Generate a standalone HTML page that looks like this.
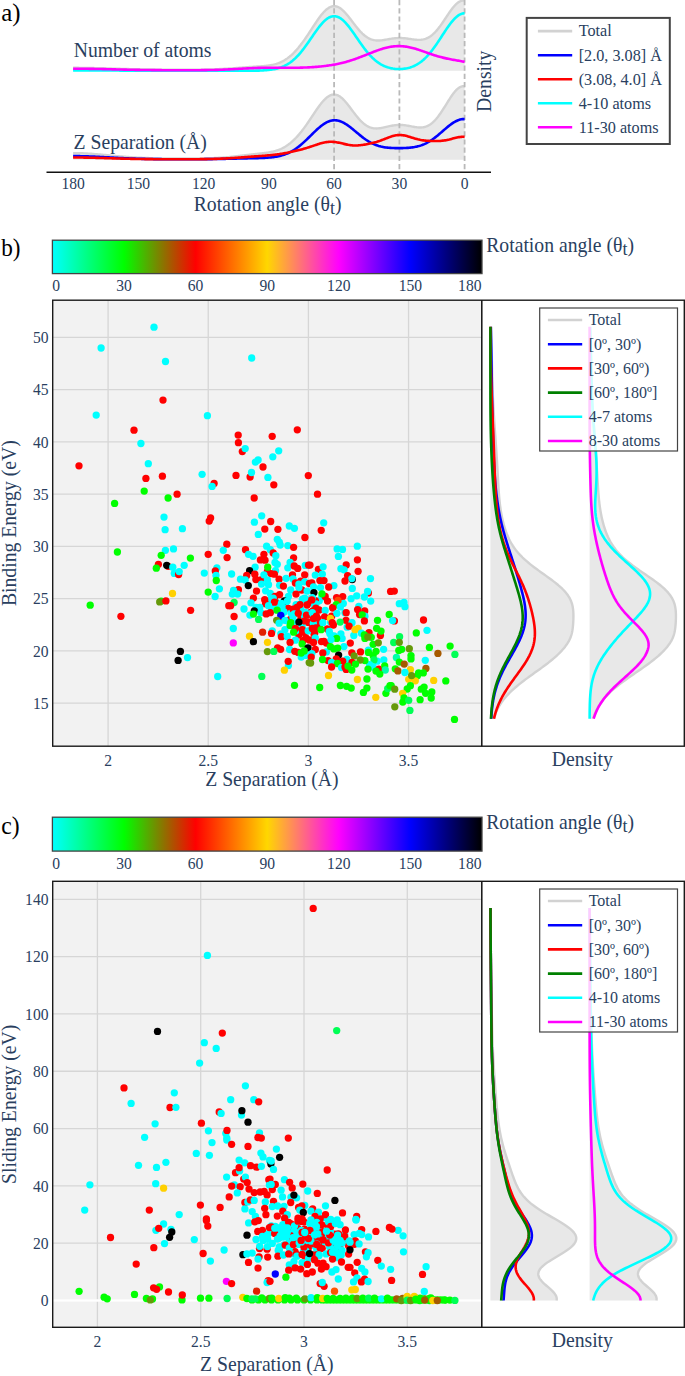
<!DOCTYPE html><html><head><meta charset="utf-8"><title>Figure</title><style>html,body{margin:0;padding:0;background:#fff}body{width:685px;height:1376px;overflow:hidden;font-family:"Liberation Serif",serif}</style></head><body><svg width="685" height="1376" viewBox="0 0 685 1376" style="display:block;font-family:'Liberation Serif',serif">
<rect width="685" height="1376" fill="#fff"/>
<path d="M464.60,0.64 L463.51,0.53 L462.43,0.60 L461.34,0.84 L460.25,1.25 L459.16,1.82 L458.08,2.54 L456.99,3.41 L455.90,4.40 L454.81,5.53 L453.73,6.76 L452.64,8.09 L451.55,9.51 L450.46,11.00 L449.38,12.54 L448.29,14.13 L447.20,15.75 L446.11,17.39 L445.03,19.03 L443.94,20.65 L442.85,22.26 L441.76,23.83 L440.68,25.36 L439.59,26.84 L438.50,28.25 L437.41,29.60 L436.33,30.87 L435.24,32.06 L434.15,33.16 L433.06,34.18 L431.98,35.11 L430.89,35.95 L429.80,36.70 L428.71,37.36 L427.62,37.94 L426.54,38.43 L425.45,38.84 L424.36,39.17 L423.28,39.44 L422.19,39.63 L421.10,39.77 L420.01,39.84 L418.93,39.87 L417.84,39.85 L416.75,39.80 L415.66,39.71 L414.58,39.60 L413.49,39.47 L412.40,39.32 L411.31,39.16 L410.23,39.00 L409.14,38.84 L408.05,38.69 L406.96,38.54 L405.88,38.41 L404.79,38.29 L403.70,38.19 L402.61,38.11 L401.53,38.06 L400.44,38.03 L399.35,38.02 L398.26,38.04 L397.18,38.09 L396.09,38.16 L395.00,38.25 L393.91,38.37 L392.83,38.50 L391.74,38.66 L390.65,38.83 L389.56,39.01 L388.48,39.20 L387.39,39.39 L386.30,39.58 L385.21,39.77 L384.12,39.95 L383.04,40.11 L381.95,40.25 L380.86,40.36 L379.78,40.45 L378.69,40.49 L377.60,40.49 L376.51,40.44 L375.43,40.34 L374.34,40.18 L373.25,39.96 L372.16,39.66 L371.08,39.30 L369.99,38.86 L368.90,38.34 L367.81,37.74 L366.73,37.07 L365.64,36.30 L364.55,35.46 L363.46,34.54 L362.38,33.54 L361.29,32.47 L360.20,31.33 L359.11,30.12 L358.03,28.86 L356.94,27.54 L355.85,26.18 L354.76,24.79 L353.68,23.37 L352.59,21.94 L351.50,20.50 L350.41,19.08 L349.33,17.67 L348.24,16.30 L347.15,14.97 L346.06,13.69 L344.98,12.49 L343.89,11.36 L342.80,10.31 L341.71,9.37 L340.62,8.53 L339.54,7.81 L338.45,7.22 L337.36,6.75 L336.28,6.41 L335.19,6.21 L334.10,6.15 L333.01,6.22 L331.93,6.44 L330.84,6.79 L329.75,7.28 L328.66,7.90 L327.58,8.64 L326.49,9.50 L325.40,10.48 L324.31,11.56 L323.23,12.74 L322.14,14.01 L321.05,15.35 L319.96,16.77 L318.88,18.25 L317.79,19.78 L316.70,21.35 L315.61,22.96 L314.53,24.60 L313.44,26.25 L312.35,27.92 L311.26,29.59 L310.18,31.25 L309.09,32.91 L308.00,34.55 L306.91,36.17 L305.83,37.77 L304.74,39.34 L303.65,40.87 L302.56,42.37 L301.48,43.82 L300.39,45.24 L299.30,46.61 L298.21,47.94 L297.12,49.21 L296.04,50.44 L294.95,51.61 L293.86,52.74 L292.78,53.81 L291.69,54.83 L290.60,55.79 L289.51,56.70 L288.43,57.56 L287.34,58.37 L286.25,59.12 L285.16,59.82 L284.08,60.48 L282.99,61.08 L281.90,61.64 L280.81,62.15 L279.73,62.62 L278.64,63.05 L277.55,63.44 L276.46,63.79 L275.38,64.11 L274.29,64.40 L273.20,64.66 L272.11,64.89 L271.03,65.10 L269.94,65.29 L268.85,65.45 L267.76,65.60 L266.68,65.74 L265.59,65.86 L264.50,65.97 L263.41,66.07 L262.33,66.16 L261.24,66.25 L260.15,66.33 L259.06,66.41 L257.98,66.48 L256.89,66.55 L255.80,66.63 L254.71,66.70 L253.63,66.77 L252.54,66.84 L251.45,66.91 L250.36,66.98 L249.28,67.06 L248.19,67.13 L247.10,67.21 L246.01,67.29 L244.93,67.37 L243.84,67.45 L242.75,67.53 L241.66,67.61 L240.58,67.69 L239.49,67.77 L238.40,67.86 L237.31,67.94 L236.23,68.02 L235.14,68.10 L234.05,68.18 L232.96,68.26 L231.88,68.33 L230.79,68.41 L229.70,68.48 L228.61,68.56 L227.53,68.63 L226.44,68.69 L225.35,68.76 L224.26,68.82 L223.18,68.89 L222.09,68.94 L221.00,69.00 L219.91,69.05 L218.83,69.11 L217.74,69.15 L216.65,69.20 L215.56,69.25 L214.48,69.29 L213.39,69.33 L212.30,69.36 L211.21,69.40 L210.13,69.43 L209.04,69.46 L207.95,69.49 L206.86,69.51 L205.78,69.54 L204.69,69.56 L203.60,69.58 L202.51,69.60 L201.43,69.62 L200.34,69.63 L199.25,69.65 L198.16,69.66 L197.08,69.67 L195.99,69.68 L194.90,69.69 L193.81,69.70 L192.73,69.71 L191.64,69.71 L190.55,69.72 L189.46,69.72 L188.38,69.73 L187.29,69.73 L186.20,69.73 L185.11,69.74 L184.03,69.74 L182.94,69.74 L181.85,69.74 L180.76,69.74 L179.68,69.73 L178.59,69.73 L177.50,69.73 L176.41,69.73 L175.33,69.72 L174.24,69.72 L173.15,69.72 L172.06,69.71 L170.98,69.71 L169.89,69.70 L168.80,69.70 L167.71,69.69 L166.63,69.68 L165.54,69.67 L164.45,69.67 L163.36,69.66 L162.28,69.65 L161.19,69.64 L160.10,69.63 L159.01,69.62 L157.93,69.61 L156.84,69.60 L155.75,69.58 L154.66,69.57 L153.58,69.56 L152.49,69.54 L151.40,69.53 L150.31,69.51 L149.23,69.50 L148.14,69.48 L147.05,69.46 L145.96,69.45 L144.88,69.43 L143.79,69.41 L142.70,69.39 L141.61,69.37 L140.53,69.35 L139.44,69.32 L138.35,69.30 L137.26,69.28 L136.18,69.25 L135.09,69.23 L134.00,69.20 L132.91,69.18 L131.83,69.15 L130.74,69.12 L129.65,69.10 L128.56,69.07 L127.48,69.04 L126.39,69.01 L125.30,68.98 L124.21,68.95 L123.13,68.92 L122.04,68.88 L120.95,68.85 L119.86,68.82 L118.78,68.79 L117.69,68.75 L116.60,68.72 L115.51,68.69 L114.43,68.65 L113.34,68.62 L112.25,68.59 L111.16,68.55 L110.08,68.52 L108.99,68.49 L107.90,68.45 L106.81,68.42 L105.73,68.39 L104.64,68.35 L103.55,68.32 L102.46,68.29 L101.38,68.26 L100.29,68.23 L99.20,68.20 L98.11,68.17 L97.03,68.14 L95.94,68.11 L94.85,68.09 L93.76,68.06 L92.68,68.04 L91.59,68.01 L90.50,67.99 L89.41,67.97 L88.33,67.95 L87.24,67.93 L86.15,67.91 L85.06,67.89 L83.98,67.88 L82.89,67.86 L81.80,67.85 L80.71,67.84 L79.63,67.83 L78.54,67.82 L77.45,67.81 L76.36,67.81 L75.28,67.80 L74.19,67.80 L73.10,67.80 L73.10,70.80 L464.60,70.80 Z" fill="#e8e8e8" stroke="none"/>
<path d="M464.60,0.64 L463.51,0.53 L462.43,0.60 L461.34,0.84 L460.25,1.25 L459.16,1.82 L458.08,2.54 L456.99,3.41 L455.90,4.40 L454.81,5.53 L453.73,6.76 L452.64,8.09 L451.55,9.51 L450.46,11.00 L449.38,12.54 L448.29,14.13 L447.20,15.75 L446.11,17.39 L445.03,19.03 L443.94,20.65 L442.85,22.26 L441.76,23.83 L440.68,25.36 L439.59,26.84 L438.50,28.25 L437.41,29.60 L436.33,30.87 L435.24,32.06 L434.15,33.16 L433.06,34.18 L431.98,35.11 L430.89,35.95 L429.80,36.70 L428.71,37.36 L427.62,37.94 L426.54,38.43 L425.45,38.84 L424.36,39.17 L423.28,39.44 L422.19,39.63 L421.10,39.77 L420.01,39.84 L418.93,39.87 L417.84,39.85 L416.75,39.80 L415.66,39.71 L414.58,39.60 L413.49,39.47 L412.40,39.32 L411.31,39.16 L410.23,39.00 L409.14,38.84 L408.05,38.69 L406.96,38.54 L405.88,38.41 L404.79,38.29 L403.70,38.19 L402.61,38.11 L401.53,38.06 L400.44,38.03 L399.35,38.02 L398.26,38.04 L397.18,38.09 L396.09,38.16 L395.00,38.25 L393.91,38.37 L392.83,38.50 L391.74,38.66 L390.65,38.83 L389.56,39.01 L388.48,39.20 L387.39,39.39 L386.30,39.58 L385.21,39.77 L384.12,39.95 L383.04,40.11 L381.95,40.25 L380.86,40.36 L379.78,40.45 L378.69,40.49 L377.60,40.49 L376.51,40.44 L375.43,40.34 L374.34,40.18 L373.25,39.96 L372.16,39.66 L371.08,39.30 L369.99,38.86 L368.90,38.34 L367.81,37.74 L366.73,37.07 L365.64,36.30 L364.55,35.46 L363.46,34.54 L362.38,33.54 L361.29,32.47 L360.20,31.33 L359.11,30.12 L358.03,28.86 L356.94,27.54 L355.85,26.18 L354.76,24.79 L353.68,23.37 L352.59,21.94 L351.50,20.50 L350.41,19.08 L349.33,17.67 L348.24,16.30 L347.15,14.97 L346.06,13.69 L344.98,12.49 L343.89,11.36 L342.80,10.31 L341.71,9.37 L340.62,8.53 L339.54,7.81 L338.45,7.22 L337.36,6.75 L336.28,6.41 L335.19,6.21 L334.10,6.15 L333.01,6.22 L331.93,6.44 L330.84,6.79 L329.75,7.28 L328.66,7.90 L327.58,8.64 L326.49,9.50 L325.40,10.48 L324.31,11.56 L323.23,12.74 L322.14,14.01 L321.05,15.35 L319.96,16.77 L318.88,18.25 L317.79,19.78 L316.70,21.35 L315.61,22.96 L314.53,24.60 L313.44,26.25 L312.35,27.92 L311.26,29.59 L310.18,31.25 L309.09,32.91 L308.00,34.55 L306.91,36.17 L305.83,37.77 L304.74,39.34 L303.65,40.87 L302.56,42.37 L301.48,43.82 L300.39,45.24 L299.30,46.61 L298.21,47.94 L297.12,49.21 L296.04,50.44 L294.95,51.61 L293.86,52.74 L292.78,53.81 L291.69,54.83 L290.60,55.79 L289.51,56.70 L288.43,57.56 L287.34,58.37 L286.25,59.12 L285.16,59.82 L284.08,60.48 L282.99,61.08 L281.90,61.64 L280.81,62.15 L279.73,62.62 L278.64,63.05 L277.55,63.44 L276.46,63.79 L275.38,64.11 L274.29,64.40 L273.20,64.66 L272.11,64.89 L271.03,65.10 L269.94,65.29 L268.85,65.45 L267.76,65.60 L266.68,65.74 L265.59,65.86 L264.50,65.97 L263.41,66.07 L262.33,66.16 L261.24,66.25 L260.15,66.33 L259.06,66.41 L257.98,66.48 L256.89,66.55 L255.80,66.63 L254.71,66.70 L253.63,66.77 L252.54,66.84 L251.45,66.91 L250.36,66.98 L249.28,67.06 L248.19,67.13 L247.10,67.21 L246.01,67.29 L244.93,67.37 L243.84,67.45 L242.75,67.53 L241.66,67.61 L240.58,67.69 L239.49,67.77 L238.40,67.86 L237.31,67.94 L236.23,68.02 L235.14,68.10 L234.05,68.18 L232.96,68.26 L231.88,68.33 L230.79,68.41 L229.70,68.48 L228.61,68.56 L227.53,68.63 L226.44,68.69 L225.35,68.76 L224.26,68.82 L223.18,68.89 L222.09,68.94 L221.00,69.00 L219.91,69.05 L218.83,69.11 L217.74,69.15 L216.65,69.20 L215.56,69.25 L214.48,69.29 L213.39,69.33 L212.30,69.36 L211.21,69.40 L210.13,69.43 L209.04,69.46 L207.95,69.49 L206.86,69.51 L205.78,69.54 L204.69,69.56 L203.60,69.58 L202.51,69.60 L201.43,69.62 L200.34,69.63 L199.25,69.65 L198.16,69.66 L197.08,69.67 L195.99,69.68 L194.90,69.69 L193.81,69.70 L192.73,69.71 L191.64,69.71 L190.55,69.72 L189.46,69.72 L188.38,69.73 L187.29,69.73 L186.20,69.73 L185.11,69.74 L184.03,69.74 L182.94,69.74 L181.85,69.74 L180.76,69.74 L179.68,69.73 L178.59,69.73 L177.50,69.73 L176.41,69.73 L175.33,69.72 L174.24,69.72 L173.15,69.72 L172.06,69.71 L170.98,69.71 L169.89,69.70 L168.80,69.70 L167.71,69.69 L166.63,69.68 L165.54,69.67 L164.45,69.67 L163.36,69.66 L162.28,69.65 L161.19,69.64 L160.10,69.63 L159.01,69.62 L157.93,69.61 L156.84,69.60 L155.75,69.58 L154.66,69.57 L153.58,69.56 L152.49,69.54 L151.40,69.53 L150.31,69.51 L149.23,69.50 L148.14,69.48 L147.05,69.46 L145.96,69.45 L144.88,69.43 L143.79,69.41 L142.70,69.39 L141.61,69.37 L140.53,69.35 L139.44,69.32 L138.35,69.30 L137.26,69.28 L136.18,69.25 L135.09,69.23 L134.00,69.20 L132.91,69.18 L131.83,69.15 L130.74,69.12 L129.65,69.10 L128.56,69.07 L127.48,69.04 L126.39,69.01 L125.30,68.98 L124.21,68.95 L123.13,68.92 L122.04,68.88 L120.95,68.85 L119.86,68.82 L118.78,68.79 L117.69,68.75 L116.60,68.72 L115.51,68.69 L114.43,68.65 L113.34,68.62 L112.25,68.59 L111.16,68.55 L110.08,68.52 L108.99,68.49 L107.90,68.45 L106.81,68.42 L105.73,68.39 L104.64,68.35 L103.55,68.32 L102.46,68.29 L101.38,68.26 L100.29,68.23 L99.20,68.20 L98.11,68.17 L97.03,68.14 L95.94,68.11 L94.85,68.09 L93.76,68.06 L92.68,68.04 L91.59,68.01 L90.50,67.99 L89.41,67.97 L88.33,67.95 L87.24,67.93 L86.15,67.91 L85.06,67.89 L83.98,67.88 L82.89,67.86 L81.80,67.85 L80.71,67.84 L79.63,67.83 L78.54,67.82 L77.45,67.81 L76.36,67.81 L75.28,67.80 L74.19,67.80 L73.10,67.80" fill="none" stroke="#d2d2d2" stroke-width="2.4" stroke-linejoin="round"/>
<path d="M464.60,86.30 L463.51,86.19 L462.43,86.27 L461.34,86.54 L460.25,86.99 L459.16,87.62 L458.08,88.41 L456.99,89.35 L455.90,90.45 L454.81,91.67 L453.73,93.02 L452.64,94.47 L451.55,96.01 L450.46,97.62 L449.38,99.29 L448.29,101.01 L447.20,102.76 L446.11,104.51 L445.03,106.27 L443.94,108.01 L442.85,109.72 L441.76,111.39 L440.68,113.01 L439.59,114.56 L438.50,116.05 L437.41,117.45 L436.33,118.77 L435.24,120.00 L434.15,121.14 L433.06,122.17 L431.98,123.11 L430.89,123.95 L429.80,124.69 L428.71,125.34 L427.62,125.89 L426.54,126.35 L425.45,126.72 L424.36,127.01 L423.28,127.23 L422.19,127.38 L421.10,127.46 L420.01,127.48 L418.93,127.45 L417.84,127.38 L416.75,127.27 L415.66,127.13 L414.58,126.96 L413.49,126.77 L412.40,126.58 L411.31,126.37 L410.23,126.17 L409.14,125.96 L408.05,125.77 L406.96,125.59 L405.88,125.43 L404.79,125.28 L403.70,125.16 L402.61,125.07 L401.53,125.01 L400.44,124.97 L399.35,124.96 L398.26,124.99 L397.18,125.04 L396.09,125.12 L395.00,125.24 L393.91,125.38 L392.83,125.55 L391.74,125.73 L390.65,125.94 L389.56,126.17 L388.48,126.41 L387.39,126.65 L386.30,126.90 L385.21,127.15 L384.12,127.40 L383.04,127.63 L381.95,127.84 L380.86,128.03 L379.78,128.19 L378.69,128.31 L377.60,128.40 L376.51,128.43 L375.43,128.41 L374.34,128.34 L373.25,128.19 L372.16,127.98 L371.08,127.70 L369.99,127.33 L368.90,126.89 L367.81,126.36 L366.73,125.75 L365.64,125.05 L364.55,124.26 L363.46,123.39 L362.38,122.43 L361.29,121.40 L360.20,120.29 L359.11,119.10 L358.03,117.85 L356.94,116.54 L355.85,115.19 L354.76,113.79 L353.68,112.36 L352.59,110.91 L351.50,109.45 L350.41,108.00 L349.33,106.56 L348.24,105.15 L347.15,103.78 L346.06,102.46 L344.98,101.21 L343.89,100.04 L342.80,98.95 L341.71,97.96 L340.62,97.09 L339.54,96.32 L338.45,95.69 L337.36,95.18 L336.28,94.82 L335.19,94.59 L334.10,94.50 L333.01,94.56 L331.93,94.76 L330.84,95.10 L329.75,95.58 L328.66,96.19 L327.58,96.92 L326.49,97.78 L325.40,98.75 L324.31,99.83 L323.23,101.01 L322.14,102.27 L321.05,103.61 L319.96,105.02 L318.88,106.49 L317.79,108.00 L316.70,109.56 L315.61,111.15 L314.53,112.76 L313.44,114.39 L312.35,116.02 L311.26,117.65 L310.18,119.28 L309.09,120.89 L308.00,122.48 L306.91,124.06 L305.83,125.60 L304.74,127.11 L303.65,128.59 L302.56,130.03 L301.48,131.43 L300.39,132.78 L299.30,134.10 L298.21,135.36 L297.12,136.58 L296.04,137.75 L294.95,138.87 L293.86,139.95 L292.78,140.97 L291.69,141.94 L290.60,142.86 L289.51,143.73 L288.43,144.56 L287.34,145.33 L286.25,146.05 L285.16,146.73 L284.08,147.36 L282.99,147.94 L281.90,148.48 L280.81,148.99 L279.73,149.45 L278.64,149.87 L277.55,150.26 L276.46,150.61 L275.38,150.94 L274.29,151.24 L273.20,151.51 L272.11,151.75 L271.03,151.98 L269.94,152.19 L268.85,152.38 L267.76,152.56 L266.68,152.72 L265.59,152.88 L264.50,153.02 L263.41,153.16 L262.33,153.29 L261.24,153.42 L260.15,153.55 L259.06,153.67 L257.98,153.79 L256.89,153.92 L255.80,154.04 L254.71,154.16 L253.63,154.28 L252.54,154.41 L251.45,154.53 L250.36,154.66 L249.28,154.78 L248.19,154.91 L247.10,155.04 L246.01,155.17 L244.93,155.30 L243.84,155.43 L242.75,155.56 L241.66,155.69 L240.58,155.81 L239.49,155.94 L238.40,156.06 L237.31,156.19 L236.23,156.31 L235.14,156.43 L234.05,156.54 L232.96,156.66 L231.88,156.77 L230.79,156.87 L229.70,156.98 L228.61,157.08 L227.53,157.17 L226.44,157.26 L225.35,157.35 L224.26,157.44 L223.18,157.52 L222.09,157.59 L221.00,157.67 L219.91,157.74 L218.83,157.80 L217.74,157.86 L216.65,157.92 L215.56,157.98 L214.48,158.03 L213.39,158.08 L212.30,158.12 L211.21,158.16 L210.13,158.20 L209.04,158.24 L207.95,158.27 L206.86,158.30 L205.78,158.33 L204.69,158.35 L203.60,158.38 L202.51,158.40 L201.43,158.42 L200.34,158.43 L199.25,158.45 L198.16,158.46 L197.08,158.48 L195.99,158.49 L194.90,158.50 L193.81,158.51 L192.73,158.51 L191.64,158.52 L190.55,158.53 L189.46,158.53 L188.38,158.53 L187.29,158.54 L186.20,158.54 L185.11,158.54 L184.03,158.54 L182.94,158.54 L181.85,158.54 L180.76,158.54 L179.68,158.53 L178.59,158.53 L177.50,158.53 L176.41,158.52 L175.33,158.52 L174.24,158.51 L173.15,158.51 L172.06,158.50 L170.98,158.49 L169.89,158.48 L168.80,158.47 L167.71,158.46 L166.63,158.45 L165.54,158.44 L164.45,158.42 L163.36,158.41 L162.28,158.39 L161.19,158.38 L160.10,158.36 L159.01,158.34 L157.93,158.32 L156.84,158.30 L155.75,158.27 L154.66,158.25 L153.58,158.22 L152.49,158.19 L151.40,158.16 L150.31,158.13 L149.23,158.10 L148.14,158.06 L147.05,158.02 L145.96,157.99 L144.88,157.94 L143.79,157.90 L142.70,157.86 L141.61,157.81 L140.53,157.76 L139.44,157.71 L138.35,157.65 L137.26,157.59 L136.18,157.54 L135.09,157.47 L134.00,157.41 L132.91,157.34 L131.83,157.28 L130.74,157.20 L129.65,157.13 L128.56,157.06 L127.48,156.98 L126.39,156.90 L125.30,156.81 L124.21,156.73 L123.13,156.64 L122.04,156.55 L120.95,156.46 L119.86,156.37 L118.78,156.28 L117.69,156.18 L116.60,156.08 L115.51,155.98 L114.43,155.88 L113.34,155.78 L112.25,155.68 L111.16,155.58 L110.08,155.47 L108.99,155.37 L107.90,155.26 L106.81,155.16 L105.73,155.06 L104.64,154.95 L103.55,154.85 L102.46,154.75 L101.38,154.65 L100.29,154.55 L99.20,154.45 L98.11,154.35 L97.03,154.26 L95.94,154.17 L94.85,154.08 L93.76,153.99 L92.68,153.90 L91.59,153.82 L90.50,153.75 L89.41,153.67 L88.33,153.60 L87.24,153.54 L86.15,153.47 L85.06,153.42 L83.98,153.36 L82.89,153.31 L81.80,153.27 L80.71,153.23 L79.63,153.20 L78.54,153.17 L77.45,153.14 L76.36,153.12 L75.28,153.11 L74.19,153.10 L73.10,153.10 L73.10,159.80 L464.60,159.80 Z" fill="#e8e8e8" stroke="none"/>
<path d="M464.60,86.30 L463.51,86.19 L462.43,86.27 L461.34,86.54 L460.25,86.99 L459.16,87.62 L458.08,88.41 L456.99,89.35 L455.90,90.45 L454.81,91.67 L453.73,93.02 L452.64,94.47 L451.55,96.01 L450.46,97.62 L449.38,99.29 L448.29,101.01 L447.20,102.76 L446.11,104.51 L445.03,106.27 L443.94,108.01 L442.85,109.72 L441.76,111.39 L440.68,113.01 L439.59,114.56 L438.50,116.05 L437.41,117.45 L436.33,118.77 L435.24,120.00 L434.15,121.14 L433.06,122.17 L431.98,123.11 L430.89,123.95 L429.80,124.69 L428.71,125.34 L427.62,125.89 L426.54,126.35 L425.45,126.72 L424.36,127.01 L423.28,127.23 L422.19,127.38 L421.10,127.46 L420.01,127.48 L418.93,127.45 L417.84,127.38 L416.75,127.27 L415.66,127.13 L414.58,126.96 L413.49,126.77 L412.40,126.58 L411.31,126.37 L410.23,126.17 L409.14,125.96 L408.05,125.77 L406.96,125.59 L405.88,125.43 L404.79,125.28 L403.70,125.16 L402.61,125.07 L401.53,125.01 L400.44,124.97 L399.35,124.96 L398.26,124.99 L397.18,125.04 L396.09,125.12 L395.00,125.24 L393.91,125.38 L392.83,125.55 L391.74,125.73 L390.65,125.94 L389.56,126.17 L388.48,126.41 L387.39,126.65 L386.30,126.90 L385.21,127.15 L384.12,127.40 L383.04,127.63 L381.95,127.84 L380.86,128.03 L379.78,128.19 L378.69,128.31 L377.60,128.40 L376.51,128.43 L375.43,128.41 L374.34,128.34 L373.25,128.19 L372.16,127.98 L371.08,127.70 L369.99,127.33 L368.90,126.89 L367.81,126.36 L366.73,125.75 L365.64,125.05 L364.55,124.26 L363.46,123.39 L362.38,122.43 L361.29,121.40 L360.20,120.29 L359.11,119.10 L358.03,117.85 L356.94,116.54 L355.85,115.19 L354.76,113.79 L353.68,112.36 L352.59,110.91 L351.50,109.45 L350.41,108.00 L349.33,106.56 L348.24,105.15 L347.15,103.78 L346.06,102.46 L344.98,101.21 L343.89,100.04 L342.80,98.95 L341.71,97.96 L340.62,97.09 L339.54,96.32 L338.45,95.69 L337.36,95.18 L336.28,94.82 L335.19,94.59 L334.10,94.50 L333.01,94.56 L331.93,94.76 L330.84,95.10 L329.75,95.58 L328.66,96.19 L327.58,96.92 L326.49,97.78 L325.40,98.75 L324.31,99.83 L323.23,101.01 L322.14,102.27 L321.05,103.61 L319.96,105.02 L318.88,106.49 L317.79,108.00 L316.70,109.56 L315.61,111.15 L314.53,112.76 L313.44,114.39 L312.35,116.02 L311.26,117.65 L310.18,119.28 L309.09,120.89 L308.00,122.48 L306.91,124.06 L305.83,125.60 L304.74,127.11 L303.65,128.59 L302.56,130.03 L301.48,131.43 L300.39,132.78 L299.30,134.10 L298.21,135.36 L297.12,136.58 L296.04,137.75 L294.95,138.87 L293.86,139.95 L292.78,140.97 L291.69,141.94 L290.60,142.86 L289.51,143.73 L288.43,144.56 L287.34,145.33 L286.25,146.05 L285.16,146.73 L284.08,147.36 L282.99,147.94 L281.90,148.48 L280.81,148.99 L279.73,149.45 L278.64,149.87 L277.55,150.26 L276.46,150.61 L275.38,150.94 L274.29,151.24 L273.20,151.51 L272.11,151.75 L271.03,151.98 L269.94,152.19 L268.85,152.38 L267.76,152.56 L266.68,152.72 L265.59,152.88 L264.50,153.02 L263.41,153.16 L262.33,153.29 L261.24,153.42 L260.15,153.55 L259.06,153.67 L257.98,153.79 L256.89,153.92 L255.80,154.04 L254.71,154.16 L253.63,154.28 L252.54,154.41 L251.45,154.53 L250.36,154.66 L249.28,154.78 L248.19,154.91 L247.10,155.04 L246.01,155.17 L244.93,155.30 L243.84,155.43 L242.75,155.56 L241.66,155.69 L240.58,155.81 L239.49,155.94 L238.40,156.06 L237.31,156.19 L236.23,156.31 L235.14,156.43 L234.05,156.54 L232.96,156.66 L231.88,156.77 L230.79,156.87 L229.70,156.98 L228.61,157.08 L227.53,157.17 L226.44,157.26 L225.35,157.35 L224.26,157.44 L223.18,157.52 L222.09,157.59 L221.00,157.67 L219.91,157.74 L218.83,157.80 L217.74,157.86 L216.65,157.92 L215.56,157.98 L214.48,158.03 L213.39,158.08 L212.30,158.12 L211.21,158.16 L210.13,158.20 L209.04,158.24 L207.95,158.27 L206.86,158.30 L205.78,158.33 L204.69,158.35 L203.60,158.38 L202.51,158.40 L201.43,158.42 L200.34,158.43 L199.25,158.45 L198.16,158.46 L197.08,158.48 L195.99,158.49 L194.90,158.50 L193.81,158.51 L192.73,158.51 L191.64,158.52 L190.55,158.53 L189.46,158.53 L188.38,158.53 L187.29,158.54 L186.20,158.54 L185.11,158.54 L184.03,158.54 L182.94,158.54 L181.85,158.54 L180.76,158.54 L179.68,158.53 L178.59,158.53 L177.50,158.53 L176.41,158.52 L175.33,158.52 L174.24,158.51 L173.15,158.51 L172.06,158.50 L170.98,158.49 L169.89,158.48 L168.80,158.47 L167.71,158.46 L166.63,158.45 L165.54,158.44 L164.45,158.42 L163.36,158.41 L162.28,158.39 L161.19,158.38 L160.10,158.36 L159.01,158.34 L157.93,158.32 L156.84,158.30 L155.75,158.27 L154.66,158.25 L153.58,158.22 L152.49,158.19 L151.40,158.16 L150.31,158.13 L149.23,158.10 L148.14,158.06 L147.05,158.02 L145.96,157.99 L144.88,157.94 L143.79,157.90 L142.70,157.86 L141.61,157.81 L140.53,157.76 L139.44,157.71 L138.35,157.65 L137.26,157.59 L136.18,157.54 L135.09,157.47 L134.00,157.41 L132.91,157.34 L131.83,157.28 L130.74,157.20 L129.65,157.13 L128.56,157.06 L127.48,156.98 L126.39,156.90 L125.30,156.81 L124.21,156.73 L123.13,156.64 L122.04,156.55 L120.95,156.46 L119.86,156.37 L118.78,156.28 L117.69,156.18 L116.60,156.08 L115.51,155.98 L114.43,155.88 L113.34,155.78 L112.25,155.68 L111.16,155.58 L110.08,155.47 L108.99,155.37 L107.90,155.26 L106.81,155.16 L105.73,155.06 L104.64,154.95 L103.55,154.85 L102.46,154.75 L101.38,154.65 L100.29,154.55 L99.20,154.45 L98.11,154.35 L97.03,154.26 L95.94,154.17 L94.85,154.08 L93.76,153.99 L92.68,153.90 L91.59,153.82 L90.50,153.75 L89.41,153.67 L88.33,153.60 L87.24,153.54 L86.15,153.47 L85.06,153.42 L83.98,153.36 L82.89,153.31 L81.80,153.27 L80.71,153.23 L79.63,153.20 L78.54,153.17 L77.45,153.14 L76.36,153.12 L75.28,153.11 L74.19,153.10 L73.10,153.10" fill="none" stroke="#d2d2d2" stroke-width="2.4" stroke-linejoin="round"/>
<line x1="334.1" y1="0" x2="334.1" y2="172" stroke="#b9b9b9" stroke-width="1.8" stroke-dasharray="5.2,3"/>
<line x1="399.4" y1="0" x2="399.4" y2="172" stroke="#b9b9b9" stroke-width="1.8" stroke-dasharray="5.2,3"/>
<line x1="464.6" y1="0" x2="464.6" y2="172" stroke="#b9b9b9" stroke-width="1.8" stroke-dasharray="5.2,3"/>
<path d="M464.60,13.30 L463.51,13.37 L462.43,13.57 L461.34,13.89 L460.25,14.35 L459.16,14.94 L458.08,15.64 L456.99,16.47 L455.90,17.40 L454.81,18.44 L453.73,19.58 L452.64,20.80 L451.55,22.12 L450.46,23.50 L449.38,24.95 L448.29,26.47 L447.20,28.03 L446.11,29.63 L445.03,31.26 L443.94,32.91 L442.85,34.58 L441.76,36.26 L440.68,37.93 L439.59,39.60 L438.50,41.25 L437.41,42.87 L436.33,44.47 L435.24,46.04 L434.15,47.56 L433.06,49.04 L431.98,50.47 L430.89,51.86 L429.80,53.18 L428.71,54.46 L427.62,55.67 L426.54,56.83 L425.45,57.93 L424.36,58.96 L423.28,59.94 L422.19,60.86 L421.10,61.72 L420.01,62.52 L418.93,63.26 L417.84,63.96 L416.75,64.59 L415.66,65.18 L414.58,65.72 L413.49,66.21 L412.40,66.65 L411.31,67.05 L410.23,67.41 L409.14,67.73 L408.05,68.01 L406.96,68.26 L405.88,68.47 L404.79,68.64 L403.70,68.79 L402.61,68.90 L401.53,68.98 L400.44,69.03 L399.35,69.05 L398.26,69.04 L397.18,69.00 L396.09,68.94 L395.00,68.84 L393.91,68.71 L392.83,68.55 L391.74,68.35 L390.65,68.13 L389.56,67.86 L388.48,67.56 L387.39,67.23 L386.30,66.85 L385.21,66.43 L384.12,65.96 L383.04,65.46 L381.95,64.90 L380.86,64.30 L379.78,63.64 L378.69,62.93 L377.60,62.17 L376.51,61.36 L375.43,60.49 L374.34,59.56 L373.25,58.57 L372.16,57.53 L371.08,56.43 L369.99,55.28 L368.90,54.07 L367.81,52.81 L366.73,51.50 L365.64,50.14 L364.55,48.73 L363.46,47.28 L362.38,45.80 L361.29,44.28 L360.20,42.74 L359.11,41.17 L358.03,39.59 L356.94,38.00 L355.85,36.41 L354.76,34.82 L353.68,33.25 L352.59,31.70 L351.50,30.18 L350.41,28.70 L349.33,27.27 L348.24,25.89 L347.15,24.57 L346.06,23.33 L344.98,22.16 L343.89,21.08 L342.80,20.09 L341.71,19.21 L340.62,18.43 L339.54,17.75 L338.45,17.20 L337.36,16.76 L336.28,16.45 L335.19,16.26 L334.10,16.20 L333.01,16.26 L331.93,16.45 L330.84,16.76 L329.75,17.20 L328.66,17.75 L327.58,18.43 L326.49,19.21 L325.40,20.09 L324.31,21.08 L323.23,22.16 L322.14,23.33 L321.05,24.57 L319.96,25.89 L318.88,27.27 L317.79,28.70 L316.70,30.18 L315.61,31.70 L314.53,33.25 L313.44,34.82 L312.35,36.41 L311.26,38.00 L310.18,39.59 L309.09,41.17 L308.00,42.74 L306.91,44.28 L305.83,45.80 L304.74,47.29 L303.65,48.74 L302.56,50.14 L301.48,51.50 L300.39,52.82 L299.30,54.08 L298.21,55.29 L297.12,56.45 L296.04,57.55 L294.95,58.59 L293.86,59.58 L292.78,60.51 L291.69,61.39 L290.60,62.21 L289.51,62.98 L288.43,63.69 L287.34,64.36 L286.25,64.97 L285.16,65.54 L284.08,66.07 L282.99,66.55 L281.90,66.99 L280.81,67.40 L279.73,67.76 L278.64,68.10 L277.55,68.40 L276.46,68.68 L275.38,68.92 L274.29,69.14 L273.20,69.34 L272.11,69.52 L271.03,69.68 L269.94,69.82 L268.85,69.95 L267.76,70.06 L266.68,70.16 L265.59,70.24 L264.50,70.32 L263.41,70.39 L262.33,70.44 L261.24,70.50 L260.15,70.54 L259.06,70.58 L257.98,70.61 L256.89,70.64 L255.80,70.66 L254.71,70.68 L253.63,70.70 L252.54,70.72 L251.45,70.73 L250.36,70.74 L249.28,70.75 L248.19,70.76 L247.10,70.77 L246.01,70.77 L244.93,70.78 L243.84,70.78 L242.75,70.78 L241.66,70.79 L240.58,70.79 L239.49,70.79 L238.40,70.79 L237.31,70.79 L236.23,70.79 L235.14,70.80 L234.05,70.80 L232.96,70.80 L231.88,70.80 L230.79,70.80 L229.70,70.80 L228.61,70.80 L227.53,70.80 L226.44,70.80 L225.35,70.80 L224.26,70.80 L223.18,70.80 L222.09,70.80 L221.00,70.80 L219.91,70.80 L218.83,70.80 L217.74,70.80 L216.65,70.80 L215.56,70.80 L214.48,70.80 L213.39,70.80 L212.30,70.80 L211.21,70.80 L210.13,70.80 L209.04,70.80 L207.95,70.80 L206.86,70.80 L205.78,70.80 L204.69,70.80 L203.60,70.80 L202.51,70.80 L201.43,70.79 L200.34,70.79 L199.25,70.79 L198.16,70.79 L197.08,70.79 L195.99,70.79 L194.90,70.79 L193.81,70.79 L192.73,70.79 L191.64,70.79 L190.55,70.79 L189.46,70.79 L188.38,70.79 L187.29,70.79 L186.20,70.79 L185.11,70.79 L184.03,70.78 L182.94,70.78 L181.85,70.78 L180.76,70.78 L179.68,70.78 L178.59,70.78 L177.50,70.78 L176.41,70.78 L175.33,70.77 L174.24,70.77 L173.15,70.77 L172.06,70.77 L170.98,70.77 L169.89,70.77 L168.80,70.76 L167.71,70.76 L166.63,70.76 L165.54,70.76 L164.45,70.76 L163.36,70.75 L162.28,70.75 L161.19,70.75 L160.10,70.75 L159.01,70.74 L157.93,70.74 L156.84,70.74 L155.75,70.73 L154.66,70.73 L153.58,70.73 L152.49,70.72 L151.40,70.72 L150.31,70.72 L149.23,70.71 L148.14,70.71 L147.05,70.71 L145.96,70.70 L144.88,70.70 L143.79,70.69 L142.70,70.69 L141.61,70.68 L140.53,70.68 L139.44,70.67 L138.35,70.67 L137.26,70.67 L136.18,70.66 L135.09,70.66 L134.00,70.65 L132.91,70.64 L131.83,70.64 L130.74,70.63 L129.65,70.63 L128.56,70.62 L127.48,70.62 L126.39,70.61 L125.30,70.61 L124.21,70.60 L123.13,70.59 L122.04,70.59 L120.95,70.58 L119.86,70.58 L118.78,70.57 L117.69,70.56 L116.60,70.56 L115.51,70.55 L114.43,70.55 L113.34,70.54 L112.25,70.53 L111.16,70.53 L110.08,70.52 L108.99,70.52 L107.90,70.51 L106.81,70.50 L105.73,70.50 L104.64,70.49 L103.55,70.49 L102.46,70.48 L101.38,70.48 L100.29,70.47 L99.20,70.47 L98.11,70.46 L97.03,70.46 L95.94,70.45 L94.85,70.45 L93.76,70.44 L92.68,70.44 L91.59,70.43 L90.50,70.43 L89.41,70.43 L88.33,70.42 L87.24,70.42 L86.15,70.42 L85.06,70.41 L83.98,70.41 L82.89,70.41 L81.80,70.41 L80.71,70.41 L79.63,70.40 L78.54,70.40 L77.45,70.40 L76.36,70.40 L75.28,70.40 L74.19,70.40 L73.10,70.40" fill="none" stroke="#00ffff" stroke-width="2.6" stroke-linejoin="round" stroke-linecap="butt"/>
<path d="M464.60,61.85 L463.51,61.64 L462.43,61.43 L461.34,61.22 L460.25,61.02 L459.16,60.83 L458.08,60.63 L456.99,60.44 L455.90,60.25 L454.81,60.05 L453.73,59.86 L452.64,59.66 L451.55,59.46 L450.46,59.26 L449.38,59.05 L448.29,58.83 L447.20,58.61 L446.11,58.38 L445.03,58.14 L443.94,57.89 L442.85,57.63 L441.76,57.35 L440.68,57.07 L439.59,56.78 L438.50,56.48 L437.41,56.16 L436.33,55.84 L435.24,55.50 L434.15,55.15 L433.06,54.80 L431.98,54.44 L430.89,54.07 L429.80,53.69 L428.71,53.31 L427.62,52.93 L426.54,52.54 L425.45,52.15 L424.36,51.76 L423.28,51.38 L422.19,50.99 L421.10,50.62 L420.01,50.24 L418.93,49.88 L417.84,49.52 L416.75,49.18 L415.66,48.85 L414.58,48.53 L413.49,48.22 L412.40,47.94 L411.31,47.67 L410.23,47.41 L409.14,47.18 L408.05,46.97 L406.96,46.78 L405.88,46.61 L404.79,46.47 L403.70,46.35 L402.61,46.25 L401.53,46.18 L400.44,46.13 L399.35,46.10 L398.26,46.11 L397.18,46.13 L396.09,46.18 L395.00,46.26 L393.91,46.36 L392.83,46.49 L391.74,46.64 L390.65,46.81 L389.56,47.00 L388.48,47.22 L387.39,47.46 L386.30,47.72 L385.21,47.99 L384.12,48.29 L383.04,48.60 L381.95,48.93 L380.86,49.27 L379.78,49.63 L378.69,50.00 L377.60,50.38 L376.51,50.78 L375.43,51.18 L374.34,51.59 L373.25,52.01 L372.16,52.43 L371.08,52.86 L369.99,53.29 L368.90,53.72 L367.81,54.16 L366.73,54.59 L365.64,55.03 L364.55,55.46 L363.46,55.89 L362.38,56.32 L361.29,56.74 L360.20,57.16 L359.11,57.57 L358.03,57.98 L356.94,58.38 L355.85,58.77 L354.76,59.15 L353.68,59.52 L352.59,59.89 L351.50,60.24 L350.41,60.59 L349.33,60.93 L348.24,61.26 L347.15,61.57 L346.06,61.88 L344.98,62.18 L343.89,62.46 L342.80,62.74 L341.71,63.01 L340.62,63.27 L339.54,63.51 L338.45,63.75 L337.36,63.98 L336.28,64.20 L335.19,64.41 L334.10,64.61 L333.01,64.80 L331.93,64.99 L330.84,65.16 L329.75,65.33 L328.66,65.49 L327.58,65.65 L326.49,65.79 L325.40,65.93 L324.31,66.07 L323.23,66.19 L322.14,66.31 L321.05,66.43 L319.96,66.54 L318.88,66.64 L317.79,66.74 L316.70,66.83 L315.61,66.92 L314.53,67.00 L313.44,67.08 L312.35,67.15 L311.26,67.22 L310.18,67.28 L309.09,67.34 L308.00,67.39 L306.91,67.44 L305.83,67.49 L304.74,67.53 L303.65,67.57 L302.56,67.60 L301.48,67.63 L300.39,67.66 L299.30,67.68 L298.21,67.70 L297.12,67.72 L296.04,67.73 L294.95,67.74 L293.86,67.75 L292.78,67.76 L291.69,67.76 L290.60,67.76 L289.51,67.76 L288.43,67.76 L287.34,67.76 L286.25,67.75 L285.16,67.74 L284.08,67.74 L282.99,67.73 L281.90,67.72 L280.81,67.72 L279.73,67.71 L278.64,67.70 L277.55,67.70 L276.46,67.69 L275.38,67.69 L274.29,67.68 L273.20,67.68 L272.11,67.68 L271.03,67.69 L269.94,67.69 L268.85,67.70 L267.76,67.71 L266.68,67.72 L265.59,67.74 L264.50,67.75 L263.41,67.77 L262.33,67.80 L261.24,67.82 L260.15,67.85 L259.06,67.88 L257.98,67.92 L256.89,67.96 L255.80,68.00 L254.71,68.04 L253.63,68.08 L252.54,68.13 L251.45,68.18 L250.36,68.23 L249.28,68.29 L248.19,68.34 L247.10,68.40 L246.01,68.46 L244.93,68.51 L243.84,68.57 L242.75,68.63 L241.66,68.69 L240.58,68.76 L239.49,68.82 L238.40,68.88 L237.31,68.94 L236.23,69.00 L235.14,69.06 L234.05,69.12 L232.96,69.18 L231.88,69.23 L230.79,69.29 L229.70,69.34 L228.61,69.40 L227.53,69.45 L226.44,69.50 L225.35,69.55 L224.26,69.59 L223.18,69.64 L222.09,69.68 L221.00,69.72 L219.91,69.76 L218.83,69.80 L217.74,69.83 L216.65,69.87 L215.56,69.90 L214.48,69.93 L213.39,69.96 L212.30,69.98 L211.21,70.01 L210.13,70.03 L209.04,70.05 L207.95,70.07 L206.86,70.09 L205.78,70.11 L204.69,70.13 L203.60,70.14 L202.51,70.16 L201.43,70.17 L200.34,70.18 L199.25,70.19 L198.16,70.20 L197.08,70.21 L195.99,70.21 L194.90,70.22 L193.81,70.23 L192.73,70.23 L191.64,70.24 L190.55,70.24 L189.46,70.24 L188.38,70.25 L187.29,70.25 L186.20,70.25 L185.11,70.25 L184.03,70.25 L182.94,70.25 L181.85,70.25 L180.76,70.25 L179.68,70.25 L178.59,70.25 L177.50,70.25 L176.41,70.24 L175.33,70.24 L174.24,70.24 L173.15,70.23 L172.06,70.23 L170.98,70.23 L169.89,70.22 L168.80,70.22 L167.71,70.21 L166.63,70.21 L165.54,70.20 L164.45,70.19 L163.36,70.19 L162.28,70.18 L161.19,70.17 L160.10,70.16 L159.01,70.16 L157.93,70.15 L156.84,70.14 L155.75,70.13 L154.66,70.12 L153.58,70.11 L152.49,70.10 L151.40,70.08 L150.31,70.07 L149.23,70.06 L148.14,70.04 L147.05,70.03 L145.96,70.02 L144.88,70.00 L143.79,69.99 L142.70,69.97 L141.61,69.95 L140.53,69.94 L139.44,69.92 L138.35,69.90 L137.26,69.88 L136.18,69.86 L135.09,69.84 L134.00,69.82 L132.91,69.80 L131.83,69.78 L130.74,69.76 L129.65,69.74 L128.56,69.71 L127.48,69.69 L126.39,69.67 L125.30,69.64 L124.21,69.62 L123.13,69.59 L122.04,69.57 L120.95,69.54 L119.86,69.52 L118.78,69.49 L117.69,69.46 L116.60,69.44 L115.51,69.41 L114.43,69.38 L113.34,69.36 L112.25,69.33 L111.16,69.30 L110.08,69.28 L108.99,69.25 L107.90,69.22 L106.81,69.20 L105.73,69.17 L104.64,69.14 L103.55,69.12 L102.46,69.09 L101.38,69.07 L100.29,69.04 L99.20,69.02 L98.11,69.00 L97.03,68.97 L95.94,68.95 L94.85,68.93 L93.76,68.91 L92.68,68.89 L91.59,68.87 L90.50,68.85 L89.41,68.83 L88.33,68.82 L87.24,68.80 L86.15,68.79 L85.06,68.77 L83.98,68.76 L82.89,68.75 L81.80,68.74 L80.71,68.73 L79.63,68.72 L78.54,68.72 L77.45,68.71 L76.36,68.71 L75.28,68.70 L74.19,68.70 L73.10,68.70" fill="none" stroke="#ff00ff" stroke-width="2.6" stroke-linejoin="round" stroke-linecap="butt"/>
<path d="M464.60,119.08 L463.51,119.08 L462.43,119.16 L461.34,119.32 L460.25,119.55 L459.16,119.86 L458.08,120.25 L456.99,120.71 L455.90,121.23 L454.81,121.82 L453.73,122.46 L452.64,123.16 L451.55,123.91 L450.46,124.70 L449.38,125.53 L448.29,126.39 L447.20,127.28 L446.11,128.19 L445.03,129.12 L443.94,130.06 L442.85,131.01 L441.76,131.95 L440.68,132.89 L439.59,133.83 L438.50,134.75 L437.41,135.65 L436.33,136.53 L435.24,137.38 L434.15,138.21 L433.06,139.01 L431.98,139.77 L430.89,140.50 L429.80,141.20 L428.71,141.85 L427.62,142.47 L426.54,143.05 L425.45,143.59 L424.36,144.10 L423.28,144.56 L422.19,144.99 L421.10,145.38 L420.01,145.74 L418.93,146.06 L417.84,146.35 L416.75,146.62 L415.66,146.85 L414.58,147.06 L413.49,147.24 L412.40,147.40 L411.31,147.54 L410.23,147.66 L409.14,147.76 L408.05,147.85 L406.96,147.92 L405.88,147.98 L404.79,148.03 L403.70,148.07 L402.61,148.10 L401.53,148.12 L400.44,148.14 L399.35,148.15 L398.26,148.14 L397.18,148.14 L396.09,148.12 L395.00,148.10 L393.91,148.06 L392.83,148.02 L391.74,147.97 L390.65,147.90 L389.56,147.83 L388.48,147.73 L387.39,147.62 L386.30,147.49 L385.21,147.35 L384.12,147.18 L383.04,146.98 L381.95,146.76 L380.86,146.52 L379.78,146.24 L378.69,145.94 L377.60,145.60 L376.51,145.22 L375.43,144.82 L374.34,144.37 L373.25,143.89 L372.16,143.37 L371.08,142.82 L369.99,142.23 L368.90,141.60 L367.81,140.93 L366.73,140.23 L365.64,139.50 L364.55,138.73 L363.46,137.93 L362.38,137.11 L361.29,136.26 L360.20,135.39 L359.11,134.51 L358.03,133.61 L356.94,132.70 L355.85,131.79 L354.76,130.87 L353.68,129.97 L352.59,129.07 L351.50,128.19 L350.41,127.33 L349.33,126.50 L348.24,125.70 L347.15,124.93 L346.06,124.21 L344.98,123.53 L343.89,122.91 L342.80,122.35 L341.71,121.84 L340.62,121.40 L339.54,121.03 L338.45,120.72 L337.36,120.49 L336.28,120.34 L335.19,120.27 L334.10,120.27 L333.01,120.35 L331.93,120.51 L330.84,120.75 L329.75,121.06 L328.66,121.45 L327.58,121.92 L326.49,122.45 L325.40,123.05 L324.31,123.72 L323.23,124.44 L322.14,125.23 L321.05,126.06 L319.96,126.94 L318.88,127.87 L317.79,128.83 L316.70,129.82 L315.61,130.84 L314.53,131.88 L313.44,132.94 L312.35,134.01 L311.26,135.08 L310.18,136.16 L309.09,137.23 L308.00,138.30 L306.91,139.35 L305.83,140.39 L304.74,141.41 L303.65,142.41 L302.56,143.38 L301.48,144.33 L300.39,145.24 L299.30,146.13 L298.21,146.97 L297.12,147.79 L296.04,148.57 L294.95,149.31 L293.86,150.01 L292.78,150.67 L291.69,151.30 L290.60,151.89 L289.51,152.45 L288.43,152.96 L287.34,153.45 L286.25,153.90 L285.16,154.31 L284.08,154.70 L282.99,155.05 L281.90,155.37 L280.81,155.67 L279.73,155.94 L278.64,156.19 L277.55,156.42 L276.46,156.62 L275.38,156.80 L274.29,156.97 L273.20,157.12 L272.11,157.25 L271.03,157.37 L269.94,157.47 L268.85,157.57 L267.76,157.65 L266.68,157.73 L265.59,157.79 L264.50,157.85 L263.41,157.90 L262.33,157.95 L261.24,157.99 L260.15,158.03 L259.06,158.07 L257.98,158.10 L256.89,158.13 L255.80,158.15 L254.71,158.18 L253.63,158.20 L252.54,158.23 L251.45,158.25 L250.36,158.27 L249.28,158.30 L248.19,158.32 L247.10,158.34 L246.01,158.37 L244.93,158.39 L243.84,158.41 L242.75,158.44 L241.66,158.46 L240.58,158.49 L239.49,158.51 L238.40,158.54 L237.31,158.56 L236.23,158.59 L235.14,158.61 L234.05,158.64 L232.96,158.66 L231.88,158.69 L230.79,158.72 L229.70,158.74 L228.61,158.77 L227.53,158.79 L226.44,158.82 L225.35,158.84 L224.26,158.86 L223.18,158.89 L222.09,158.91 L221.00,158.93 L219.91,158.95 L218.83,158.97 L217.74,158.99 L216.65,159.01 L215.56,159.03 L214.48,159.05 L213.39,159.07 L212.30,159.08 L211.21,159.10 L210.13,159.11 L209.04,159.13 L207.95,159.14 L206.86,159.15 L205.78,159.16 L204.69,159.17 L203.60,159.18 L202.51,159.19 L201.43,159.20 L200.34,159.21 L199.25,159.22 L198.16,159.22 L197.08,159.23 L195.99,159.23 L194.90,159.24 L193.81,159.24 L192.73,159.25 L191.64,159.25 L190.55,159.25 L189.46,159.26 L188.38,159.26 L187.29,159.26 L186.20,159.26 L185.11,159.26 L184.03,159.26 L182.94,159.26 L181.85,159.26 L180.76,159.26 L179.68,159.26 L178.59,159.26 L177.50,159.26 L176.41,159.25 L175.33,159.25 L174.24,159.25 L173.15,159.24 L172.06,159.24 L170.98,159.23 L169.89,159.23 L168.80,159.22 L167.71,159.22 L166.63,159.21 L165.54,159.20 L164.45,159.20 L163.36,159.19 L162.28,159.18 L161.19,159.17 L160.10,159.16 L159.01,159.15 L157.93,159.14 L156.84,159.12 L155.75,159.11 L154.66,159.09 L153.58,159.08 L152.49,159.06 L151.40,159.05 L150.31,159.03 L149.23,159.01 L148.14,158.99 L147.05,158.97 L145.96,158.94 L144.88,158.92 L143.79,158.89 L142.70,158.87 L141.61,158.84 L140.53,158.81 L139.44,158.78 L138.35,158.75 L137.26,158.72 L136.18,158.68 L135.09,158.65 L134.00,158.61 L132.91,158.57 L131.83,158.53 L130.74,158.49 L129.65,158.45 L128.56,158.40 L127.48,158.36 L126.39,158.31 L125.30,158.26 L124.21,158.21 L123.13,158.16 L122.04,158.11 L120.95,158.06 L119.86,158.00 L118.78,157.95 L117.69,157.89 L116.60,157.83 L115.51,157.78 L114.43,157.72 L113.34,157.66 L112.25,157.60 L111.16,157.54 L110.08,157.48 L108.99,157.42 L107.90,157.36 L106.81,157.30 L105.73,157.24 L104.64,157.18 L103.55,157.12 L102.46,157.06 L101.38,157.00 L100.29,156.94 L99.20,156.88 L98.11,156.83 L97.03,156.77 L95.94,156.72 L94.85,156.67 L93.76,156.62 L92.68,156.57 L91.59,156.52 L90.50,156.48 L89.41,156.43 L88.33,156.39 L87.24,156.35 L86.15,156.32 L85.06,156.28 L83.98,156.25 L82.89,156.22 L81.80,156.20 L80.71,156.18 L79.63,156.16 L78.54,156.14 L77.45,156.12 L76.36,156.11 L75.28,156.11 L74.19,156.10 L73.10,156.10" fill="none" stroke="#0000ff" stroke-width="2.6" stroke-linejoin="round" stroke-linecap="butt"/>
<path d="M464.60,136.87 L463.51,136.81 L462.43,136.81 L461.34,136.86 L460.25,136.97 L459.16,137.11 L458.08,137.30 L456.99,137.52 L455.90,137.77 L454.81,138.03 L453.73,138.31 L452.64,138.60 L451.55,138.89 L450.46,139.17 L449.38,139.45 L448.29,139.70 L447.20,139.94 L446.11,140.16 L445.03,140.35 L443.94,140.52 L442.85,140.66 L441.76,140.78 L440.68,140.88 L439.59,140.95 L438.50,141.00 L437.41,141.04 L436.33,141.06 L435.24,141.06 L434.15,141.06 L433.06,141.04 L431.98,141.01 L430.89,140.97 L429.80,140.93 L428.71,140.87 L427.62,140.80 L426.54,140.71 L425.45,140.61 L424.36,140.49 L423.28,140.35 L422.19,140.19 L421.10,140.01 L420.01,139.80 L418.93,139.56 L417.84,139.31 L416.75,139.03 L415.66,138.73 L414.58,138.41 L413.49,138.07 L412.40,137.73 L411.31,137.39 L410.23,137.04 L409.14,136.71 L408.05,136.39 L406.96,136.09 L405.88,135.81 L404.79,135.57 L403.70,135.37 L402.61,135.21 L401.53,135.10 L400.44,135.04 L399.35,135.03 L398.26,135.08 L397.18,135.17 L396.09,135.32 L395.00,135.52 L393.91,135.76 L392.83,136.05 L391.74,136.37 L390.65,136.73 L389.56,137.12 L388.48,137.52 L387.39,137.94 L386.30,138.37 L385.21,138.80 L384.12,139.24 L383.04,139.66 L381.95,140.08 L380.86,140.48 L379.78,140.87 L378.69,141.24 L377.60,141.59 L376.51,141.93 L375.43,142.24 L374.34,142.54 L373.25,142.82 L372.16,143.08 L371.08,143.34 L369.99,143.58 L368.90,143.80 L367.81,144.02 L366.73,144.23 L365.64,144.42 L364.55,144.61 L363.46,144.78 L362.38,144.94 L361.29,145.08 L360.20,145.21 L359.11,145.31 L358.03,145.39 L356.94,145.44 L355.85,145.47 L354.76,145.47 L353.68,145.44 L352.59,145.37 L351.50,145.27 L350.41,145.15 L349.33,144.99 L348.24,144.81 L347.15,144.60 L346.06,144.37 L344.98,144.13 L343.89,143.87 L342.80,143.61 L341.71,143.35 L340.62,143.10 L339.54,142.85 L338.45,142.62 L337.36,142.41 L336.28,142.23 L335.19,142.07 L334.10,141.95 L333.01,141.86 L331.93,141.80 L330.84,141.79 L329.75,141.81 L328.66,141.88 L327.58,141.98 L326.49,142.12 L325.40,142.30 L324.31,142.51 L323.23,142.75 L322.14,143.01 L321.05,143.30 L319.96,143.62 L318.88,143.95 L317.79,144.29 L316.70,144.65 L315.61,145.01 L314.53,145.38 L313.44,145.74 L312.35,146.11 L311.26,146.48 L310.18,146.84 L309.09,147.20 L308.00,147.54 L306.91,147.88 L305.83,148.22 L304.74,148.54 L303.65,148.86 L302.56,149.16 L301.48,149.46 L300.39,149.75 L299.30,150.04 L298.21,150.31 L297.12,150.58 L296.04,150.85 L294.95,151.10 L293.86,151.35 L292.78,151.60 L291.69,151.84 L290.60,152.07 L289.51,152.30 L288.43,152.52 L287.34,152.74 L286.25,152.95 L285.16,153.15 L284.08,153.35 L282.99,153.54 L281.90,153.72 L280.81,153.89 L279.73,154.05 L278.64,154.21 L277.55,154.36 L276.46,154.50 L275.38,154.64 L274.29,154.77 L273.20,154.89 L272.11,155.00 L271.03,155.11 L269.94,155.22 L268.85,155.32 L267.76,155.41 L266.68,155.51 L265.59,155.60 L264.50,155.68 L263.41,155.77 L262.33,155.85 L261.24,155.93 L260.15,156.02 L259.06,156.10 L257.98,156.18 L256.89,156.26 L255.80,156.34 L254.71,156.42 L253.63,156.50 L252.54,156.59 L251.45,156.67 L250.36,156.75 L249.28,156.84 L248.19,156.92 L247.10,157.00 L246.01,157.09 L244.93,157.17 L243.84,157.25 L242.75,157.34 L241.66,157.42 L240.58,157.50 L239.49,157.58 L238.40,157.66 L237.31,157.73 L236.23,157.81 L235.14,157.89 L234.05,157.96 L232.96,158.03 L231.88,158.10 L230.79,158.16 L229.70,158.23 L228.61,158.29 L227.53,158.35 L226.44,158.41 L225.35,158.46 L224.26,158.52 L223.18,158.57 L222.09,158.62 L221.00,158.66 L219.91,158.71 L218.83,158.75 L217.74,158.79 L216.65,158.83 L215.56,158.86 L214.48,158.89 L213.39,158.93 L212.30,158.96 L211.21,158.98 L210.13,159.01 L209.04,159.03 L207.95,159.05 L206.86,159.08 L205.78,159.09 L204.69,159.11 L203.60,159.13 L202.51,159.14 L201.43,159.16 L200.34,159.17 L199.25,159.18 L198.16,159.19 L197.08,159.20 L195.99,159.21 L194.90,159.22 L193.81,159.23 L192.73,159.23 L191.64,159.24 L190.55,159.25 L189.46,159.25 L188.38,159.25 L187.29,159.26 L186.20,159.26 L185.11,159.26 L184.03,159.26 L182.94,159.27 L181.85,159.27 L180.76,159.27 L179.68,159.27 L178.59,159.27 L177.50,159.27 L176.41,159.27 L175.33,159.27 L174.24,159.27 L173.15,159.26 L172.06,159.26 L170.98,159.26 L169.89,159.26 L168.80,159.26 L167.71,159.25 L166.63,159.25 L165.54,159.24 L164.45,159.24 L163.36,159.24 L162.28,159.23 L161.19,159.23 L160.10,159.22 L159.01,159.21 L157.93,159.21 L156.84,159.20 L155.75,159.19 L154.66,159.18 L153.58,159.18 L152.49,159.17 L151.40,159.16 L150.31,159.15 L149.23,159.14 L148.14,159.12 L147.05,159.11 L145.96,159.10 L144.88,159.09 L143.79,159.07 L142.70,159.06 L141.61,159.04 L140.53,159.02 L139.44,159.01 L138.35,158.99 L137.26,158.97 L136.18,158.95 L135.09,158.93 L134.00,158.91 L132.91,158.89 L131.83,158.87 L130.74,158.84 L129.65,158.82 L128.56,158.79 L127.48,158.77 L126.39,158.74 L125.30,158.72 L124.21,158.69 L123.13,158.66 L122.04,158.63 L120.95,158.60 L119.86,158.57 L118.78,158.54 L117.69,158.51 L116.60,158.48 L115.51,158.44 L114.43,158.41 L113.34,158.38 L112.25,158.34 L111.16,158.31 L110.08,158.28 L108.99,158.24 L107.90,158.21 L106.81,158.17 L105.73,158.14 L104.64,158.11 L103.55,158.07 L102.46,158.04 L101.38,158.01 L100.29,157.97 L99.20,157.94 L98.11,157.91 L97.03,157.88 L95.94,157.85 L94.85,157.82 L93.76,157.79 L92.68,157.76 L91.59,157.74 L90.50,157.71 L89.41,157.69 L88.33,157.66 L87.24,157.64 L86.15,157.62 L85.06,157.60 L83.98,157.59 L82.89,157.57 L81.80,157.56 L80.71,157.54 L79.63,157.53 L78.54,157.52 L77.45,157.51 L76.36,157.51 L75.28,157.50 L74.19,157.50 L73.10,157.50" fill="none" stroke="#ff0000" stroke-width="2.6" stroke-linejoin="round" stroke-linecap="butt"/>
<line x1="46.5" y1="172.2" x2="491" y2="172.2" stroke="#111" stroke-width="1.4"/>
<text transform="translate(464.6,189) scale(1,1.08)" font-size="15.6" fill="#2a3f5f" text-anchor="middle">0</text>
<text transform="translate(399.4,189) scale(1,1.08)" font-size="15.6" fill="#2a3f5f" text-anchor="middle">30</text>
<text transform="translate(334.1,189) scale(1,1.08)" font-size="15.6" fill="#2a3f5f" text-anchor="middle">60</text>
<text transform="translate(268.9,189) scale(1,1.08)" font-size="15.6" fill="#2a3f5f" text-anchor="middle">90</text>
<text transform="translate(203.6,189) scale(1,1.08)" font-size="15.6" fill="#2a3f5f" text-anchor="middle">120</text>
<text transform="translate(138.4,189) scale(1,1.08)" font-size="15.6" fill="#2a3f5f" text-anchor="middle">150</text>
<text transform="translate(73.1,189) scale(1,1.08)" font-size="15.6" fill="#2a3f5f" text-anchor="middle">180</text>
<text x="1.2" y="21.2" font-size="25.6" textLength="19.3" lengthAdjust="spacingAndGlyphs" fill="#000">a)</text>
<text transform="translate(73.7,56.8) scale(1,1.03)" font-size="19.7" fill="#2a3f5f">Number of atoms</text>
<text transform="translate(73.5,149.2) scale(1,1.03)" font-size="19.7" fill="#2a3f5f">Z Separation (Å)</text>
<text transform="translate(193.7,211) scale(1,1.03)" font-size="19.7" fill="#2a3f5f">Rotation angle (θ<tspan font-size="18" dy="3">t</tspan><tspan dy="-3">)</tspan></text>
<text transform="translate(491,81.3) rotate(-90) scale(1,1.03)" font-size="19.7" fill="#2a3f5f" text-anchor="middle">Density</text>
<rect x="526.7" y="17.9" width="143.0999999999999" height="126.1" fill="#fff" fill-opacity="1" stroke="#444" stroke-width="2"/>
<line x1="537.9000000000001" y1="31.1" x2="572.2" y2="31.1" stroke="#d2d2d2" stroke-width="2.6"/>
<text x="578.7" y="36.4" font-size="16.2" fill="#2a3f5f">Total</text>
<line x1="537.9000000000001" y1="55.2" x2="572.2" y2="55.2" stroke="#0000ff" stroke-width="2.6"/>
<text x="578.7" y="60.5" font-size="16.2" fill="#2a3f5f">[2.0, 3.08] Å</text>
<line x1="537.9000000000001" y1="79.2" x2="572.2" y2="79.2" stroke="#ff0000" stroke-width="2.6"/>
<text x="578.7" y="84.5" font-size="16.2" fill="#2a3f5f">(3.08, 4.0] Å</text>
<line x1="537.9000000000001" y1="103.2" x2="572.2" y2="103.2" stroke="#00ffff" stroke-width="2.6"/>
<text x="578.7" y="108.5" font-size="16.2" fill="#2a3f5f">4-10 atoms</text>
<line x1="537.9000000000001" y1="127.2" x2="572.2" y2="127.2" stroke="#ff00ff" stroke-width="2.6"/>
<text x="578.7" y="132.5" font-size="16.2" fill="#2a3f5f">11-30 atoms</text>
<defs><linearGradient id="cb" x1="0" x2="1" y1="0" y2="0"><stop offset="0" stop-color="#00ffff"/><stop offset="0.16667" stop-color="#00ff00"/><stop offset="0.33333" stop-color="#ff0000"/><stop offset="0.5" stop-color="#ffd700"/><stop offset="0.66667" stop-color="#ff00ff"/><stop offset="0.83333" stop-color="#0000ff"/><stop offset="1" stop-color="#000000"/></linearGradient></defs>
<text x="1.2" y="256.4" font-size="25.6" textLength="19.3" lengthAdjust="spacingAndGlyphs" fill="#000">b)</text>
<rect x="52.4" y="240.2" width="429.6" height="33.400000000000034" fill="url(#cb)" stroke="#444" stroke-width="1.3"/>
<text transform="translate(52.3,291.2) scale(1,1.08)" font-size="15.6" fill="#2a3f5f" text-anchor="start">0</text>
<text transform="translate(124.0,291.2) scale(1,1.08)" font-size="15.6" fill="#2a3f5f" text-anchor="middle">30</text>
<text transform="translate(195.6,291.2) scale(1,1.08)" font-size="15.6" fill="#2a3f5f" text-anchor="middle">60</text>
<text transform="translate(267.2,291.2) scale(1,1.08)" font-size="15.6" fill="#2a3f5f" text-anchor="middle">90</text>
<text transform="translate(338.8,291.2) scale(1,1.08)" font-size="15.6" fill="#2a3f5f" text-anchor="middle">120</text>
<text transform="translate(410.4,291.2) scale(1,1.08)" font-size="15.6" fill="#2a3f5f" text-anchor="middle">150</text>
<text transform="translate(481.5,291.2) scale(1,1.08)" font-size="15.6" fill="#2a3f5f" text-anchor="end">180</text>
<text transform="translate(486.2,252.4) scale(1,1.03)" font-size="19.7" fill="#2a3f5f">Rotation angle (θ<tspan font-size="18" dy="3">t</tspan><tspan dy="-3">)</tspan></text>
<rect x="52.7" y="300.2" width="429.1" height="446.00000000000006" fill="#f2f2f2"/>
<line x1="108.1" y1="300.2" x2="108.1" y2="746.2" stroke="#d6d6d6" stroke-width="1.3"/>
<text transform="translate(108.1,766.3000000000001) scale(1,1.08)" font-size="15.6" fill="#2a3f5f" text-anchor="middle">2</text>
<line x1="208.25" y1="300.2" x2="208.25" y2="746.2" stroke="#d6d6d6" stroke-width="1.3"/>
<text transform="translate(208.25,766.3000000000001) scale(1,1.08)" font-size="15.6" fill="#2a3f5f" text-anchor="middle">2.5</text>
<line x1="308.4" y1="300.2" x2="308.4" y2="746.2" stroke="#d6d6d6" stroke-width="1.3"/>
<text transform="translate(308.4,766.3000000000001) scale(1,1.08)" font-size="15.6" fill="#2a3f5f" text-anchor="middle">3</text>
<line x1="408.55000000000007" y1="300.2" x2="408.55000000000007" y2="746.2" stroke="#d6d6d6" stroke-width="1.3"/>
<text transform="translate(408.55000000000007,766.3000000000001) scale(1,1.08)" font-size="15.6" fill="#2a3f5f" text-anchor="middle">3.5</text>
<line x1="52.7" y1="703.05" x2="481.8" y2="703.05" stroke="#d6d6d6" stroke-width="1.3"/>
<text transform="translate(48.5,708.75) scale(1,1.08)" font-size="15.6" fill="#2a3f5f" text-anchor="end">15</text>
<line x1="52.7" y1="650.8" x2="481.8" y2="650.8" stroke="#d6d6d6" stroke-width="1.3"/>
<text transform="translate(48.5,656.5) scale(1,1.08)" font-size="15.6" fill="#2a3f5f" text-anchor="end">20</text>
<line x1="52.7" y1="598.55" x2="481.8" y2="598.55" stroke="#d6d6d6" stroke-width="1.3"/>
<text transform="translate(48.5,604.25) scale(1,1.08)" font-size="15.6" fill="#2a3f5f" text-anchor="end">25</text>
<line x1="52.7" y1="546.3" x2="481.8" y2="546.3" stroke="#d6d6d6" stroke-width="1.3"/>
<text transform="translate(48.5,552.0) scale(1,1.08)" font-size="15.6" fill="#2a3f5f" text-anchor="end">30</text>
<line x1="52.7" y1="494.05" x2="481.8" y2="494.05" stroke="#d6d6d6" stroke-width="1.3"/>
<text transform="translate(48.5,499.75) scale(1,1.08)" font-size="15.6" fill="#2a3f5f" text-anchor="end">35</text>
<line x1="52.7" y1="441.8" x2="481.8" y2="441.8" stroke="#d6d6d6" stroke-width="1.3"/>
<text transform="translate(48.5,447.5) scale(1,1.08)" font-size="15.6" fill="#2a3f5f" text-anchor="end">40</text>
<line x1="52.7" y1="389.55" x2="481.8" y2="389.55" stroke="#d6d6d6" stroke-width="1.3"/>
<text transform="translate(48.5,395.25) scale(1,1.08)" font-size="15.6" fill="#2a3f5f" text-anchor="end">45</text>
<line x1="52.7" y1="337.3" x2="481.8" y2="337.3" stroke="#d6d6d6" stroke-width="1.3"/>
<text transform="translate(48.5,343.0) scale(1,1.08)" font-size="15.6" fill="#2a3f5f" text-anchor="end">50</text>
<text transform="translate(271.9,786.2) scale(1,1.03)" font-size="19.7" fill="#2a3f5f" text-anchor="middle">Z Separation (Å)</text>
<text transform="translate(15.7,523.2) rotate(-90) scale(1,1.03)" font-size="19.7" fill="#2a3f5f" text-anchor="middle">Binding Energy (eV)</text>
<text transform="translate(582.3,766.2) scale(1,1.03)" font-size="19.7" fill="#2a3f5f" text-anchor="middle">Density</text>
<circle cx="272.9" cy="598.5" r="3.65" fill="#ff0000"/>
<circle cx="301.6" cy="620.9" r="3.65" fill="#ff0000"/>
<circle cx="319.4" cy="623.5" r="3.65" fill="#00ffff"/>
<circle cx="311.4" cy="599.3" r="3.65" fill="#ff0000"/>
<circle cx="281.6" cy="614.8" r="3.65" fill="#00ffff"/>
<circle cx="317.0" cy="620.4" r="3.65" fill="#00ffff"/>
<circle cx="295.2" cy="610.2" r="3.65" fill="#00ffff"/>
<circle cx="314.9" cy="604.3" r="3.65" fill="#ff0000"/>
<circle cx="292.6" cy="613.7" r="3.65" fill="#00ffff"/>
<circle cx="305.1" cy="599.3" r="3.65" fill="#00ffff"/>
<circle cx="271.1" cy="605.1" r="3.65" fill="#00ffff"/>
<circle cx="303.0" cy="640.7" r="3.65" fill="#ff0000"/>
<circle cx="311.0" cy="602.7" r="3.65" fill="#00ffff"/>
<circle cx="321.6" cy="597.2" r="3.65" fill="#00ffff"/>
<circle cx="285.2" cy="604.2" r="3.65" fill="#00ffff"/>
<circle cx="314.0" cy="633.9" r="3.65" fill="#ff0000"/>
<circle cx="334.0" cy="635.9" r="3.65" fill="#00ffff"/>
<circle cx="347.2" cy="627.2" r="3.65" fill="#00ffff"/>
<circle cx="321.4" cy="641.6" r="3.65" fill="#ff0000"/>
<circle cx="270.9" cy="599.2" r="3.65" fill="#00ffff"/>
<circle cx="288.3" cy="608.3" r="3.65" fill="#ff0000"/>
<circle cx="296.1" cy="604.7" r="3.65" fill="#00ffff"/>
<circle cx="345.0" cy="612.7" r="3.65" fill="#00ffff"/>
<circle cx="287.0" cy="636.6" r="3.65" fill="#00ffff"/>
<circle cx="301.0" cy="609.5" r="3.65" fill="#00ffff"/>
<circle cx="265.6" cy="603.8" r="3.65" fill="#ff0000"/>
<circle cx="300.9" cy="618.7" r="3.65" fill="#ff0000"/>
<circle cx="307.9" cy="615.0" r="3.65" fill="#ff0000"/>
<circle cx="329.9" cy="633.8" r="3.65" fill="#00ffff"/>
<circle cx="300.8" cy="629.8" r="3.65" fill="#ff0000"/>
<circle cx="319.3" cy="600.7" r="3.65" fill="#00ffff"/>
<circle cx="298.8" cy="635.0" r="3.65" fill="#ff0000"/>
<circle cx="315.3" cy="611.1" r="3.65" fill="#ff0000"/>
<circle cx="331.8" cy="616.1" r="3.65" fill="#ff0000"/>
<circle cx="314.9" cy="607.5" r="3.65" fill="#00ffff"/>
<circle cx="275.9" cy="601.9" r="3.65" fill="#00ffff"/>
<circle cx="295.8" cy="630.7" r="3.65" fill="#00ffff"/>
<circle cx="275.5" cy="602.6" r="3.65" fill="#ff0000"/>
<circle cx="294.4" cy="621.7" r="3.65" fill="#00ffff"/>
<circle cx="315.3" cy="600.6" r="3.65" fill="#ff0000"/>
<circle cx="287.4" cy="620.7" r="3.65" fill="#00ffff"/>
<circle cx="299.8" cy="604.3" r="3.65" fill="#00ffff"/>
<circle cx="310.3" cy="612.6" r="3.65" fill="#ff0000"/>
<circle cx="304.4" cy="632.6" r="3.65" fill="#ff0000"/>
<circle cx="271.3" cy="611.3" r="3.65" fill="#00ffff"/>
<circle cx="290.4" cy="619.4" r="3.65" fill="#ff0000"/>
<circle cx="304.6" cy="616.3" r="3.65" fill="#00ffff"/>
<circle cx="317.4" cy="621.9" r="3.65" fill="#ff0000"/>
<circle cx="256.1" cy="607.3" r="3.65" fill="#00ffff"/>
<circle cx="312.7" cy="615.0" r="3.65" fill="#00ffff"/>
<circle cx="319.3" cy="627.8" r="3.65" fill="#ff0000"/>
<circle cx="302.4" cy="599.2" r="3.65" fill="#00ffff"/>
<circle cx="296.9" cy="607.3" r="3.65" fill="#ff0000"/>
<circle cx="275.4" cy="606.9" r="3.65" fill="#00ffff"/>
<circle cx="272.4" cy="598.3" r="3.65" fill="#00ffff"/>
<circle cx="308.4" cy="622.4" r="3.65" fill="#ff0000"/>
<circle cx="281.0" cy="614.1" r="3.65" fill="#00ffff"/>
<circle cx="327.3" cy="628.9" r="3.65" fill="#ff0000"/>
<circle cx="305.4" cy="612.5" r="3.65" fill="#00ffff"/>
<circle cx="309.3" cy="640.0" r="3.65" fill="#ff0000"/>
<circle cx="315.2" cy="611.6" r="3.65" fill="#ff0000"/>
<circle cx="291.0" cy="613.1" r="3.65" fill="#00ffff"/>
<circle cx="302.2" cy="625.5" r="3.65" fill="#00ffff"/>
<circle cx="292.9" cy="616.7" r="3.65" fill="#00ffff"/>
<circle cx="284.0" cy="612.0" r="3.65" fill="#00ffff"/>
<circle cx="317.6" cy="618.4" r="3.65" fill="#ff0000"/>
<circle cx="313.3" cy="623.4" r="3.65" fill="#00ffff"/>
<circle cx="332.8" cy="607.3" r="3.65" fill="#ff0000"/>
<circle cx="307.9" cy="602.8" r="3.65" fill="#ff0000"/>
<circle cx="340.6" cy="636.7" r="3.65" fill="#00ffff"/>
<circle cx="315.8" cy="627.8" r="3.65" fill="#ff0000"/>
<circle cx="319.1" cy="610.0" r="3.65" fill="#ff0000"/>
<circle cx="330.5" cy="622.0" r="3.65" fill="#00ffff"/>
<circle cx="312.8" cy="610.9" r="3.65" fill="#ff0000"/>
<circle cx="316.0" cy="603.8" r="3.65" fill="#00ffff"/>
<circle cx="154.0" cy="327.2" r="3.65" fill="#00ffff"/>
<circle cx="101.1" cy="348.0" r="3.65" fill="#00ffff"/>
<circle cx="165.5" cy="361.5" r="3.65" fill="#00ffff"/>
<circle cx="163.0" cy="400.1" r="3.65" fill="#ff0000"/>
<circle cx="96.2" cy="415.1" r="3.65" fill="#00ffff"/>
<circle cx="134.0" cy="430.2" r="3.65" fill="#ff0000"/>
<circle cx="251.7" cy="358.0" r="3.65" fill="#00ffff"/>
<circle cx="207.4" cy="415.7" r="3.65" fill="#00ffff"/>
<circle cx="297.3" cy="429.8" r="3.65" fill="#ff0000"/>
<circle cx="238.2" cy="435.1" r="3.65" fill="#ff0000"/>
<circle cx="272.2" cy="436.3" r="3.65" fill="#ff0000"/>
<circle cx="140.9" cy="443.5" r="3.65" fill="#00ffff"/>
<circle cx="79.0" cy="465.8" r="3.65" fill="#ff0000"/>
<circle cx="148.3" cy="463.7" r="3.65" fill="#00ffff"/>
<circle cx="145.9" cy="478.4" r="3.65" fill="#ff0000"/>
<circle cx="162.4" cy="476.2" r="3.65" fill="#ff0000"/>
<circle cx="144.2" cy="491.1" r="3.65" fill="#00ff00"/>
<circle cx="177.1" cy="494.2" r="3.65" fill="#ff0000"/>
<circle cx="168.1" cy="498.0" r="3.65" fill="#00ff00"/>
<circle cx="114.6" cy="503.4" r="3.65" fill="#00ff00"/>
<circle cx="164.0" cy="517.1" r="3.65" fill="#00ffff"/>
<circle cx="165.1" cy="529.7" r="3.65" fill="#00ffff"/>
<circle cx="182.4" cy="528.7" r="3.65" fill="#00ffff"/>
<circle cx="117.4" cy="552.0" r="3.65" fill="#00ff00"/>
<circle cx="238.4" cy="442.7" r="3.65" fill="#ff0000"/>
<circle cx="242.3" cy="451.6" r="3.65" fill="#ff0000"/>
<circle cx="245.2" cy="448.6" r="3.65" fill="#00ffff"/>
<circle cx="278.7" cy="450.8" r="3.65" fill="#00ffff"/>
<circle cx="272.8" cy="456.8" r="3.65" fill="#00ffff"/>
<circle cx="258.1" cy="460.0" r="3.65" fill="#00ffff"/>
<circle cx="255.4" cy="462.1" r="3.65" fill="#00ffff"/>
<circle cx="263.0" cy="467.0" r="3.65" fill="#ff0000"/>
<circle cx="250.1" cy="477.0" r="3.65" fill="#ff0000"/>
<circle cx="251.5" cy="472.5" r="3.65" fill="#00ffff"/>
<circle cx="236.0" cy="475.4" r="3.65" fill="#ff0000"/>
<circle cx="202.1" cy="474.3" r="3.65" fill="#00ffff"/>
<circle cx="267.9" cy="477.4" r="3.65" fill="#00ffff"/>
<circle cx="308.3" cy="475.6" r="3.65" fill="#ff0000"/>
<circle cx="214.1" cy="483.5" r="3.65" fill="#ff0000"/>
<circle cx="212.1" cy="486.4" r="3.65" fill="#00ffff"/>
<circle cx="273.8" cy="484.8" r="3.65" fill="#ff0000"/>
<circle cx="317.5" cy="494.2" r="3.65" fill="#ff0000"/>
<circle cx="254.2" cy="498.0" r="3.65" fill="#ff0000"/>
<circle cx="210.6" cy="517.9" r="3.65" fill="#ff0000"/>
<circle cx="209.2" cy="521.1" r="3.65" fill="#ff0000"/>
<circle cx="261.7" cy="515.8" r="3.65" fill="#00ffff"/>
<circle cx="254.4" cy="522.2" r="3.65" fill="#00ffff"/>
<circle cx="270.7" cy="521.5" r="3.65" fill="#ff0000"/>
<circle cx="323.7" cy="522.8" r="3.65" fill="#00ffff"/>
<circle cx="264.8" cy="529.1" r="3.65" fill="#ff0000"/>
<circle cx="277.9" cy="529.3" r="3.65" fill="#ff0000"/>
<circle cx="289.3" cy="526.0" r="3.65" fill="#00ffff"/>
<circle cx="294.4" cy="528.3" r="3.65" fill="#00ffff"/>
<circle cx="321.2" cy="530.3" r="3.65" fill="#ff0000"/>
<circle cx="258.3" cy="534.4" r="3.65" fill="#00ffff"/>
<circle cx="304.9" cy="537.5" r="3.65" fill="#ff0000"/>
<circle cx="277.3" cy="539.3" r="3.65" fill="#00ffff"/>
<circle cx="279.3" cy="542.2" r="3.65" fill="#00ffff"/>
<circle cx="226.8" cy="544.2" r="3.65" fill="#ff0000"/>
<circle cx="165.4" cy="550.3" r="3.65" fill="#00ffff"/>
<circle cx="173.5" cy="548.9" r="3.65" fill="#00ffff"/>
<circle cx="161.2" cy="555.3" r="3.65" fill="#00ff00"/>
<circle cx="190.4" cy="558.1" r="3.65" fill="#00ff00"/>
<circle cx="208.2" cy="554.3" r="3.65" fill="#ff0000"/>
<circle cx="223.3" cy="550.3" r="3.65" fill="#00ffff"/>
<circle cx="227.1" cy="557.6" r="3.65" fill="#ff0000"/>
<circle cx="158.4" cy="564.3" r="3.65" fill="#ff0000"/>
<circle cx="156.3" cy="568.2" r="3.65" fill="#00ff00"/>
<circle cx="168.1" cy="566.3" r="3.65" fill="#ff0000"/>
<circle cx="166.7" cy="565.3" r="3.65" fill="#000000"/>
<circle cx="172.8" cy="567.2" r="3.65" fill="#00ffff"/>
<circle cx="184.2" cy="565.3" r="3.65" fill="#00ffff"/>
<circle cx="174.3" cy="573.4" r="3.65" fill="#00ffff"/>
<circle cx="178.6" cy="574.5" r="3.65" fill="#ff0000"/>
<circle cx="179.2" cy="571.6" r="3.65" fill="#00ffff"/>
<circle cx="204.3" cy="573.1" r="3.65" fill="#00ffff"/>
<circle cx="216.9" cy="567.8" r="3.65" fill="#00ffff"/>
<circle cx="215.3" cy="570.9" r="3.65" fill="#ff0000"/>
<circle cx="216.0" cy="575.4" r="3.65" fill="#00ffff"/>
<circle cx="216.3" cy="580.5" r="3.65" fill="#00ff00"/>
<circle cx="219.4" cy="588.8" r="3.65" fill="#00ffff"/>
<circle cx="208.2" cy="592.1" r="3.65" fill="#00ff00"/>
<circle cx="215.1" cy="596.5" r="3.65" fill="#00ffff"/>
<circle cx="172.5" cy="593.5" r="3.65" fill="#ffd000"/>
<circle cx="161.1" cy="601.1" r="3.65" fill="#00ff00"/>
<circle cx="159.7" cy="601.9" r="3.65" fill="#66990a"/>
<circle cx="165.9" cy="600.9" r="3.65" fill="#ff0000"/>
<circle cx="190.6" cy="610.3" r="3.65" fill="#ff0000"/>
<circle cx="228.8" cy="605.7" r="3.65" fill="#ff0000"/>
<circle cx="266.6" cy="546.2" r="3.65" fill="#00ffff"/>
<circle cx="270.3" cy="549.7" r="3.65" fill="#00ffff"/>
<circle cx="280.2" cy="545.0" r="3.65" fill="#00ffff"/>
<circle cx="287.8" cy="545.6" r="3.65" fill="#00ffff"/>
<circle cx="293.6" cy="547.3" r="3.65" fill="#ff0000"/>
<circle cx="245.5" cy="549.7" r="3.65" fill="#ff0000"/>
<circle cx="248.5" cy="554.3" r="3.65" fill="#00ffff"/>
<circle cx="253.0" cy="556.3" r="3.65" fill="#00ffff"/>
<circle cx="263.9" cy="554.3" r="3.65" fill="#ff0000"/>
<circle cx="273.2" cy="552.9" r="3.65" fill="#ff0000"/>
<circle cx="275.8" cy="555.7" r="3.65" fill="#00ffff"/>
<circle cx="260.4" cy="559.9" r="3.65" fill="#ff0000"/>
<circle cx="265.0" cy="560.2" r="3.65" fill="#ff0000"/>
<circle cx="275.0" cy="562.5" r="3.65" fill="#00ffff"/>
<circle cx="277.3" cy="564.3" r="3.65" fill="#00ffff"/>
<circle cx="293.6" cy="557.8" r="3.65" fill="#ff0000"/>
<circle cx="290.1" cy="562.5" r="3.65" fill="#00ffff"/>
<circle cx="255.1" cy="567.2" r="3.65" fill="#00ffff"/>
<circle cx="275.5" cy="570.7" r="3.65" fill="#00ffff"/>
<circle cx="267.4" cy="571.3" r="3.65" fill="#ff0000"/>
<circle cx="270.9" cy="573.6" r="3.65" fill="#ff0000"/>
<circle cx="274.4" cy="574.2" r="3.65" fill="#ff0000"/>
<circle cx="267.7" cy="567.2" r="3.65" fill="#00ff00"/>
<circle cx="287.8" cy="567.8" r="3.65" fill="#00ffff"/>
<circle cx="294.2" cy="566.0" r="3.65" fill="#ff0000"/>
<circle cx="297.7" cy="568.4" r="3.65" fill="#ff0000"/>
<circle cx="305.3" cy="565.4" r="3.65" fill="#00ffff"/>
<circle cx="308.5" cy="565.1" r="3.65" fill="#ff0000"/>
<circle cx="249.6" cy="570.7" r="3.65" fill="#000000"/>
<circle cx="246.7" cy="575.4" r="3.65" fill="#ff0000"/>
<circle cx="254.8" cy="574.2" r="3.65" fill="#ff0000"/>
<circle cx="255.9" cy="579.5" r="3.65" fill="#ff0000"/>
<circle cx="260.9" cy="580.0" r="3.65" fill="#ff0000"/>
<circle cx="231.6" cy="574.0" r="3.65" fill="#00ffff"/>
<circle cx="240.5" cy="579.2" r="3.65" fill="#00ffff"/>
<circle cx="245.2" cy="580.0" r="3.65" fill="#00ffff"/>
<circle cx="263.9" cy="574.8" r="3.65" fill="#00ffff"/>
<circle cx="267.4" cy="580.0" r="3.65" fill="#00ffff"/>
<circle cx="261.5" cy="584.1" r="3.65" fill="#00ffff"/>
<circle cx="268.5" cy="584.7" r="3.65" fill="#00ffff"/>
<circle cx="279.1" cy="579.2" r="3.65" fill="#ff0000"/>
<circle cx="286.1" cy="578.3" r="3.65" fill="#00ffff"/>
<circle cx="292.5" cy="574.8" r="3.65" fill="#ff0000"/>
<circle cx="304.7" cy="574.8" r="3.65" fill="#ff0000"/>
<circle cx="293.1" cy="578.9" r="3.65" fill="#00ffff"/>
<circle cx="295.4" cy="583.0" r="3.65" fill="#ff0000"/>
<circle cx="300.7" cy="581.2" r="3.65" fill="#ff0000"/>
<circle cx="298.9" cy="584.1" r="3.65" fill="#00ffff"/>
<circle cx="304.7" cy="581.8" r="3.65" fill="#00ffff"/>
<circle cx="309.4" cy="583.5" r="3.65" fill="#ff0000"/>
<circle cx="248.3" cy="585.6" r="3.65" fill="#000000"/>
<circle cx="279.6" cy="585.3" r="3.65" fill="#00ffff"/>
<circle cx="283.4" cy="586.1" r="3.65" fill="#ff0000"/>
<circle cx="238.4" cy="589.7" r="3.65" fill="#ff0000"/>
<circle cx="233.5" cy="590.5" r="3.65" fill="#00ffff"/>
<circle cx="232.3" cy="594.1" r="3.65" fill="#00ffff"/>
<circle cx="237.6" cy="594.1" r="3.65" fill="#00ffff"/>
<circle cx="256.5" cy="591.1" r="3.65" fill="#ff0000"/>
<circle cx="265.6" cy="590.8" r="3.65" fill="#00ffff"/>
<circle cx="270.3" cy="593.5" r="3.65" fill="#00ffff"/>
<circle cx="290.7" cy="590.0" r="3.65" fill="#00ffff"/>
<circle cx="301.8" cy="590.0" r="3.65" fill="#ff0000"/>
<circle cx="298.9" cy="587.6" r="3.65" fill="#00ffff"/>
<circle cx="307.1" cy="591.1" r="3.65" fill="#00ffff"/>
<circle cx="296.0" cy="594.1" r="3.65" fill="#ff0000"/>
<circle cx="279.6" cy="594.6" r="3.65" fill="#ff0000"/>
<circle cx="275.0" cy="596.4" r="3.65" fill="#ff0000"/>
<circle cx="273.2" cy="598.1" r="3.65" fill="#00ffff"/>
<circle cx="288.4" cy="596.4" r="3.65" fill="#00ffff"/>
<circle cx="304.7" cy="598.1" r="3.65" fill="#00ffff"/>
<circle cx="253.4" cy="598.1" r="3.65" fill="#ff0000"/>
<circle cx="264.7" cy="599.7" r="3.65" fill="#ff0000"/>
<circle cx="251.0" cy="602.8" r="3.65" fill="#00ffff"/>
<circle cx="234.1" cy="602.5" r="3.65" fill="#00ff55"/>
<circle cx="230.6" cy="605.7" r="3.65" fill="#ff0000"/>
<circle cx="274.4" cy="602.2" r="3.65" fill="#ff0000"/>
<circle cx="284.3" cy="600.8" r="3.65" fill="#000000"/>
<circle cx="287.2" cy="601.1" r="3.65" fill="#00ffff"/>
<circle cx="281.4" cy="603.4" r="3.65" fill="#00ffff"/>
<circle cx="268.5" cy="605.7" r="3.65" fill="#00ffff"/>
<circle cx="282.0" cy="607.5" r="3.65" fill="#00ffff"/>
<circle cx="259.8" cy="607.5" r="3.65" fill="#00ffff"/>
<circle cx="244.0" cy="609.0" r="3.65" fill="#00ffff"/>
<circle cx="300.1" cy="604.6" r="3.65" fill="#ff0000"/>
<circle cx="307.1" cy="605.1" r="3.65" fill="#ff0000"/>
<circle cx="293.1" cy="609.2" r="3.65" fill="#ff0000"/>
<circle cx="254.3" cy="611.0" r="3.65" fill="#000000"/>
<circle cx="249.9" cy="615.1" r="3.65" fill="#00ffff"/>
<circle cx="253.4" cy="614.1" r="3.65" fill="#00ff00"/>
<circle cx="260.9" cy="612.7" r="3.65" fill="#00ffff"/>
<circle cx="266.2" cy="613.9" r="3.65" fill="#ff0000"/>
<circle cx="270.3" cy="612.7" r="3.65" fill="#ff0000"/>
<circle cx="277.1" cy="610.2" r="3.65" fill="#00ff00"/>
<circle cx="294.2" cy="613.9" r="3.65" fill="#00ffff"/>
<circle cx="298.3" cy="613.3" r="3.65" fill="#ff0000"/>
<circle cx="306.5" cy="615.1" r="3.65" fill="#ff0000"/>
<circle cx="234.1" cy="616.5" r="3.65" fill="#ff0000"/>
<circle cx="258.6" cy="619.4" r="3.65" fill="#00ff55"/>
<circle cx="281.4" cy="619.7" r="3.65" fill="#ff0000"/>
<circle cx="280.8" cy="615.4" r="3.65" fill="#0000ff"/>
<circle cx="276.7" cy="620.3" r="3.65" fill="#66990a"/>
<circle cx="284.9" cy="620.3" r="3.65" fill="#00ffff"/>
<circle cx="290.7" cy="622.7" r="3.65" fill="#00ff00"/>
<circle cx="304.7" cy="620.9" r="3.65" fill="#ff0000"/>
<circle cx="298.9" cy="622.1" r="3.65" fill="#000000"/>
<circle cx="279.1" cy="623.2" r="3.65" fill="#00ffff"/>
<circle cx="337.1" cy="548.9" r="3.65" fill="#00ffff"/>
<circle cx="342.5" cy="549.4" r="3.65" fill="#00ffff"/>
<circle cx="357.3" cy="546.2" r="3.65" fill="#00ffff"/>
<circle cx="338.4" cy="556.4" r="3.65" fill="#00ffff"/>
<circle cx="357.4" cy="559.8" r="3.65" fill="#ff0000"/>
<circle cx="346.2" cy="564.9" r="3.65" fill="#ff0000"/>
<circle cx="310.0" cy="565.1" r="3.65" fill="#ff0000"/>
<circle cx="318.4" cy="569.3" r="3.65" fill="#ff0000"/>
<circle cx="323.1" cy="566.8" r="3.65" fill="#00ffff"/>
<circle cx="340.9" cy="568.7" r="3.65" fill="#00ffff"/>
<circle cx="344.1" cy="569.8" r="3.65" fill="#00ffff"/>
<circle cx="358.1" cy="571.3" r="3.65" fill="#ff0000"/>
<circle cx="315.3" cy="575.1" r="3.65" fill="#00ffff"/>
<circle cx="322.3" cy="574.2" r="3.65" fill="#00ffff"/>
<circle cx="347.6" cy="575.6" r="3.65" fill="#ff0000"/>
<circle cx="352.3" cy="579.5" r="3.65" fill="#000000"/>
<circle cx="351.8" cy="578.6" r="3.65" fill="#00ffff"/>
<circle cx="345.0" cy="581.0" r="3.65" fill="#ff0000"/>
<circle cx="370.5" cy="578.6" r="3.65" fill="#00ffff"/>
<circle cx="319.9" cy="580.6" r="3.65" fill="#ff0000"/>
<circle cx="324.0" cy="580.6" r="3.65" fill="#ff0000"/>
<circle cx="311.8" cy="583.0" r="3.65" fill="#ff0000"/>
<circle cx="333.9" cy="585.6" r="3.65" fill="#00ffff"/>
<circle cx="328.7" cy="587.0" r="3.65" fill="#ff0000"/>
<circle cx="313.5" cy="587.0" r="3.65" fill="#00ffff"/>
<circle cx="320.5" cy="587.6" r="3.65" fill="#00ffff"/>
<circle cx="352.3" cy="588.4" r="3.65" fill="#00ffff"/>
<circle cx="313.9" cy="592.6" r="3.65" fill="#000000"/>
<circle cx="325.2" cy="596.4" r="3.65" fill="#ff0000"/>
<circle cx="327.5" cy="601.1" r="3.65" fill="#ff0000"/>
<circle cx="322.0" cy="593.8" r="3.65" fill="#00ff00"/>
<circle cx="312.3" cy="597.6" r="3.65" fill="#00ffff"/>
<circle cx="311.8" cy="599.9" r="3.65" fill="#ff0000"/>
<circle cx="368.4" cy="592.9" r="3.65" fill="#ff0000"/>
<circle cx="367.6" cy="591.5" r="3.65" fill="#00ffff"/>
<circle cx="356.7" cy="595.8" r="3.65" fill="#00ffff"/>
<circle cx="351.1" cy="598.7" r="3.65" fill="#00ffff"/>
<circle cx="364.4" cy="597.0" r="3.65" fill="#00ffff"/>
<circle cx="370.7" cy="601.1" r="3.65" fill="#00ffff"/>
<circle cx="342.7" cy="596.6" r="3.65" fill="#ff0000"/>
<circle cx="336.6" cy="597.6" r="3.65" fill="#ff0000"/>
<circle cx="343.3" cy="603.4" r="3.65" fill="#00ffff"/>
<circle cx="338.0" cy="600.5" r="3.65" fill="#ff4500"/>
<circle cx="336.3" cy="604.6" r="3.65" fill="#00ff00"/>
<circle cx="332.8" cy="608.1" r="3.65" fill="#ff0000"/>
<circle cx="340.4" cy="606.9" r="3.65" fill="#00ffff"/>
<circle cx="315.8" cy="608.1" r="3.65" fill="#ff0000"/>
<circle cx="325.2" cy="610.4" r="3.65" fill="#00ffff"/>
<circle cx="312.3" cy="612.7" r="3.65" fill="#00ffff"/>
<circle cx="316.4" cy="616.2" r="3.65" fill="#ff0000"/>
<circle cx="336.9" cy="613.3" r="3.65" fill="#00ffff"/>
<circle cx="346.2" cy="612.7" r="3.65" fill="#ff0000"/>
<circle cx="324.6" cy="616.8" r="3.65" fill="#ff0000"/>
<circle cx="330.4" cy="618.3" r="3.65" fill="#ffd000"/>
<circle cx="313.5" cy="618.6" r="3.65" fill="#ff0000"/>
<circle cx="322.8" cy="622.7" r="3.65" fill="#00ffff"/>
<circle cx="332.2" cy="622.7" r="3.65" fill="#ff0000"/>
<circle cx="346.0" cy="620.3" r="3.65" fill="#ff0000"/>
<circle cx="340.1" cy="622.1" r="3.65" fill="#00ff55"/>
<circle cx="352.0" cy="622.7" r="3.65" fill="#00ffff"/>
<circle cx="358.8" cy="606.3" r="3.65" fill="#00ffff"/>
<circle cx="357.6" cy="609.6" r="3.65" fill="#ff0000"/>
<circle cx="364.7" cy="611.0" r="3.65" fill="#ff0000"/>
<circle cx="359.6" cy="614.5" r="3.65" fill="#ff0000"/>
<circle cx="364.9" cy="616.2" r="3.65" fill="#00ffff"/>
<circle cx="362.2" cy="614.8" r="3.65" fill="#00ff00"/>
<circle cx="364.4" cy="620.9" r="3.65" fill="#ff0000"/>
<circle cx="377.5" cy="620.3" r="3.65" fill="#00ff00"/>
<circle cx="389.2" cy="614.5" r="3.65" fill="#00ff00"/>
<circle cx="390.6" cy="591.4" r="3.65" fill="#ff0000"/>
<circle cx="394.3" cy="591.1" r="3.65" fill="#ff0000"/>
<circle cx="399.3" cy="603.7" r="3.65" fill="#00ffff"/>
<circle cx="404.0" cy="602.5" r="3.65" fill="#00ffff"/>
<circle cx="404.9" cy="606.7" r="3.65" fill="#00ffff"/>
<circle cx="394.4" cy="620.9" r="3.65" fill="#ff0000"/>
<circle cx="392.6" cy="620.6" r="3.65" fill="#00ffff"/>
<circle cx="423.5" cy="620.0" r="3.65" fill="#ff0000"/>
<circle cx="180.4" cy="651.4" r="3.65" fill="#000000"/>
<circle cx="178.1" cy="660.4" r="3.65" fill="#000000"/>
<circle cx="187.5" cy="657.6" r="3.65" fill="#00ffff"/>
<circle cx="217.7" cy="676.5" r="3.65" fill="#00ffff"/>
<circle cx="233.3" cy="628.5" r="3.65" fill="#00ffff"/>
<circle cx="233.3" cy="642.9" r="3.65" fill="#ff00ff"/>
<circle cx="249.5" cy="636.2" r="3.65" fill="#ffd000"/>
<circle cx="253.4" cy="641.7" r="3.65" fill="#000000"/>
<circle cx="262.6" cy="632.2" r="3.65" fill="#e02000"/>
<circle cx="272.3" cy="630.8" r="3.65" fill="#00ffff"/>
<circle cx="271.5" cy="633.4" r="3.65" fill="#ff0000"/>
<circle cx="267.5" cy="642.3" r="3.65" fill="#ffd000"/>
<circle cx="277.6" cy="647.8" r="3.65" fill="#ff0000"/>
<circle cx="280.6" cy="649.3" r="3.65" fill="#ff0000"/>
<circle cx="267.4" cy="651.6" r="3.65" fill="#66990a"/>
<circle cx="273.8" cy="651.4" r="3.65" fill="#00ff55"/>
<circle cx="280.8" cy="633.8" r="3.65" fill="#00ffff"/>
<circle cx="281.4" cy="636.7" r="3.65" fill="#ff0000"/>
<circle cx="284.9" cy="629.7" r="3.65" fill="#00ffff"/>
<circle cx="287.2" cy="636.1" r="3.65" fill="#00ffff"/>
<circle cx="290.1" cy="625.6" r="3.65" fill="#00ff00"/>
<circle cx="295.4" cy="628.5" r="3.65" fill="#ff0000"/>
<circle cx="302.4" cy="629.7" r="3.65" fill="#ff0000"/>
<circle cx="293.6" cy="632.2" r="3.65" fill="#00ff00"/>
<circle cx="295.4" cy="640.2" r="3.65" fill="#00ffff"/>
<circle cx="290.1" cy="642.5" r="3.65" fill="#ff0000"/>
<circle cx="305.9" cy="637.8" r="3.65" fill="#ff0000"/>
<circle cx="308.2" cy="630.8" r="3.65" fill="#00ffff"/>
<circle cx="302.1" cy="643.9" r="3.65" fill="#00ff00"/>
<circle cx="308.0" cy="647.8" r="3.65" fill="#000000"/>
<circle cx="289.6" cy="649.5" r="3.65" fill="#00ffff"/>
<circle cx="294.8" cy="651.3" r="3.65" fill="#ff0000"/>
<circle cx="298.3" cy="652.4" r="3.65" fill="#ff0000"/>
<circle cx="301.2" cy="657.1" r="3.65" fill="#00ffff"/>
<circle cx="305.9" cy="655.4" r="3.65" fill="#00ffff"/>
<circle cx="301.2" cy="653.0" r="3.65" fill="#00ff00"/>
<circle cx="304.2" cy="650.9" r="3.65" fill="#00ff00"/>
<circle cx="288.4" cy="665.6" r="3.65" fill="#00ffff"/>
<circle cx="288.2" cy="661.3" r="3.65" fill="#ff0000"/>
<circle cx="284.4" cy="670.2" r="3.65" fill="#ffd000"/>
<circle cx="309.2" cy="662.6" r="3.65" fill="#66990a"/>
<circle cx="261.8" cy="676.4" r="3.65" fill="#00ff55"/>
<circle cx="294.5" cy="685.3" r="3.65" fill="#00ff00"/>
<circle cx="312.3" cy="628.5" r="3.65" fill="#ff0000"/>
<circle cx="314.7" cy="633.2" r="3.65" fill="#ff0000"/>
<circle cx="333.4" cy="625.0" r="3.65" fill="#ff0000"/>
<circle cx="349.1" cy="626.2" r="3.65" fill="#ff0000"/>
<circle cx="329.3" cy="631.4" r="3.65" fill="#00ffff"/>
<circle cx="321.1" cy="629.7" r="3.65" fill="#00ff00"/>
<circle cx="315.3" cy="637.8" r="3.65" fill="#00ffff"/>
<circle cx="313.5" cy="642.5" r="3.65" fill="#ff0000"/>
<circle cx="315.3" cy="649.5" r="3.65" fill="#ff0000"/>
<circle cx="340.9" cy="633.8" r="3.65" fill="#00ffff"/>
<circle cx="342.1" cy="638.4" r="3.65" fill="#00ffff"/>
<circle cx="336.6" cy="638.4" r="3.65" fill="#00ff00"/>
<circle cx="324.0" cy="641.4" r="3.65" fill="#ff0000"/>
<circle cx="326.4" cy="643.1" r="3.65" fill="#ff0000"/>
<circle cx="331.0" cy="639.6" r="3.65" fill="#00ffff"/>
<circle cx="350.3" cy="643.1" r="3.65" fill="#ff0000"/>
<circle cx="353.8" cy="635.5" r="3.65" fill="#00ffff"/>
<circle cx="355.0" cy="629.7" r="3.65" fill="#ffd000"/>
<circle cx="358.1" cy="628.5" r="3.65" fill="#ffd000"/>
<circle cx="361.4" cy="633.2" r="3.65" fill="#00ffff"/>
<circle cx="369.0" cy="632.6" r="3.65" fill="#ff0000"/>
<circle cx="364.3" cy="634.9" r="3.65" fill="#00ff00"/>
<circle cx="364.9" cy="638.4" r="3.65" fill="#00ff00"/>
<circle cx="371.3" cy="637.3" r="3.65" fill="#00ff00"/>
<circle cx="367.8" cy="637.0" r="3.65" fill="#66990a"/>
<circle cx="376.6" cy="628.3" r="3.65" fill="#00ff00"/>
<circle cx="380.4" cy="635.5" r="3.65" fill="#ff0000"/>
<circle cx="381.0" cy="631.1" r="3.65" fill="#00ff00"/>
<circle cx="373.1" cy="644.3" r="3.65" fill="#00ff00"/>
<circle cx="378.3" cy="642.8" r="3.65" fill="#66990a"/>
<circle cx="383.6" cy="649.3" r="3.65" fill="#00ffff"/>
<circle cx="368.4" cy="650.1" r="3.65" fill="#00ffff"/>
<circle cx="376.0" cy="651.3" r="3.65" fill="#00ff00"/>
<circle cx="368.4" cy="652.4" r="3.65" fill="#00ff00"/>
<circle cx="373.1" cy="655.6" r="3.65" fill="#00ff00"/>
<circle cx="383.8" cy="659.8" r="3.65" fill="#00ffff"/>
<circle cx="377.2" cy="661.2" r="3.65" fill="#00ffff"/>
<circle cx="374.0" cy="660.0" r="3.65" fill="#00ff55"/>
<circle cx="369.6" cy="664.7" r="3.65" fill="#00ffff"/>
<circle cx="373.1" cy="667.0" r="3.65" fill="#00ffff"/>
<circle cx="364.9" cy="660.6" r="3.65" fill="#00ff00"/>
<circle cx="378.9" cy="669.1" r="3.65" fill="#ff0000"/>
<circle cx="384.7" cy="665.9" r="3.65" fill="#00ff00"/>
<circle cx="385.3" cy="670.0" r="3.65" fill="#00ffaa"/>
<circle cx="376.0" cy="671.1" r="3.65" fill="#00ff00"/>
<circle cx="379.8" cy="674.1" r="3.65" fill="#00ff00"/>
<circle cx="368.0" cy="669.1" r="3.65" fill="#00ff00"/>
<circle cx="343.9" cy="646.6" r="3.65" fill="#00ffff"/>
<circle cx="326.4" cy="651.9" r="3.65" fill="#00ffff"/>
<circle cx="330.4" cy="646.6" r="3.65" fill="#00ff00"/>
<circle cx="333.9" cy="648.9" r="3.65" fill="#00ff00"/>
<circle cx="337.7" cy="648.1" r="3.65" fill="#00ff00"/>
<circle cx="322.8" cy="653.0" r="3.65" fill="#ff0000"/>
<circle cx="311.8" cy="653.6" r="3.65" fill="#00ffff"/>
<circle cx="311.2" cy="657.1" r="3.65" fill="#ff0000"/>
<circle cx="351.8" cy="652.8" r="3.65" fill="#ff0000"/>
<circle cx="360.5" cy="651.9" r="3.65" fill="#ff0000"/>
<circle cx="338.6" cy="655.1" r="3.65" fill="#000000"/>
<circle cx="354.1" cy="655.9" r="3.65" fill="#66990a"/>
<circle cx="360.2" cy="660.0" r="3.65" fill="#66990a"/>
<circle cx="346.8" cy="659.5" r="3.65" fill="#00ffff"/>
<circle cx="336.3" cy="658.9" r="3.65" fill="#ff0000"/>
<circle cx="342.7" cy="661.2" r="3.65" fill="#ff0000"/>
<circle cx="352.0" cy="662.4" r="3.65" fill="#ff0000"/>
<circle cx="355.5" cy="664.1" r="3.65" fill="#00ff00"/>
<circle cx="328.1" cy="660.6" r="3.65" fill="#ff0000"/>
<circle cx="331.6" cy="662.4" r="3.65" fill="#00ffff"/>
<circle cx="322.5" cy="659.5" r="3.65" fill="#00ff00"/>
<circle cx="337.4" cy="663.5" r="3.65" fill="#00ff00"/>
<circle cx="310.6" cy="663.0" r="3.65" fill="#66990a"/>
<circle cx="331.6" cy="667.0" r="3.65" fill="#ff0000"/>
<circle cx="341.5" cy="667.6" r="3.65" fill="#00ffff"/>
<circle cx="345.0" cy="667.0" r="3.65" fill="#ff0000"/>
<circle cx="346.2" cy="669.4" r="3.65" fill="#ff0000"/>
<circle cx="348.0" cy="666.1" r="3.65" fill="#00ff00"/>
<circle cx="351.8" cy="670.0" r="3.65" fill="#00ff00"/>
<circle cx="328.5" cy="675.5" r="3.65" fill="#ffd000"/>
<circle cx="357.4" cy="679.5" r="3.65" fill="#ffd000"/>
<circle cx="366.9" cy="679.0" r="3.65" fill="#00ff00"/>
<circle cx="319.7" cy="687.5" r="3.65" fill="#00ff00"/>
<circle cx="340.4" cy="685.5" r="3.65" fill="#00ff00"/>
<circle cx="346.6" cy="686.3" r="3.65" fill="#00ff00"/>
<circle cx="351.2" cy="688.1" r="3.65" fill="#00ff00"/>
<circle cx="366.9" cy="688.1" r="3.65" fill="#00ff00"/>
<circle cx="363.4" cy="692.4" r="3.65" fill="#00ff00"/>
<circle cx="375.8" cy="697.3" r="3.65" fill="#ffd000"/>
<circle cx="385.9" cy="693.3" r="3.65" fill="#00ff00"/>
<circle cx="387.7" cy="688.6" r="3.65" fill="#00ff55"/>
<circle cx="390.0" cy="685.7" r="3.65" fill="#00ff00"/>
<circle cx="416.3" cy="632.9" r="3.65" fill="#00ff00"/>
<circle cx="427.0" cy="630.3" r="3.65" fill="#00ffff"/>
<circle cx="399.6" cy="636.7" r="3.65" fill="#00ff55"/>
<circle cx="393.7" cy="642.5" r="3.65" fill="#00ff55"/>
<circle cx="399.3" cy="642.3" r="3.65" fill="#66990a"/>
<circle cx="429.4" cy="647.4" r="3.65" fill="#00ff00"/>
<circle cx="450.1" cy="646.1" r="3.65" fill="#00ff00"/>
<circle cx="398.8" cy="650.5" r="3.65" fill="#00ff00"/>
<circle cx="401.7" cy="649.3" r="3.65" fill="#00ff00"/>
<circle cx="409.3" cy="648.7" r="3.65" fill="#66990a"/>
<circle cx="437.9" cy="653.4" r="3.65" fill="#a65a00"/>
<circle cx="454.9" cy="654.4" r="3.65" fill="#00ff55"/>
<circle cx="411.0" cy="655.6" r="3.65" fill="#00ff00"/>
<circle cx="411.0" cy="658.9" r="3.65" fill="#00ff00"/>
<circle cx="396.4" cy="657.5" r="3.65" fill="#00ffaa"/>
<circle cx="425.3" cy="660.3" r="3.65" fill="#00ffff"/>
<circle cx="399.3" cy="662.1" r="3.65" fill="#00ff00"/>
<circle cx="404.2" cy="664.1" r="3.65" fill="#a65a00"/>
<circle cx="410.4" cy="669.6" r="3.65" fill="#ffd000"/>
<circle cx="425.9" cy="668.4" r="3.65" fill="#a65a00"/>
<circle cx="395.3" cy="668.8" r="3.65" fill="#00ff00"/>
<circle cx="397.9" cy="670.9" r="3.65" fill="#a65a00"/>
<circle cx="404.9" cy="672.5" r="3.65" fill="#00ffff"/>
<circle cx="418.6" cy="672.9" r="3.65" fill="#00ff00"/>
<circle cx="423.3" cy="672.9" r="3.65" fill="#00ff00"/>
<circle cx="417.4" cy="675.8" r="3.65" fill="#00ff00"/>
<circle cx="408.7" cy="679.3" r="3.65" fill="#ffd000"/>
<circle cx="415.3" cy="680.8" r="3.65" fill="#ffd000"/>
<circle cx="411.6" cy="675.6" r="3.65" fill="#66990a"/>
<circle cx="433.7" cy="680.4" r="3.65" fill="#ffd000"/>
<circle cx="445.8" cy="680.9" r="3.65" fill="#00ff00"/>
<circle cx="391.2" cy="685.7" r="3.65" fill="#00ff00"/>
<circle cx="394.7" cy="689.2" r="3.65" fill="#66990a"/>
<circle cx="410.4" cy="685.7" r="3.65" fill="#00ff00"/>
<circle cx="407.2" cy="689.0" r="3.65" fill="#00ff00"/>
<circle cx="424.1" cy="687.1" r="3.65" fill="#00ff00"/>
<circle cx="421.3" cy="689.2" r="3.65" fill="#00ff00"/>
<circle cx="425.6" cy="693.3" r="3.65" fill="#00ff00"/>
<circle cx="431.8" cy="691.9" r="3.65" fill="#00ff00"/>
<circle cx="402.6" cy="693.3" r="3.65" fill="#ffd000"/>
<circle cx="431.2" cy="698.0" r="3.65" fill="#00ff00"/>
<circle cx="420.1" cy="699.7" r="3.65" fill="#00ff00"/>
<circle cx="404.0" cy="698.0" r="3.65" fill="#00ff00"/>
<circle cx="402.8" cy="702.1" r="3.65" fill="#00ff00"/>
<circle cx="408.7" cy="700.3" r="3.65" fill="#00ff55"/>
<circle cx="394.8" cy="706.8" r="3.65" fill="#66990a"/>
<circle cx="409.9" cy="710.4" r="3.65" fill="#00ff55"/>
<circle cx="454.5" cy="719.4" r="3.65" fill="#00ff00"/>
<circle cx="90.2" cy="605.2" r="3.65" fill="#00ff00"/>
<circle cx="120.9" cy="616.3" r="3.65" fill="#ff0000"/>
<path d="M493.91,718.72 L494.29,717.41 L494.70,716.10 L495.15,714.79 L495.64,713.48 L496.17,712.17 L496.73,710.86 L497.34,709.55 L498.00,708.24 L498.70,706.93 L499.45,705.62 L500.25,704.31 L501.11,703.00 L502.01,701.69 L502.97,700.38 L503.99,699.07 L505.06,697.76 L506.18,696.44 L507.37,695.13 L508.60,693.82 L509.90,692.51 L511.25,691.20 L512.65,689.89 L514.10,688.58 L515.60,687.27 L517.16,685.96 L518.75,684.65 L520.39,683.34 L522.07,682.03 L523.78,680.72 L525.53,679.41 L527.30,678.10 L529.09,676.79 L530.90,675.47 L532.73,674.16 L534.56,672.85 L536.39,671.54 L538.22,670.23 L540.04,668.92 L541.84,667.61 L543.63,666.30 L545.39,664.99 L547.12,663.68 L548.81,662.37 L550.46,661.06 L552.07,659.75 L553.63,658.44 L555.14,657.13 L556.59,655.82 L557.99,654.50 L559.33,653.19 L560.61,651.88 L561.83,650.57 L562.98,649.26 L564.08,647.95 L565.11,646.64 L566.09,645.33 L567.01,644.02 L567.88,642.71 L568.66,641.40 L569.35,640.09 L569.97,638.78 L570.51,637.47 L570.99,636.16 L571.40,634.85 L571.75,633.53 L572.06,632.22 L572.31,630.91 L572.53,629.60 L572.71,628.29 L572.87,626.98 L573.00,625.67 L573.11,624.36 L573.19,623.05 L573.27,621.74 L573.33,620.43 L573.37,619.12 L573.40,617.81 L573.41,616.50 L573.41,615.19 L573.39,613.88 L573.33,612.56 L573.26,611.25 L573.14,609.94 L572.99,608.63 L572.79,607.32 L572.54,606.01 L572.23,604.70 L571.86,603.39 L571.42,602.08 L570.91,600.77 L570.32,599.46 L569.65,598.15 L568.89,596.84 L568.04,595.53 L567.11,594.22 L566.08,592.91 L564.97,591.59 L563.76,590.28 L562.47,588.97 L561.10,587.66 L559.66,586.35 L558.14,585.04 L556.55,583.73 L554.90,582.42 L553.21,581.11 L551.46,579.80 L549.69,578.49 L547.88,577.18 L546.05,575.87 L544.22,574.56 L542.38,573.25 L540.54,571.94 L538.72,570.63 L536.93,569.31 L535.15,568.00 L533.42,566.69 L531.72,565.38 L530.06,564.07 L528.46,562.76 L526.91,561.45 L525.41,560.14 L523.97,558.83 L522.59,557.52 L521.27,556.21 L520.00,554.90 L518.80,553.59 L517.66,552.28 L516.58,550.97 L515.55,549.66 L514.58,548.34 L513.66,547.03 L512.79,545.72 L511.97,544.41 L511.19,543.10 L510.46,541.79 L509.77,540.48 L509.12,539.17 L508.50,537.86 L507.91,536.55 L507.36,535.24 L506.83,533.93 L506.34,532.62 L505.86,531.31 L505.41,530.00 L504.99,528.69 L504.58,527.37 L504.19,526.06 L503.82,524.75 L503.47,523.44 L503.14,522.13 L502.82,520.82 L502.52,519.51 L502.23,518.20 L501.95,516.89 L501.69,515.58 L501.44,514.27 L501.21,512.96 L500.98,511.65 L500.77,510.34 L500.57,509.03 L500.38,507.72 L500.20,506.40 L500.03,505.09 L499.88,503.78 L499.73,502.47 L499.58,501.16 L499.45,499.85 L499.32,498.54 L499.21,497.23 L499.09,495.92 L498.99,494.61 L498.89,493.30 L498.79,491.99 L498.70,490.68 L498.61,489.37 L498.53,488.06 L498.45,486.75 L498.37,485.43 L498.29,484.12 L498.21,482.81 L498.14,481.50 L498.07,480.19 L498.00,478.88 L497.92,477.57 L497.85,476.26 L497.78,474.95 L497.71,473.64 L497.64,472.33 L497.56,471.02 L497.49,469.71 L497.41,468.40 L497.34,467.09 L497.26,465.78 L497.19,464.46 L497.11,463.15 L497.03,461.84 L496.95,460.53 L496.87,459.22 L496.78,457.91 L496.70,456.60 L496.62,455.29 L496.53,453.98 L496.44,452.67 L496.36,451.36 L496.27,450.05 L496.18,448.74 L496.09,447.43 L496.00,446.12 L495.91,444.81 L495.82,443.50 L495.73,442.18 L495.64,440.87 L495.55,439.56 L495.46,438.25 L495.36,436.94 L495.27,435.63 L495.18,434.32 L495.09,433.01 L494.99,431.70 L494.90,430.39 L494.81,429.08 L494.72,427.77 L494.63,426.46 L494.54,425.15 L494.45,423.84 L494.36,422.53 L494.27,421.21 L494.18,419.90 L494.10,418.59 L494.01,417.28 L493.93,415.97 L493.84,414.66 L493.76,413.35 L493.68,412.04 L493.61,410.73 L493.53,409.42 L493.46,408.11 L493.39,406.80 L493.32,405.49 L493.25,404.18 L493.18,402.87 L493.12,401.56 L493.06,400.24 L493.00,398.93 L492.94,397.62 L492.88,396.31 L492.83,395.00 L492.78,393.69 L492.73,392.38 L492.68,391.07 L492.64,389.76 L492.60,388.45 L492.55,387.14 L492.51,385.83 L492.47,384.52 L492.44,383.21 L492.40,381.90 L492.36,380.59 L492.33,379.27 L492.30,377.96 L492.26,376.65 L492.23,375.34 L492.20,374.03 L492.17,372.72 L492.13,371.41 L492.10,370.10 L492.07,368.79 L492.04,367.48 L492.01,366.17 L491.98,364.86 L491.94,363.55 L491.91,362.24 L491.88,360.93 L491.84,359.62 L491.81,358.30 L491.77,356.99 L491.74,355.68 L491.70,354.37 L491.67,353.06 L491.63,351.75 L491.59,350.44 L491.56,349.13 L491.52,347.82 L491.48,346.51 L491.44,345.20 L491.41,343.89 L491.37,342.58 L491.33,341.27 L491.29,339.96 L491.26,338.65 L491.22,337.33 L491.18,336.02 L491.15,334.71 L491.11,333.40 L491.08,332.09 L491.04,330.78 L491.01,329.47 L490.98,328.16 L490.94,326.85 L490.40,326.85 L490.40,718.72 Z" fill="#e8e8e8"/>
<path d="M493.91,718.72 L494.29,717.41 L494.70,716.10 L495.15,714.79 L495.64,713.48 L496.17,712.17 L496.73,710.86 L497.34,709.55 L498.00,708.24 L498.70,706.93 L499.45,705.62 L500.25,704.31 L501.11,703.00 L502.01,701.69 L502.97,700.38 L503.99,699.07 L505.06,697.76 L506.18,696.44 L507.37,695.13 L508.60,693.82 L509.90,692.51 L511.25,691.20 L512.65,689.89 L514.10,688.58 L515.60,687.27 L517.16,685.96 L518.75,684.65 L520.39,683.34 L522.07,682.03 L523.78,680.72 L525.53,679.41 L527.30,678.10 L529.09,676.79 L530.90,675.47 L532.73,674.16 L534.56,672.85 L536.39,671.54 L538.22,670.23 L540.04,668.92 L541.84,667.61 L543.63,666.30 L545.39,664.99 L547.12,663.68 L548.81,662.37 L550.46,661.06 L552.07,659.75 L553.63,658.44 L555.14,657.13 L556.59,655.82 L557.99,654.50 L559.33,653.19 L560.61,651.88 L561.83,650.57 L562.98,649.26 L564.08,647.95 L565.11,646.64 L566.09,645.33 L567.01,644.02 L567.88,642.71 L568.66,641.40 L569.35,640.09 L569.97,638.78 L570.51,637.47 L570.99,636.16 L571.40,634.85 L571.75,633.53 L572.06,632.22 L572.31,630.91 L572.53,629.60 L572.71,628.29 L572.87,626.98 L573.00,625.67 L573.11,624.36 L573.19,623.05 L573.27,621.74 L573.33,620.43 L573.37,619.12 L573.40,617.81 L573.41,616.50 L573.41,615.19 L573.39,613.88 L573.33,612.56 L573.26,611.25 L573.14,609.94 L572.99,608.63 L572.79,607.32 L572.54,606.01 L572.23,604.70 L571.86,603.39 L571.42,602.08 L570.91,600.77 L570.32,599.46 L569.65,598.15 L568.89,596.84 L568.04,595.53 L567.11,594.22 L566.08,592.91 L564.97,591.59 L563.76,590.28 L562.47,588.97 L561.10,587.66 L559.66,586.35 L558.14,585.04 L556.55,583.73 L554.90,582.42 L553.21,581.11 L551.46,579.80 L549.69,578.49 L547.88,577.18 L546.05,575.87 L544.22,574.56 L542.38,573.25 L540.54,571.94 L538.72,570.63 L536.93,569.31 L535.15,568.00 L533.42,566.69 L531.72,565.38 L530.06,564.07 L528.46,562.76 L526.91,561.45 L525.41,560.14 L523.97,558.83 L522.59,557.52 L521.27,556.21 L520.00,554.90 L518.80,553.59 L517.66,552.28 L516.58,550.97 L515.55,549.66 L514.58,548.34 L513.66,547.03 L512.79,545.72 L511.97,544.41 L511.19,543.10 L510.46,541.79 L509.77,540.48 L509.12,539.17 L508.50,537.86 L507.91,536.55 L507.36,535.24 L506.83,533.93 L506.34,532.62 L505.86,531.31 L505.41,530.00 L504.99,528.69 L504.58,527.37 L504.19,526.06 L503.82,524.75 L503.47,523.44 L503.14,522.13 L502.82,520.82 L502.52,519.51 L502.23,518.20 L501.95,516.89 L501.69,515.58 L501.44,514.27 L501.21,512.96 L500.98,511.65 L500.77,510.34 L500.57,509.03 L500.38,507.72 L500.20,506.40 L500.03,505.09 L499.88,503.78 L499.73,502.47 L499.58,501.16 L499.45,499.85 L499.32,498.54 L499.21,497.23 L499.09,495.92 L498.99,494.61 L498.89,493.30 L498.79,491.99 L498.70,490.68 L498.61,489.37 L498.53,488.06 L498.45,486.75 L498.37,485.43 L498.29,484.12 L498.21,482.81 L498.14,481.50 L498.07,480.19 L498.00,478.88 L497.92,477.57 L497.85,476.26 L497.78,474.95 L497.71,473.64 L497.64,472.33 L497.56,471.02 L497.49,469.71 L497.41,468.40 L497.34,467.09 L497.26,465.78 L497.19,464.46 L497.11,463.15 L497.03,461.84 L496.95,460.53 L496.87,459.22 L496.78,457.91 L496.70,456.60 L496.62,455.29 L496.53,453.98 L496.44,452.67 L496.36,451.36 L496.27,450.05 L496.18,448.74 L496.09,447.43 L496.00,446.12 L495.91,444.81 L495.82,443.50 L495.73,442.18 L495.64,440.87 L495.55,439.56 L495.46,438.25 L495.36,436.94 L495.27,435.63 L495.18,434.32 L495.09,433.01 L494.99,431.70 L494.90,430.39 L494.81,429.08 L494.72,427.77 L494.63,426.46 L494.54,425.15 L494.45,423.84 L494.36,422.53 L494.27,421.21 L494.18,419.90 L494.10,418.59 L494.01,417.28 L493.93,415.97 L493.84,414.66 L493.76,413.35 L493.68,412.04 L493.61,410.73 L493.53,409.42 L493.46,408.11 L493.39,406.80 L493.32,405.49 L493.25,404.18 L493.18,402.87 L493.12,401.56 L493.06,400.24 L493.00,398.93 L492.94,397.62 L492.88,396.31 L492.83,395.00 L492.78,393.69 L492.73,392.38 L492.68,391.07 L492.64,389.76 L492.60,388.45 L492.55,387.14 L492.51,385.83 L492.47,384.52 L492.44,383.21 L492.40,381.90 L492.36,380.59 L492.33,379.27 L492.30,377.96 L492.26,376.65 L492.23,375.34 L492.20,374.03 L492.17,372.72 L492.13,371.41 L492.10,370.10 L492.07,368.79 L492.04,367.48 L492.01,366.17 L491.98,364.86 L491.94,363.55 L491.91,362.24 L491.88,360.93 L491.84,359.62 L491.81,358.30 L491.77,356.99 L491.74,355.68 L491.70,354.37 L491.67,353.06 L491.63,351.75 L491.59,350.44 L491.56,349.13 L491.52,347.82 L491.48,346.51 L491.44,345.20 L491.41,343.89 L491.37,342.58 L491.33,341.27 L491.29,339.96 L491.26,338.65 L491.22,337.33 L491.18,336.02 L491.15,334.71 L491.11,333.40 L491.08,332.09 L491.04,330.78 L491.01,329.47 L490.98,328.16 L490.94,326.85" fill="none" stroke="#d2d2d2" stroke-width="2.4" stroke-linejoin="round"/>
<path d="M593.25,718.72 L593.65,717.41 L594.08,716.10 L594.54,714.79 L595.05,713.48 L595.60,712.17 L596.19,710.86 L596.82,709.55 L597.50,708.24 L598.23,706.93 L599.02,705.62 L599.85,704.31 L600.74,703.00 L601.68,701.69 L602.68,700.38 L603.73,699.07 L604.84,697.76 L606.02,696.44 L607.24,695.13 L608.53,693.82 L609.88,692.51 L611.28,691.20 L612.74,689.89 L614.25,688.58 L615.81,687.27 L617.43,685.96 L619.09,684.65 L620.79,683.34 L622.54,682.03 L624.32,680.72 L626.13,679.41 L627.97,678.10 L629.84,676.79 L631.72,675.47 L633.62,674.16 L635.52,672.85 L637.43,671.54 L639.33,670.23 L641.22,668.92 L643.10,667.61 L644.96,666.30 L646.79,664.99 L648.58,663.68 L650.35,662.37 L652.06,661.06 L653.74,659.75 L655.36,658.44 L656.93,657.13 L658.44,655.82 L659.89,654.50 L661.29,653.19 L662.62,651.88 L663.88,650.57 L665.08,649.26 L666.22,647.95 L667.30,646.64 L668.32,645.33 L669.28,644.02 L670.18,642.71 L670.99,641.40 L671.71,640.09 L672.35,638.78 L672.92,637.47 L673.41,636.16 L673.84,634.85 L674.21,633.53 L674.52,632.22 L674.79,630.91 L675.02,629.60 L675.21,628.29 L675.37,626.98 L675.50,625.67 L675.61,624.36 L675.71,623.05 L675.78,621.74 L675.84,620.43 L675.89,619.12 L675.92,617.81 L675.94,616.50 L675.93,615.19 L675.90,613.88 L675.85,612.56 L675.77,611.25 L675.65,609.94 L675.49,608.63 L675.28,607.32 L675.02,606.01 L674.70,604.70 L674.32,603.39 L673.86,602.08 L673.33,600.77 L672.72,599.46 L672.02,598.15 L671.23,596.84 L670.35,595.53 L669.37,594.22 L668.31,592.91 L667.15,591.59 L665.90,590.28 L664.56,588.97 L663.13,587.66 L661.63,586.35 L660.05,585.04 L658.40,583.73 L656.68,582.42 L654.92,581.11 L653.11,579.80 L651.26,578.49 L649.38,577.18 L647.48,575.87 L645.57,574.56 L643.66,573.25 L641.75,571.94 L639.86,570.63 L637.99,569.31 L636.14,568.00 L634.34,566.69 L632.57,565.38 L630.85,564.07 L629.18,562.76 L627.57,561.45 L626.01,560.14 L624.51,558.83 L623.07,557.52 L621.70,556.21 L620.39,554.90 L619.14,553.59 L617.95,552.28 L616.83,550.97 L615.76,549.66 L614.75,548.34 L613.79,547.03 L612.89,545.72 L612.03,544.41 L611.23,543.10 L610.46,541.79 L609.75,540.48 L609.07,539.17 L608.42,537.86 L607.81,536.55 L607.24,535.24 L606.69,533.93 L606.17,532.62 L605.68,531.31 L605.21,530.00 L604.77,528.69 L604.35,527.37 L603.94,526.06 L603.56,524.75 L603.20,523.44 L602.85,522.13 L602.52,520.82 L602.20,519.51 L601.90,518.20 L601.61,516.89 L601.34,515.58 L601.08,514.27 L600.84,512.96 L600.61,511.65 L600.39,510.34 L600.18,509.03 L599.98,507.72 L599.80,506.40 L599.62,505.09 L599.45,503.78 L599.30,502.47 L599.15,501.16 L599.01,499.85 L598.88,498.54 L598.76,497.23 L598.64,495.92 L598.53,494.61 L598.43,493.30 L598.33,491.99 L598.23,490.68 L598.14,489.37 L598.05,488.06 L597.97,486.75 L597.89,485.43 L597.81,484.12 L597.73,482.81 L597.65,481.50 L597.57,480.19 L597.50,478.88 L597.43,477.57 L597.35,476.26 L597.28,474.95 L597.20,473.64 L597.13,472.33 L597.05,471.02 L596.97,469.71 L596.90,468.40 L596.82,467.09 L596.74,465.78 L596.66,464.46 L596.58,463.15 L596.49,461.84 L596.41,460.53 L596.32,459.22 L596.24,457.91 L596.15,456.60 L596.06,455.29 L595.98,453.98 L595.89,452.67 L595.80,451.36 L595.70,450.05 L595.61,448.74 L595.52,447.43 L595.43,446.12 L595.33,444.81 L595.24,443.50 L595.14,442.18 L595.05,440.87 L594.95,439.56 L594.86,438.25 L594.76,436.94 L594.67,435.63 L594.57,434.32 L594.47,433.01 L594.38,431.70 L594.28,430.39 L594.19,429.08 L594.09,427.77 L594.00,426.46 L593.90,425.15 L593.81,423.84 L593.72,422.53 L593.62,421.21 L593.53,419.90 L593.44,418.59 L593.36,417.28 L593.27,415.97 L593.18,414.66 L593.10,413.35 L593.02,412.04 L592.94,410.73 L592.86,409.42 L592.78,408.11 L592.70,406.80 L592.63,405.49 L592.56,404.18 L592.49,402.87 L592.43,401.56 L592.36,400.24 L592.30,398.93 L592.24,397.62 L592.18,396.31 L592.13,395.00 L592.08,393.69 L592.02,392.38 L591.98,391.07 L591.93,389.76 L591.88,388.45 L591.84,387.14 L591.80,385.83 L591.76,384.52 L591.72,383.21 L591.68,381.90 L591.64,380.59 L591.61,379.27 L591.57,377.96 L591.54,376.65 L591.50,375.34 L591.47,374.03 L591.44,372.72 L591.40,371.41 L591.37,370.10 L591.34,368.79 L591.30,367.48 L591.27,366.17 L591.24,364.86 L591.20,363.55 L591.17,362.24 L591.14,360.93 L591.10,359.62 L591.06,358.30 L591.03,356.99 L590.99,355.68 L590.95,354.37 L590.92,353.06 L590.88,351.75 L590.84,350.44 L590.80,349.13 L590.76,347.82 L590.72,346.51 L590.68,345.20 L590.65,343.89 L590.61,342.58 L590.57,341.27 L590.53,339.96 L590.49,338.65 L590.45,337.33 L590.41,336.02 L590.38,334.71 L590.34,333.40 L590.30,332.09 L590.27,330.78 L590.23,329.47 L590.20,328.16 L590.17,326.85 L589.60,326.85 L589.60,718.72 Z" fill="#e8e8e8"/>
<path d="M593.25,718.72 L593.65,717.41 L594.08,716.10 L594.54,714.79 L595.05,713.48 L595.60,712.17 L596.19,710.86 L596.82,709.55 L597.50,708.24 L598.23,706.93 L599.02,705.62 L599.85,704.31 L600.74,703.00 L601.68,701.69 L602.68,700.38 L603.73,699.07 L604.84,697.76 L606.02,696.44 L607.24,695.13 L608.53,693.82 L609.88,692.51 L611.28,691.20 L612.74,689.89 L614.25,688.58 L615.81,687.27 L617.43,685.96 L619.09,684.65 L620.79,683.34 L622.54,682.03 L624.32,680.72 L626.13,679.41 L627.97,678.10 L629.84,676.79 L631.72,675.47 L633.62,674.16 L635.52,672.85 L637.43,671.54 L639.33,670.23 L641.22,668.92 L643.10,667.61 L644.96,666.30 L646.79,664.99 L648.58,663.68 L650.35,662.37 L652.06,661.06 L653.74,659.75 L655.36,658.44 L656.93,657.13 L658.44,655.82 L659.89,654.50 L661.29,653.19 L662.62,651.88 L663.88,650.57 L665.08,649.26 L666.22,647.95 L667.30,646.64 L668.32,645.33 L669.28,644.02 L670.18,642.71 L670.99,641.40 L671.71,640.09 L672.35,638.78 L672.92,637.47 L673.41,636.16 L673.84,634.85 L674.21,633.53 L674.52,632.22 L674.79,630.91 L675.02,629.60 L675.21,628.29 L675.37,626.98 L675.50,625.67 L675.61,624.36 L675.71,623.05 L675.78,621.74 L675.84,620.43 L675.89,619.12 L675.92,617.81 L675.94,616.50 L675.93,615.19 L675.90,613.88 L675.85,612.56 L675.77,611.25 L675.65,609.94 L675.49,608.63 L675.28,607.32 L675.02,606.01 L674.70,604.70 L674.32,603.39 L673.86,602.08 L673.33,600.77 L672.72,599.46 L672.02,598.15 L671.23,596.84 L670.35,595.53 L669.37,594.22 L668.31,592.91 L667.15,591.59 L665.90,590.28 L664.56,588.97 L663.13,587.66 L661.63,586.35 L660.05,585.04 L658.40,583.73 L656.68,582.42 L654.92,581.11 L653.11,579.80 L651.26,578.49 L649.38,577.18 L647.48,575.87 L645.57,574.56 L643.66,573.25 L641.75,571.94 L639.86,570.63 L637.99,569.31 L636.14,568.00 L634.34,566.69 L632.57,565.38 L630.85,564.07 L629.18,562.76 L627.57,561.45 L626.01,560.14 L624.51,558.83 L623.07,557.52 L621.70,556.21 L620.39,554.90 L619.14,553.59 L617.95,552.28 L616.83,550.97 L615.76,549.66 L614.75,548.34 L613.79,547.03 L612.89,545.72 L612.03,544.41 L611.23,543.10 L610.46,541.79 L609.75,540.48 L609.07,539.17 L608.42,537.86 L607.81,536.55 L607.24,535.24 L606.69,533.93 L606.17,532.62 L605.68,531.31 L605.21,530.00 L604.77,528.69 L604.35,527.37 L603.94,526.06 L603.56,524.75 L603.20,523.44 L602.85,522.13 L602.52,520.82 L602.20,519.51 L601.90,518.20 L601.61,516.89 L601.34,515.58 L601.08,514.27 L600.84,512.96 L600.61,511.65 L600.39,510.34 L600.18,509.03 L599.98,507.72 L599.80,506.40 L599.62,505.09 L599.45,503.78 L599.30,502.47 L599.15,501.16 L599.01,499.85 L598.88,498.54 L598.76,497.23 L598.64,495.92 L598.53,494.61 L598.43,493.30 L598.33,491.99 L598.23,490.68 L598.14,489.37 L598.05,488.06 L597.97,486.75 L597.89,485.43 L597.81,484.12 L597.73,482.81 L597.65,481.50 L597.57,480.19 L597.50,478.88 L597.43,477.57 L597.35,476.26 L597.28,474.95 L597.20,473.64 L597.13,472.33 L597.05,471.02 L596.97,469.71 L596.90,468.40 L596.82,467.09 L596.74,465.78 L596.66,464.46 L596.58,463.15 L596.49,461.84 L596.41,460.53 L596.32,459.22 L596.24,457.91 L596.15,456.60 L596.06,455.29 L595.98,453.98 L595.89,452.67 L595.80,451.36 L595.70,450.05 L595.61,448.74 L595.52,447.43 L595.43,446.12 L595.33,444.81 L595.24,443.50 L595.14,442.18 L595.05,440.87 L594.95,439.56 L594.86,438.25 L594.76,436.94 L594.67,435.63 L594.57,434.32 L594.47,433.01 L594.38,431.70 L594.28,430.39 L594.19,429.08 L594.09,427.77 L594.00,426.46 L593.90,425.15 L593.81,423.84 L593.72,422.53 L593.62,421.21 L593.53,419.90 L593.44,418.59 L593.36,417.28 L593.27,415.97 L593.18,414.66 L593.10,413.35 L593.02,412.04 L592.94,410.73 L592.86,409.42 L592.78,408.11 L592.70,406.80 L592.63,405.49 L592.56,404.18 L592.49,402.87 L592.43,401.56 L592.36,400.24 L592.30,398.93 L592.24,397.62 L592.18,396.31 L592.13,395.00 L592.08,393.69 L592.02,392.38 L591.98,391.07 L591.93,389.76 L591.88,388.45 L591.84,387.14 L591.80,385.83 L591.76,384.52 L591.72,383.21 L591.68,381.90 L591.64,380.59 L591.61,379.27 L591.57,377.96 L591.54,376.65 L591.50,375.34 L591.47,374.03 L591.44,372.72 L591.40,371.41 L591.37,370.10 L591.34,368.79 L591.30,367.48 L591.27,366.17 L591.24,364.86 L591.20,363.55 L591.17,362.24 L591.14,360.93 L591.10,359.62 L591.06,358.30 L591.03,356.99 L590.99,355.68 L590.95,354.37 L590.92,353.06 L590.88,351.75 L590.84,350.44 L590.80,349.13 L590.76,347.82 L590.72,346.51 L590.68,345.20 L590.65,343.89 L590.61,342.58 L590.57,341.27 L590.53,339.96 L590.49,338.65 L590.45,337.33 L590.41,336.02 L590.38,334.71 L590.34,333.40 L590.30,332.09 L590.27,330.78 L590.23,329.47 L590.20,328.16 L590.17,326.85" fill="none" stroke="#d2d2d2" stroke-width="2.4" stroke-linejoin="round"/>
<path d="M491.18,718.72 L491.27,717.41 L491.36,716.10 L491.45,714.79 L491.56,713.48 L491.68,712.17 L491.80,710.86 L491.94,709.55 L492.08,708.24 L492.24,706.93 L492.41,705.62 L492.59,704.31 L492.78,703.00 L492.99,701.69 L493.21,700.38 L493.45,699.07 L493.71,697.76 L493.98,696.44 L494.26,695.13 L494.57,693.82 L494.89,692.51 L495.23,691.20 L495.59,689.89 L495.97,688.58 L496.36,687.27 L496.78,685.96 L497.22,684.65 L497.67,683.34 L498.15,682.03 L498.65,680.72 L499.17,679.41 L499.70,678.10 L500.26,676.79 L500.84,675.47 L501.43,674.16 L502.04,672.85 L502.67,671.54 L503.32,670.23 L503.98,668.92 L504.66,667.61 L505.35,666.30 L506.06,664.99 L506.77,663.68 L507.50,662.37 L508.23,661.06 L508.97,659.75 L509.72,658.44 L510.46,657.13 L511.21,655.82 L511.96,654.50 L512.71,653.19 L513.45,651.88 L514.19,650.57 L514.92,649.26 L515.64,647.95 L516.35,646.64 L517.04,645.33 L517.71,644.02 L518.37,642.71 L519.01,641.40 L519.63,640.09 L520.22,638.78 L520.79,637.47 L521.33,636.16 L521.84,634.85 L522.33,633.53 L522.78,632.22 L523.20,630.91 L523.59,629.60 L523.95,628.29 L524.27,626.98 L524.56,625.67 L524.81,624.36 L525.03,623.05 L525.22,621.74 L525.37,620.43 L525.49,619.12 L525.57,617.81 L525.62,616.50 L525.64,615.19 L525.63,613.88 L525.59,612.56 L525.52,611.25 L525.43,609.94 L525.31,608.63 L525.16,607.32 L524.99,606.01 L524.79,604.70 L524.58,603.39 L524.35,602.08 L524.09,600.77 L523.83,599.46 L523.54,598.15 L523.25,596.84 L522.94,595.53 L522.61,594.22 L522.28,592.91 L521.94,591.59 L521.59,590.28 L521.24,588.97 L520.88,587.66 L520.51,586.35 L520.13,585.04 L519.76,583.73 L519.38,582.42 L518.99,581.11 L518.60,579.80 L518.21,578.49 L517.82,577.18 L517.42,575.87 L517.02,574.56 L516.62,573.25 L516.22,571.94 L515.81,570.63 L515.40,569.31 L514.99,568.00 L514.58,566.69 L514.17,565.38 L513.75,564.07 L513.33,562.76 L512.91,561.45 L512.49,560.14 L512.07,558.83 L511.65,557.52 L511.22,556.21 L510.80,554.90 L510.37,553.59 L509.95,552.28 L509.52,550.97 L509.10,549.66 L508.67,548.34 L508.25,547.03 L507.83,545.72 L507.42,544.41 L507.01,543.10 L506.60,541.79 L506.19,540.48 L505.79,539.17 L505.40,537.86 L505.01,536.55 L504.63,535.24 L504.25,533.93 L503.88,532.62 L503.52,531.31 L503.16,530.00 L502.81,528.69 L502.47,527.37 L502.14,526.06 L501.82,524.75 L501.50,523.44 L501.19,522.13 L500.89,520.82 L500.60,519.51 L500.32,518.20 L500.05,516.89 L499.78,515.58 L499.52,514.27 L499.27,512.96 L499.03,511.65 L498.79,510.34 L498.57,509.03 L498.35,507.72 L498.13,506.40 L497.93,505.09 L497.73,503.78 L497.54,502.47 L497.35,501.16 L497.17,499.85 L497.00,498.54 L496.83,497.23 L496.66,495.92 L496.51,494.61 L496.36,493.30 L496.21,491.99 L496.07,490.68 L495.93,489.37 L495.80,488.06 L495.67,486.75 L495.55,485.43 L495.43,484.12 L495.32,482.81 L495.21,481.50 L495.10,480.19 L495.00,478.88 L494.90,477.57 L494.81,476.26 L494.71,474.95 L494.63,473.64 L494.54,472.33 L494.46,471.02 L494.38,469.71 L494.30,468.40 L494.23,467.09 L494.16,465.78 L494.09,464.46 L494.02,463.15 L493.96,461.84 L493.89,460.53 L493.83,459.22 L493.77,457.91 L493.72,456.60 L493.66,455.29 L493.61,453.98 L493.55,452.67 L493.50,451.36 L493.45,450.05 L493.40,448.74 L493.35,447.43 L493.31,446.12 L493.26,444.81 L493.22,443.50 L493.17,442.18 L493.13,440.87 L493.08,439.56 L493.04,438.25 L493.00,436.94 L492.96,435.63 L492.92,434.32 L492.88,433.01 L492.85,431.70 L492.81,430.39 L492.77,429.08 L492.74,427.77 L492.70,426.46 L492.66,425.15 L492.63,423.84 L492.60,422.53 L492.56,421.21 L492.53,419.90 L492.50,418.59 L492.47,417.28 L492.44,415.97 L492.41,414.66 L492.38,413.35 L492.35,412.04 L492.32,410.73 L492.29,409.42 L492.26,408.11 L492.23,406.80 L492.21,405.49 L492.18,404.18 L492.15,402.87 L492.13,401.56 L492.10,400.24 L492.08,398.93 L492.05,397.62 L492.03,396.31 L492.00,395.00 L491.98,393.69 L491.96,392.38 L491.94,391.07 L491.91,389.76 L491.89,388.45 L491.87,387.14 L491.85,385.83 L491.83,384.52 L491.81,383.21 L491.79,381.90 L491.77,380.59 L491.75,379.27 L491.73,377.96 L491.71,376.65 L491.69,375.34 L491.68,374.03 L491.66,372.72 L491.64,371.41 L491.62,370.10 L491.60,368.79 L491.58,367.48 L491.56,366.17 L491.54,364.86 L491.52,363.55 L491.51,362.24 L491.48,360.93 L491.46,359.62 L491.44,358.30 L491.42,356.99 L491.40,355.68 L491.38,354.37 L491.35,353.06 L491.33,351.75 L491.31,350.44 L491.28,349.13 L491.26,347.82 L491.23,346.51 L491.21,345.20 L491.18,343.89 L491.15,342.58 L491.13,341.27 L491.10,339.96 L491.07,338.65 L491.04,337.33 L491.02,336.02 L490.99,334.71 L490.96,333.40 L490.94,332.09 L490.91,330.78 L490.88,329.47 L490.86,328.16 L490.83,326.85" fill="none" stroke="#0000ff" stroke-width="2.6" stroke-linejoin="round"/>
<path d="M493.95,718.72 L494.26,717.41 L494.59,716.10 L494.94,714.79 L495.31,713.48 L495.71,712.17 L496.13,710.86 L496.57,709.55 L497.04,708.24 L497.54,706.93 L498.06,705.62 L498.60,704.31 L499.18,703.00 L499.78,701.69 L500.40,700.38 L501.05,699.07 L501.73,697.76 L502.44,696.44 L503.17,695.13 L503.92,693.82 L504.70,692.51 L505.50,691.20 L506.33,689.89 L507.17,688.58 L508.04,687.27 L508.92,685.96 L509.82,684.65 L510.73,683.34 L511.66,682.03 L512.60,680.72 L513.55,679.41 L514.50,678.10 L515.46,676.79 L516.42,675.47 L517.38,674.16 L518.34,672.85 L519.29,671.54 L520.23,670.23 L521.16,668.92 L522.08,667.61 L522.98,666.30 L523.86,664.99 L524.72,663.68 L525.56,662.37 L526.36,661.06 L527.15,659.75 L527.90,658.44 L528.61,657.13 L529.30,655.82 L529.94,654.50 L530.55,653.19 L531.12,651.88 L531.65,650.57 L532.15,649.26 L532.60,647.95 L533.00,646.64 L533.37,645.33 L533.70,644.02 L533.98,642.71 L534.23,641.40 L534.43,640.09 L534.60,638.78 L534.72,637.47 L534.82,636.16 L534.87,634.85 L534.90,633.53 L534.89,632.22 L534.85,630.91 L534.78,629.60 L534.68,628.29 L534.56,626.98 L534.42,625.67 L534.25,624.36 L534.06,623.05 L533.86,621.74 L533.64,620.43 L533.40,619.12 L533.14,617.81 L532.87,616.50 L532.59,615.19 L532.30,613.88 L532.00,612.56 L531.68,611.25 L531.35,609.94 L531.02,608.63 L530.67,607.32 L530.31,606.01 L529.94,604.70 L529.56,603.39 L529.17,602.08 L528.77,600.77 L528.35,599.46 L527.92,598.15 L527.48,596.84 L527.03,595.53 L526.56,594.22 L526.08,592.91 L525.58,591.59 L525.07,590.28 L524.54,588.97 L524.00,587.66 L523.45,586.35 L522.88,585.04 L522.30,583.73 L521.70,582.42 L521.09,581.11 L520.47,579.80 L519.85,578.49 L519.21,577.18 L518.56,575.87 L517.91,574.56 L517.25,573.25 L516.59,571.94 L515.93,570.63 L515.26,569.31 L514.60,568.00 L513.93,566.69 L513.28,565.38 L512.62,564.07 L511.98,562.76 L511.34,561.45 L510.71,560.14 L510.09,558.83 L509.48,557.52 L508.89,556.21 L508.31,554.90 L507.74,553.59 L507.19,552.28 L506.65,550.97 L506.13,549.66 L505.62,548.34 L505.13,547.03 L504.66,545.72 L504.21,544.41 L503.77,543.10 L503.34,541.79 L502.94,540.48 L502.55,539.17 L502.17,537.86 L501.81,536.55 L501.46,535.24 L501.13,533.93 L500.82,532.62 L500.51,531.31 L500.22,530.00 L499.94,528.69 L499.68,527.37 L499.42,526.06 L499.18,524.75 L498.94,523.44 L498.72,522.13 L498.50,520.82 L498.30,519.51 L498.10,518.20 L497.92,516.89 L497.74,515.58 L497.57,514.27 L497.40,512.96 L497.25,511.65 L497.10,510.34 L496.96,509.03 L496.82,507.72 L496.69,506.40 L496.57,505.09 L496.45,503.78 L496.34,502.47 L496.23,501.16 L496.13,499.85 L496.03,498.54 L495.93,497.23 L495.85,495.92 L495.76,494.61 L495.68,493.30 L495.60,491.99 L495.53,490.68 L495.46,489.37 L495.39,488.06 L495.32,486.75 L495.26,485.43 L495.20,484.12 L495.14,482.81 L495.08,481.50 L495.03,480.19 L494.97,478.88 L494.92,477.57 L494.87,476.26 L494.82,474.95 L494.77,473.64 L494.72,472.33 L494.67,471.02 L494.62,469.71 L494.57,468.40 L494.53,467.09 L494.48,465.78 L494.43,464.46 L494.39,463.15 L494.34,461.84 L494.29,460.53 L494.24,459.22 L494.20,457.91 L494.15,456.60 L494.10,455.29 L494.05,453.98 L494.00,452.67 L493.95,451.36 L493.91,450.05 L493.86,448.74 L493.81,447.43 L493.76,446.12 L493.71,444.81 L493.66,443.50 L493.60,442.18 L493.55,440.87 L493.50,439.56 L493.45,438.25 L493.40,436.94 L493.35,435.63 L493.29,434.32 L493.24,433.01 L493.19,431.70 L493.13,430.39 L493.08,429.08 L493.03,427.77 L492.97,426.46 L492.92,425.15 L492.86,423.84 L492.81,422.53 L492.76,421.21 L492.70,419.90 L492.65,418.59 L492.59,417.28 L492.54,415.97 L492.48,414.66 L492.43,413.35 L492.37,412.04 L492.32,410.73 L492.27,409.42 L492.21,408.11 L492.16,406.80 L492.10,405.49 L492.05,404.18 L492.00,402.87 L491.95,401.56 L491.89,400.24 L491.84,398.93 L491.79,397.62 L491.74,396.31 L491.69,395.00 L491.64,393.69 L491.60,392.38 L491.55,391.07 L491.50,389.76 L491.46,388.45 L491.41,387.14 L491.37,385.83 L491.33,384.52 L491.28,383.21 L491.24,381.90 L491.20,380.59 L491.16,379.27 L491.13,377.96 L491.09,376.65 L491.05,375.34 L491.02,374.03 L490.99,372.72 L490.95,371.41 L490.92,370.10 L490.89,368.79 L490.87,367.48 L490.84,366.17 L490.81,364.86 L490.79,363.55 L490.76,362.24 L490.74,360.93 L490.72,359.62 L490.70,358.30 L490.68,356.99 L490.66,355.68 L490.64,354.37 L490.62,353.06 L490.61,351.75 L490.59,350.44 L490.58,349.13 L490.56,347.82 L490.55,346.51 L490.54,345.20 L490.53,343.89 L490.52,342.58 L490.51,341.27 L490.50,339.96 L490.49,338.65 L490.48,337.33 L490.48,336.02 L490.47,334.71 L490.46,333.40 L490.46,332.09 L490.45,330.78 L490.45,329.47 L490.44,328.16 L490.44,326.85" fill="none" stroke="#ff0000" stroke-width="2.6" stroke-linejoin="round"/>
<path d="M490.98,718.72 L491.05,717.41 L491.12,716.10 L491.20,714.79 L491.29,713.48 L491.38,712.17 L491.48,710.86 L491.59,709.55 L491.71,708.24 L491.85,706.93 L491.99,705.62 L492.14,704.31 L492.30,703.00 L492.48,701.69 L492.67,700.38 L492.88,699.07 L493.10,697.76 L493.33,696.44 L493.58,695.13 L493.85,693.82 L494.13,692.51 L494.43,691.20 L494.75,689.89 L495.09,688.58 L495.44,687.27 L495.82,685.96 L496.21,684.65 L496.62,683.34 L497.06,682.03 L497.51,680.72 L497.99,679.41 L498.48,678.10 L498.99,676.79 L499.53,675.47 L500.08,674.16 L500.65,672.85 L501.24,671.54 L501.85,670.23 L502.47,668.92 L503.11,667.61 L503.76,666.30 L504.43,664.99 L505.11,663.68 L505.80,662.37 L506.50,661.06 L507.20,659.75 L507.91,658.44 L508.63,657.13 L509.35,655.82 L510.07,654.50 L510.79,653.19 L511.51,651.88 L512.22,650.57 L512.92,649.26 L513.61,647.95 L514.29,646.64 L514.96,645.33 L515.60,644.02 L516.24,642.71 L516.85,641.40 L517.43,640.09 L518.00,638.78 L518.54,637.47 L519.05,636.16 L519.53,634.85 L519.98,633.53 L520.40,632.22 L520.79,630.91 L521.14,629.60 L521.45,628.29 L521.74,626.98 L521.98,625.67 L522.19,624.36 L522.37,623.05 L522.50,621.74 L522.61,620.43 L522.67,619.12 L522.71,617.81 L522.71,616.50 L522.67,615.19 L522.60,613.88 L522.51,612.56 L522.38,611.25 L522.23,609.94 L522.05,608.63 L521.84,607.32 L521.61,606.01 L521.36,604.70 L521.09,603.39 L520.81,602.08 L520.50,600.77 L520.18,599.46 L519.85,598.15 L519.50,596.84 L519.14,595.53 L518.78,594.22 L518.40,592.91 L518.02,591.59 L517.64,590.28 L517.24,588.97 L516.85,587.66 L516.45,586.35 L516.05,585.04 L515.64,583.73 L515.23,582.42 L514.83,581.11 L514.42,579.80 L514.00,578.49 L513.59,577.18 L513.18,575.87 L512.77,574.56 L512.35,573.25 L511.94,571.94 L511.52,570.63 L511.10,569.31 L510.68,568.00 L510.26,566.69 L509.84,565.38 L509.42,564.07 L509.00,562.76 L508.57,561.45 L508.15,560.14 L507.73,558.83 L507.31,557.52 L506.88,556.21 L506.46,554.90 L506.04,553.59 L505.63,552.28 L505.21,550.97 L504.80,549.66 L504.40,548.34 L503.99,547.03 L503.60,545.72 L503.20,544.41 L502.82,543.10 L502.44,541.79 L502.07,540.48 L501.70,539.17 L501.35,537.86 L501.00,536.55 L500.66,535.24 L500.33,533.93 L500.01,532.62 L499.70,531.31 L499.40,530.00 L499.10,528.69 L498.82,527.37 L498.54,526.06 L498.28,524.75 L498.02,523.44 L497.77,522.13 L497.53,520.82 L497.30,519.51 L497.08,518.20 L496.87,516.89 L496.66,515.58 L496.46,514.27 L496.26,512.96 L496.08,511.65 L495.89,510.34 L495.72,509.03 L495.55,507.72 L495.38,506.40 L495.22,505.09 L495.07,503.78 L494.92,502.47 L494.77,501.16 L494.63,499.85 L494.49,498.54 L494.36,497.23 L494.23,495.92 L494.10,494.61 L493.98,493.30 L493.86,491.99 L493.74,490.68 L493.63,489.37 L493.52,488.06 L493.41,486.75 L493.31,485.43 L493.21,484.12 L493.11,482.81 L493.01,481.50 L492.92,480.19 L492.83,478.88 L492.74,477.57 L492.65,476.26 L492.57,474.95 L492.48,473.64 L492.40,472.33 L492.33,471.02 L492.25,469.71 L492.18,468.40 L492.11,467.09 L492.04,465.78 L491.97,464.46 L491.90,463.15 L491.84,461.84 L491.77,460.53 L491.71,459.22 L491.65,457.91 L491.60,456.60 L491.54,455.29 L491.48,453.98 L491.43,452.67 L491.38,451.36 L491.33,450.05 L491.28,448.74 L491.23,447.43 L491.19,446.12 L491.15,444.81 L491.10,443.50 L491.06,442.18 L491.02,440.87 L490.99,439.56 L490.95,438.25 L490.91,436.94 L490.88,435.63 L490.85,434.32 L490.82,433.01 L490.79,431.70 L490.76,430.39 L490.74,429.08 L490.71,427.77 L490.69,426.46 L490.67,425.15 L490.65,423.84 L490.63,422.53 L490.61,421.21 L490.59,419.90 L490.58,418.59 L490.56,417.28 L490.55,415.97 L490.53,414.66 L490.52,413.35 L490.51,412.04 L490.50,410.73 L490.49,409.42 L490.48,408.11 L490.47,406.80 L490.47,405.49 L490.46,404.18 L490.45,402.87 L490.45,401.56 L490.44,400.24 L490.44,398.93 L490.43,397.62 L490.43,396.31 L490.43,395.00 L490.42,393.69 L490.42,392.38 L490.42,391.07 L490.42,389.76 L490.41,388.45 L490.41,387.14 L490.41,385.83 L490.41,384.52 L490.41,383.21 L490.41,381.90 L490.41,380.59 L490.41,379.27 L490.41,377.96 L490.40,376.65 L490.40,375.34 L490.40,374.03 L490.40,372.72 L490.40,371.41 L490.40,370.10 L490.40,368.79 L490.40,367.48 L490.40,366.17 L490.40,364.86 L490.40,363.55 L490.40,362.24 L490.40,360.93 L490.40,359.62 L490.40,358.30 L490.40,356.99 L490.40,355.68 L490.40,354.37 L490.40,353.06 L490.40,351.75 L490.40,350.44 L490.40,349.13 L490.40,347.82 L490.40,346.51 L490.40,345.20 L490.40,343.89 L490.40,342.58 L490.40,341.27 L490.40,339.96 L490.40,338.65 L490.40,337.33 L490.40,336.02 L490.40,334.71 L490.40,333.40 L490.40,332.09 L490.40,330.78 L490.40,329.47 L490.40,328.16 L490.40,326.85" fill="none" stroke="#008000" stroke-width="2.6" stroke-linejoin="round"/>
<path d="M589.63,718.72 L589.64,717.41 L589.65,716.10 L589.66,714.79 L589.67,713.48 L589.68,712.17 L589.70,710.86 L589.72,709.55 L589.74,708.24 L589.77,706.93 L589.80,705.62 L589.83,704.31 L589.88,703.00 L589.92,701.69 L589.98,700.38 L590.04,699.07 L590.11,697.76 L590.20,696.44 L590.29,695.13 L590.39,693.82 L590.51,692.51 L590.64,691.20 L590.79,689.89 L590.96,688.58 L591.14,687.27 L591.34,685.96 L591.57,684.65 L591.81,683.34 L592.08,682.03 L592.38,680.72 L592.70,679.41 L593.04,678.10 L593.42,676.79 L593.82,675.47 L594.25,674.16 L594.72,672.85 L595.21,671.54 L595.73,670.23 L596.29,668.92 L596.88,667.61 L597.50,666.30 L598.15,664.99 L598.83,663.68 L599.54,662.37 L600.28,661.06 L601.05,659.75 L601.85,658.44 L602.67,657.13 L603.52,655.82 L604.40,654.50 L605.30,653.19 L606.22,651.88 L607.17,650.57 L608.14,649.26 L609.13,647.95 L610.14,646.64 L611.17,645.33 L612.22,644.02 L613.29,642.71 L614.37,641.40 L615.48,640.09 L616.60,638.78 L617.74,637.47 L618.89,636.16 L620.07,634.85 L621.25,633.53 L622.46,632.22 L623.67,630.91 L624.91,629.60 L626.15,628.29 L627.40,626.98 L628.66,625.67 L629.93,624.36 L631.20,623.05 L632.47,621.74 L633.74,620.43 L634.99,619.12 L636.24,617.81 L637.47,616.50 L638.67,615.19 L639.85,613.88 L640.99,612.56 L642.10,611.25 L643.15,609.94 L644.16,608.63 L645.10,607.32 L645.98,606.01 L646.79,604.70 L647.53,603.39 L648.17,602.08 L648.74,600.77 L649.21,599.46 L649.58,598.15 L649.86,596.84 L650.03,595.53 L650.10,594.22 L650.07,592.91 L649.93,591.59 L649.68,590.28 L649.34,588.97 L648.88,587.66 L648.33,586.35 L647.68,585.04 L646.94,583.73 L646.11,582.42 L645.20,581.11 L644.21,579.80 L643.14,578.49 L642.01,577.18 L640.82,575.87 L639.57,574.56 L638.27,573.25 L636.94,571.94 L635.57,570.63 L634.16,569.31 L632.74,568.00 L631.30,566.69 L629.85,565.38 L628.40,564.07 L626.94,562.76 L625.49,561.45 L624.05,560.14 L622.62,558.83 L621.21,557.52 L619.82,556.21 L618.46,554.90 L617.12,553.59 L615.82,552.28 L614.54,550.97 L613.31,549.66 L612.11,548.34 L610.94,547.03 L609.82,545.72 L608.74,544.41 L607.70,543.10 L606.70,541.79 L605.75,540.48 L604.84,539.17 L603.98,537.86 L603.16,536.55 L602.38,535.24 L601.65,533.93 L600.97,532.62 L600.33,531.31 L599.73,530.00 L599.17,528.69 L598.66,527.37 L598.18,526.06 L597.75,524.75 L597.36,523.44 L597.00,522.13 L596.69,520.82 L596.40,519.51 L596.16,518.20 L595.94,516.89 L595.75,515.58 L595.60,514.27 L595.47,512.96 L595.37,511.65 L595.29,510.34 L595.23,509.03 L595.20,507.72 L595.18,506.40 L595.18,505.09 L595.20,503.78 L595.23,502.47 L595.27,501.16 L595.32,499.85 L595.38,498.54 L595.45,497.23 L595.52,495.92 L595.60,494.61 L595.68,493.30 L595.76,491.99 L595.85,490.68 L595.93,489.37 L596.01,488.06 L596.09,486.75 L596.16,485.43 L596.23,484.12 L596.29,482.81 L596.35,481.50 L596.41,480.19 L596.45,478.88 L596.50,477.57 L596.53,476.26 L596.55,474.95 L596.57,473.64 L596.58,472.33 L596.59,471.02 L596.58,469.71 L596.57,468.40 L596.55,467.09 L596.52,465.78 L596.49,464.46 L596.45,463.15 L596.40,461.84 L596.35,460.53 L596.29,459.22 L596.22,457.91 L596.15,456.60 L596.07,455.29 L595.99,453.98 L595.91,452.67 L595.82,451.36 L595.73,450.05 L595.63,448.74 L595.53,447.43 L595.43,446.12 L595.33,444.81 L595.23,443.50 L595.12,442.18 L595.01,440.87 L594.90,439.56 L594.80,438.25 L594.69,436.94 L594.58,435.63 L594.47,434.32 L594.36,433.01 L594.25,431.70 L594.15,430.39 L594.04,429.08 L593.93,427.77 L593.83,426.46 L593.73,425.15 L593.63,423.84 L593.53,422.53 L593.43,421.21 L593.33,419.90 L593.24,418.59 L593.15,417.28 L593.06,415.97 L592.97,414.66 L592.89,413.35 L592.81,412.04 L592.73,410.73 L592.65,409.42 L592.57,408.11 L592.50,406.80 L592.43,405.49 L592.37,404.18 L592.30,402.87 L592.24,401.56 L592.18,400.24 L592.12,398.93 L592.07,397.62 L592.01,396.31 L591.96,395.00 L591.92,393.69 L591.87,392.38 L591.83,391.07 L591.78,389.76 L591.74,388.45 L591.70,387.14 L591.67,385.83 L591.63,384.52 L591.60,383.21 L591.56,381.90 L591.53,380.59 L591.50,379.27 L591.47,377.96 L591.44,376.65 L591.40,375.34 L591.37,374.03 L591.34,372.72 L591.31,371.41 L591.28,370.10 L591.25,368.79 L591.22,367.48 L591.19,366.17 L591.16,364.86 L591.13,363.55 L591.10,362.24 L591.07,360.93 L591.03,359.62 L591.00,358.30 L590.97,356.99 L590.93,355.68 L590.90,354.37 L590.86,353.06 L590.83,351.75 L590.79,350.44 L590.75,349.13 L590.72,347.82 L590.68,346.51 L590.64,345.20 L590.60,343.89 L590.57,342.58 L590.53,341.27 L590.49,339.96 L590.45,338.65 L590.42,337.33 L590.38,336.02 L590.35,334.71 L590.31,333.40 L590.28,332.09 L590.24,330.78 L590.21,329.47 L590.18,328.16 L590.14,326.85" fill="none" stroke="#00ffff" stroke-width="2.6" stroke-linejoin="round"/>
<path d="M593.65,718.72 L594.05,717.41 L594.49,716.10 L594.96,714.79 L595.46,713.48 L596.00,712.17 L596.58,710.86 L597.20,709.55 L597.86,708.24 L598.56,706.93 L599.30,705.62 L600.09,704.31 L600.92,703.00 L601.79,701.69 L602.71,700.38 L603.67,699.07 L604.68,697.76 L605.73,696.44 L606.82,695.13 L607.96,693.82 L609.13,692.51 L610.35,691.20 L611.60,689.89 L612.89,688.58 L614.21,687.27 L615.57,685.96 L616.94,684.65 L618.35,683.34 L619.77,682.03 L621.21,680.72 L622.66,679.41 L624.11,678.10 L625.57,676.79 L627.03,675.47 L628.47,674.16 L629.91,672.85 L631.33,671.54 L632.72,670.23 L634.09,668.92 L635.42,667.61 L636.71,666.30 L637.96,664.99 L639.16,663.68 L640.30,662.37 L641.39,661.06 L642.41,659.75 L643.36,658.44 L644.25,657.13 L645.06,655.82 L645.79,654.50 L646.45,653.19 L647.02,651.88 L647.51,650.57 L647.91,649.26 L648.24,647.95 L648.47,646.64 L648.60,645.33 L648.59,644.02 L648.46,642.71 L648.19,641.40 L647.80,640.09 L647.30,638.78 L646.68,637.47 L645.95,636.16 L645.13,634.85 L644.22,633.53 L643.23,632.22 L642.17,630.91 L641.05,629.60 L639.87,628.29 L638.65,626.98 L637.39,625.67 L636.11,624.36 L634.82,623.05 L633.51,621.74 L632.21,620.43 L630.91,619.12 L629.63,617.81 L628.37,616.50 L627.13,615.19 L625.92,613.88 L624.75,612.56 L623.62,611.25 L622.52,609.94 L621.47,608.63 L620.45,607.32 L619.48,606.01 L618.56,604.70 L617.67,603.39 L616.83,602.08 L616.03,600.77 L615.27,599.46 L614.54,598.15 L613.85,596.84 L613.19,595.53 L612.55,594.22 L611.95,592.91 L611.37,591.59 L610.81,590.28 L610.28,588.97 L609.76,587.66 L609.25,586.35 L608.76,585.04 L608.29,583.73 L607.82,582.42 L607.37,581.11 L606.92,579.80 L606.48,578.49 L606.05,577.18 L605.62,575.87 L605.20,574.56 L604.78,573.25 L604.37,571.94 L603.97,570.63 L603.57,569.31 L603.17,568.00 L602.78,566.69 L602.40,565.38 L602.02,564.07 L601.65,562.76 L601.28,561.45 L600.91,560.14 L600.55,558.83 L600.20,557.52 L599.85,556.21 L599.51,554.90 L599.17,553.59 L598.84,552.28 L598.51,550.97 L598.19,549.66 L597.88,548.34 L597.57,547.03 L597.27,545.72 L596.97,544.41 L596.68,543.10 L596.40,541.79 L596.12,540.48 L595.84,539.17 L595.58,537.86 L595.32,536.55 L595.07,535.24 L594.82,533.93 L594.58,532.62 L594.35,531.31 L594.13,530.00 L593.91,528.69 L593.70,527.37 L593.50,526.06 L593.31,524.75 L593.13,523.44 L592.95,522.13 L592.78,520.82 L592.62,519.51 L592.47,518.20 L592.33,516.89 L592.19,515.58 L592.06,514.27 L591.94,512.96 L591.82,511.65 L591.72,510.34 L591.61,509.03 L591.52,507.72 L591.43,506.40 L591.35,505.09 L591.27,503.78 L591.19,502.47 L591.13,501.16 L591.06,499.85 L591.00,498.54 L590.94,497.23 L590.89,495.92 L590.84,494.61 L590.79,493.30 L590.74,491.99 L590.70,490.68 L590.65,489.37 L590.61,488.06 L590.57,486.75 L590.54,485.43 L590.50,484.12 L590.46,482.81 L590.43,481.50 L590.40,480.19 L590.36,478.88 L590.33,477.57 L590.30,476.26 L590.27,474.95 L590.24,473.64 L590.21,472.33 L590.18,471.02 L590.15,469.71 L590.13,468.40 L590.10,467.09 L590.07,465.78 L590.05,464.46 L590.02,463.15 L590.00,461.84 L589.98,460.53 L589.96,459.22 L589.93,457.91 L589.91,456.60 L589.89,455.29 L589.87,453.98 L589.86,452.67 L589.84,451.36 L589.82,450.05 L589.81,448.74 L589.79,447.43 L589.78,446.12 L589.76,444.81 L589.75,443.50 L589.74,442.18 L589.73,440.87 L589.72,439.56 L589.71,438.25 L589.70,436.94 L589.69,435.63 L589.68,434.32 L589.67,433.01 L589.67,431.70 L589.66,430.39 L589.66,429.08 L589.65,427.77 L589.65,426.46 L589.64,425.15 L589.64,423.84 L589.63,422.53 L589.63,421.21 L589.63,419.90 L589.62,418.59 L589.62,417.28 L589.62,415.97 L589.62,414.66 L589.61,413.35 L589.61,412.04 L589.61,410.73 L589.61,409.42 L589.61,408.11 L589.61,406.80 L589.61,405.49 L589.61,404.18 L589.61,402.87 L589.60,401.56 L589.60,400.24 L589.60,398.93 L589.60,397.62 L589.60,396.31 L589.60,395.00 L589.60,393.69 L589.60,392.38 L589.60,391.07 L589.60,389.76 L589.60,388.45 L589.60,387.14 L589.60,385.83 L589.60,384.52 L589.60,383.21 L589.60,381.90 L589.60,380.59 L589.60,379.27 L589.60,377.96 L589.60,376.65 L589.60,375.34 L589.60,374.03 L589.60,372.72 L589.60,371.41 L589.60,370.10 L589.60,368.79 L589.60,367.48 L589.60,366.17 L589.60,364.86 L589.60,363.55 L589.60,362.24 L589.60,360.93 L589.60,359.62 L589.60,358.30 L589.60,356.99 L589.60,355.68 L589.60,354.37 L589.60,353.06 L589.60,351.75 L589.60,350.44 L589.60,349.13 L589.60,347.82 L589.60,346.51 L589.60,345.20 L589.60,343.89 L589.60,342.58 L589.60,341.27 L589.60,339.96 L589.60,338.65 L589.60,337.33 L589.60,336.02 L589.60,334.71 L589.60,333.40 L589.60,332.09 L589.60,330.78 L589.60,329.47 L589.60,328.16 L589.60,326.85" fill="none" stroke="#ff00ff" stroke-width="2.6" stroke-linejoin="round"/>
<rect x="52.7" y="300.2" width="631.5999999999999" height="446.00000000000006" fill="none" stroke="#1a1a1a" stroke-width="1.4"/>
<line x1="481.8" y1="300.2" x2="481.8" y2="746.2" stroke="#111" stroke-width="1.5"/>
<rect x="539.7" y="308" width="137.79999999999995" height="143" fill="#fff" fill-opacity="0.8" stroke="#444" stroke-width="1.2"/>
<line x1="547.9000000000001" y1="320" x2="582.2" y2="320" stroke="#d2d2d2" stroke-width="2.6"/>
<text x="588.7" y="325.3" font-size="16" fill="#2a3f5f">Total</text>
<line x1="547.9000000000001" y1="344.2" x2="582.2" y2="344.2" stroke="#0000ff" stroke-width="2.6"/>
<text x="588.7" y="349.5" font-size="16" fill="#2a3f5f">[0º, 30º)</text>
<line x1="547.9000000000001" y1="368.4" x2="582.2" y2="368.4" stroke="#ff0000" stroke-width="2.6"/>
<text x="588.7" y="373.7" font-size="16" fill="#2a3f5f">[30º, 60º)</text>
<line x1="547.9000000000001" y1="392.6" x2="582.2" y2="392.6" stroke="#008000" stroke-width="2.6"/>
<text x="588.7" y="397.90000000000003" font-size="16" fill="#2a3f5f">[60º, 180º]</text>
<line x1="547.9000000000001" y1="416.8" x2="582.2" y2="416.8" stroke="#00ffff" stroke-width="2.6"/>
<text x="588.7" y="422.1" font-size="16" fill="#2a3f5f">4-7 atoms</text>
<line x1="547.9000000000001" y1="441" x2="582.2" y2="441" stroke="#ff00ff" stroke-width="2.6"/>
<text x="588.7" y="446.3" font-size="16" fill="#2a3f5f">8-30 atoms</text>
<text x="1.2" y="834" font-size="25.6" textLength="18.4" lengthAdjust="spacingAndGlyphs" fill="#000">c)</text>
<rect x="52.4" y="817.2" width="429.6" height="33.89999999999998" fill="url(#cb)" stroke="#444" stroke-width="1.3"/>
<text transform="translate(52.3,869.2) scale(1,1.08)" font-size="15.6" fill="#2a3f5f" text-anchor="start">0</text>
<text transform="translate(124.0,869.2) scale(1,1.08)" font-size="15.6" fill="#2a3f5f" text-anchor="middle">30</text>
<text transform="translate(195.6,869.2) scale(1,1.08)" font-size="15.6" fill="#2a3f5f" text-anchor="middle">60</text>
<text transform="translate(267.2,869.2) scale(1,1.08)" font-size="15.6" fill="#2a3f5f" text-anchor="middle">90</text>
<text transform="translate(338.8,869.2) scale(1,1.08)" font-size="15.6" fill="#2a3f5f" text-anchor="middle">120</text>
<text transform="translate(410.4,869.2) scale(1,1.08)" font-size="15.6" fill="#2a3f5f" text-anchor="middle">150</text>
<text transform="translate(481.5,869.2) scale(1,1.08)" font-size="15.6" fill="#2a3f5f" text-anchor="end">180</text>
<text transform="translate(486.2,828.8) scale(1,1.03)" font-size="19.7" fill="#2a3f5f">Rotation angle (θ<tspan font-size="18" dy="3">t</tspan><tspan dy="-3">)</tspan></text>
<rect x="52.7" y="881.3" width="429.1" height="446.0" fill="#f2f2f2"/>
<line x1="97.4" y1="881.3" x2="97.4" y2="1327.3" stroke="#d6d6d6" stroke-width="1.3"/>
<text transform="translate(97.4,1347.3999999999999) scale(1,1.08)" font-size="15.6" fill="#2a3f5f" text-anchor="middle">2</text>
<line x1="200.7" y1="881.3" x2="200.7" y2="1327.3" stroke="#d6d6d6" stroke-width="1.3"/>
<text transform="translate(200.7,1347.3999999999999) scale(1,1.08)" font-size="15.6" fill="#2a3f5f" text-anchor="middle">2.5</text>
<line x1="304.0" y1="881.3" x2="304.0" y2="1327.3" stroke="#d6d6d6" stroke-width="1.3"/>
<text transform="translate(304.0,1347.3999999999999) scale(1,1.08)" font-size="15.6" fill="#2a3f5f" text-anchor="middle">3</text>
<line x1="407.29999999999995" y1="881.3" x2="407.29999999999995" y2="1327.3" stroke="#d6d6d6" stroke-width="1.3"/>
<text transform="translate(407.29999999999995,1347.3999999999999) scale(1,1.08)" font-size="15.6" fill="#2a3f5f" text-anchor="middle">3.5</text>
<line x1="52.7" y1="1300.5" x2="481.8" y2="1300.5" stroke="#d6d6d6" stroke-width="1.3"/>
<text transform="translate(48.5,1306.2) scale(1,1.08)" font-size="15.6" fill="#2a3f5f" text-anchor="end">0</text>
<line x1="52.7" y1="1243.186" x2="481.8" y2="1243.186" stroke="#d6d6d6" stroke-width="1.3"/>
<text transform="translate(48.5,1248.886) scale(1,1.08)" font-size="15.6" fill="#2a3f5f" text-anchor="end">20</text>
<line x1="52.7" y1="1185.872" x2="481.8" y2="1185.872" stroke="#d6d6d6" stroke-width="1.3"/>
<text transform="translate(48.5,1191.5720000000001) scale(1,1.08)" font-size="15.6" fill="#2a3f5f" text-anchor="end">40</text>
<line x1="52.7" y1="1128.558" x2="481.8" y2="1128.558" stroke="#d6d6d6" stroke-width="1.3"/>
<text transform="translate(48.5,1134.258) scale(1,1.08)" font-size="15.6" fill="#2a3f5f" text-anchor="end">60</text>
<line x1="52.7" y1="1071.244" x2="481.8" y2="1071.244" stroke="#d6d6d6" stroke-width="1.3"/>
<text transform="translate(48.5,1076.944) scale(1,1.08)" font-size="15.6" fill="#2a3f5f" text-anchor="end">80</text>
<line x1="52.7" y1="1013.9300000000001" x2="481.8" y2="1013.9300000000001" stroke="#d6d6d6" stroke-width="1.3"/>
<text transform="translate(48.5,1019.6300000000001) scale(1,1.08)" font-size="15.6" fill="#2a3f5f" text-anchor="end">100</text>
<line x1="52.7" y1="956.616" x2="481.8" y2="956.616" stroke="#d6d6d6" stroke-width="1.3"/>
<text transform="translate(48.5,962.316) scale(1,1.08)" font-size="15.6" fill="#2a3f5f" text-anchor="end">120</text>
<line x1="52.7" y1="899.302" x2="481.8" y2="899.302" stroke="#d6d6d6" stroke-width="1.3"/>
<text transform="translate(48.5,905.0020000000001) scale(1,1.08)" font-size="15.6" fill="#2a3f5f" text-anchor="end">140</text>
<line x1="52.7" y1="1300.5" x2="481.8" y2="1300.5" stroke="#fff" stroke-width="2.6"/>
<text transform="translate(266.8,1371.1) scale(1,1.03)" font-size="19.7" fill="#2a3f5f" text-anchor="middle">Z Separation (Å)</text>
<text transform="translate(15.7,1104.3) rotate(-90) scale(1,1.03)" font-size="19.7" fill="#2a3f5f" text-anchor="middle">Sliding Energy (eV)</text>
<text transform="translate(582.3,1347.3) scale(1,1.03)" font-size="19.7" fill="#2a3f5f" text-anchor="middle">Density</text>
<circle cx="322.0" cy="1299.9" r="3.65" fill="#00ff00"/>
<circle cx="325.3" cy="1299.9" r="3.65" fill="#00ff00"/>
<circle cx="328.6" cy="1299.9" r="3.65" fill="#00ff00"/>
<circle cx="331.9" cy="1299.9" r="3.65" fill="#00ff00"/>
<circle cx="335.2" cy="1299.9" r="3.65" fill="#00ff00"/>
<circle cx="338.5" cy="1299.9" r="3.65" fill="#00ff00"/>
<circle cx="341.8" cy="1299.9" r="3.65" fill="#00ff00"/>
<circle cx="345.1" cy="1299.9" r="3.65" fill="#00ff00"/>
<circle cx="348.4" cy="1299.9" r="3.65" fill="#00ff00"/>
<circle cx="351.7" cy="1299.9" r="3.65" fill="#00ff00"/>
<circle cx="355.0" cy="1299.9" r="3.65" fill="#00ff00"/>
<circle cx="358.3" cy="1299.9" r="3.65" fill="#00ff00"/>
<circle cx="361.6" cy="1299.9" r="3.65" fill="#00ff00"/>
<circle cx="364.9" cy="1299.9" r="3.65" fill="#00ff00"/>
<circle cx="368.2" cy="1299.9" r="3.65" fill="#00ff00"/>
<circle cx="371.5" cy="1299.9" r="3.65" fill="#00ff00"/>
<circle cx="374.8" cy="1299.9" r="3.65" fill="#00ff00"/>
<circle cx="378.1" cy="1299.9" r="3.65" fill="#00ff00"/>
<circle cx="381.4" cy="1299.9" r="3.65" fill="#00ff00"/>
<circle cx="384.7" cy="1299.9" r="3.65" fill="#00ff00"/>
<circle cx="388.0" cy="1299.9" r="3.65" fill="#00ff00"/>
<circle cx="391.3" cy="1299.9" r="3.65" fill="#00ff00"/>
<circle cx="394.6" cy="1299.9" r="3.65" fill="#00ff00"/>
<circle cx="397.9" cy="1299.9" r="3.65" fill="#00ff00"/>
<circle cx="401.2" cy="1299.9" r="3.65" fill="#00ff00"/>
<circle cx="404.5" cy="1299.9" r="3.65" fill="#00ff00"/>
<circle cx="407.8" cy="1299.9" r="3.65" fill="#00ff00"/>
<circle cx="411.1" cy="1299.9" r="3.65" fill="#00ff00"/>
<circle cx="414.4" cy="1299.9" r="3.65" fill="#00ff00"/>
<circle cx="417.7" cy="1299.9" r="3.65" fill="#00ff00"/>
<circle cx="421.0" cy="1299.9" r="3.65" fill="#00ff00"/>
<circle cx="424.3" cy="1299.9" r="3.65" fill="#00ff00"/>
<circle cx="427.6" cy="1299.9" r="3.65" fill="#00ff00"/>
<circle cx="430.9" cy="1299.9" r="3.65" fill="#00ff00"/>
<circle cx="434.2" cy="1299.9" r="3.65" fill="#00ff00"/>
<circle cx="437.5" cy="1299.9" r="3.65" fill="#00ff00"/>
<circle cx="440.8" cy="1299.9" r="3.65" fill="#00ff00"/>
<circle cx="444.1" cy="1299.9" r="3.65" fill="#00ff00"/>
<circle cx="252.0" cy="1299.9" r="3.65" fill="#00ff00"/>
<circle cx="258.5" cy="1299.9" r="3.65" fill="#00ff00"/>
<circle cx="265.0" cy="1299.9" r="3.65" fill="#00ff00"/>
<circle cx="271.5" cy="1299.9" r="3.65" fill="#00ff00"/>
<circle cx="278.0" cy="1299.9" r="3.65" fill="#00ff00"/>
<circle cx="284.5" cy="1299.9" r="3.65" fill="#00ff00"/>
<circle cx="291.0" cy="1299.9" r="3.65" fill="#00ff00"/>
<circle cx="297.5" cy="1299.9" r="3.65" fill="#00ff00"/>
<circle cx="304.0" cy="1299.9" r="3.65" fill="#00ff00"/>
<circle cx="310.5" cy="1299.9" r="3.65" fill="#00ff00"/>
<circle cx="317.0" cy="1299.9" r="3.65" fill="#00ff00"/>
<circle cx="278.3" cy="1232.1" r="3.65" fill="#ff0000"/>
<circle cx="324.0" cy="1217.6" r="3.65" fill="#00ffff"/>
<circle cx="311.6" cy="1237.2" r="3.65" fill="#00ffff"/>
<circle cx="320.7" cy="1244.5" r="3.65" fill="#00ffff"/>
<circle cx="304.6" cy="1229.1" r="3.65" fill="#ff0000"/>
<circle cx="328.5" cy="1238.4" r="3.65" fill="#00ffff"/>
<circle cx="297.1" cy="1242.9" r="3.65" fill="#ff0000"/>
<circle cx="337.4" cy="1234.0" r="3.65" fill="#00ffff"/>
<circle cx="294.7" cy="1251.9" r="3.65" fill="#00ffff"/>
<circle cx="312.6" cy="1234.0" r="3.65" fill="#00ffff"/>
<circle cx="290.7" cy="1233.8" r="3.65" fill="#00ffff"/>
<circle cx="295.0" cy="1251.7" r="3.65" fill="#ff0000"/>
<circle cx="299.0" cy="1238.7" r="3.65" fill="#ff0000"/>
<circle cx="298.1" cy="1232.0" r="3.65" fill="#00ffff"/>
<circle cx="315.2" cy="1235.4" r="3.65" fill="#00ffff"/>
<circle cx="315.6" cy="1236.3" r="3.65" fill="#ff0000"/>
<circle cx="315.1" cy="1237.2" r="3.65" fill="#ff0000"/>
<circle cx="309.2" cy="1240.3" r="3.65" fill="#ff0000"/>
<circle cx="303.3" cy="1251.7" r="3.65" fill="#00ffff"/>
<circle cx="338.4" cy="1256.4" r="3.65" fill="#00ffff"/>
<circle cx="317.3" cy="1229.7" r="3.65" fill="#00ffff"/>
<circle cx="314.1" cy="1241.4" r="3.65" fill="#00ffff"/>
<circle cx="292.3" cy="1227.2" r="3.65" fill="#ff0000"/>
<circle cx="306.7" cy="1240.4" r="3.65" fill="#ff0000"/>
<circle cx="344.6" cy="1234.5" r="3.65" fill="#00ffff"/>
<circle cx="298.6" cy="1244.4" r="3.65" fill="#00ffff"/>
<circle cx="289.6" cy="1241.5" r="3.65" fill="#ff0000"/>
<circle cx="303.3" cy="1239.9" r="3.65" fill="#ff0000"/>
<circle cx="289.3" cy="1228.7" r="3.65" fill="#00ffff"/>
<circle cx="313.1" cy="1243.9" r="3.65" fill="#00ffff"/>
<circle cx="339.0" cy="1256.6" r="3.65" fill="#00ffff"/>
<circle cx="326.1" cy="1241.8" r="3.65" fill="#ff0000"/>
<circle cx="271.4" cy="1225.9" r="3.65" fill="#00ffff"/>
<circle cx="318.8" cy="1255.7" r="3.65" fill="#00ffff"/>
<circle cx="332.1" cy="1239.4" r="3.65" fill="#ff0000"/>
<circle cx="300.6" cy="1242.5" r="3.65" fill="#00ffff"/>
<circle cx="299.2" cy="1241.5" r="3.65" fill="#00ffff"/>
<circle cx="284.0" cy="1245.0" r="3.65" fill="#00ffff"/>
<circle cx="300.7" cy="1232.0" r="3.65" fill="#00ffff"/>
<circle cx="327.3" cy="1225.0" r="3.65" fill="#ff0000"/>
<circle cx="300.6" cy="1221.5" r="3.65" fill="#ff0000"/>
<circle cx="291.7" cy="1253.9" r="3.65" fill="#00ffff"/>
<circle cx="332.1" cy="1237.1" r="3.65" fill="#00ffff"/>
<circle cx="318.8" cy="1248.9" r="3.65" fill="#ff0000"/>
<circle cx="327.5" cy="1241.5" r="3.65" fill="#00ffff"/>
<circle cx="321.3" cy="1239.3" r="3.65" fill="#00ffff"/>
<circle cx="287.9" cy="1227.4" r="3.65" fill="#ff0000"/>
<circle cx="309.2" cy="1242.2" r="3.65" fill="#ff0000"/>
<circle cx="296.6" cy="1226.0" r="3.65" fill="#00ffff"/>
<circle cx="289.2" cy="1240.5" r="3.65" fill="#00ffff"/>
<circle cx="294.3" cy="1238.0" r="3.65" fill="#ff0000"/>
<circle cx="343.0" cy="1239.2" r="3.65" fill="#00ffff"/>
<circle cx="295.5" cy="1237.8" r="3.65" fill="#ff0000"/>
<circle cx="309.3" cy="1256.3" r="3.65" fill="#ff0000"/>
<circle cx="269.3" cy="1232.9" r="3.65" fill="#00ffff"/>
<circle cx="277.3" cy="1216.1" r="3.65" fill="#ff0000"/>
<circle cx="348.6" cy="1254.1" r="3.65" fill="#ff0000"/>
<circle cx="315.1" cy="1246.0" r="3.65" fill="#00ffff"/>
<circle cx="301.3" cy="1237.6" r="3.65" fill="#00ffff"/>
<circle cx="297.9" cy="1239.3" r="3.65" fill="#ff0000"/>
<circle cx="339.7" cy="1246.7" r="3.65" fill="#ff0000"/>
<circle cx="304.8" cy="1255.9" r="3.65" fill="#ff0000"/>
<circle cx="332.4" cy="1243.6" r="3.65" fill="#ff0000"/>
<circle cx="319.2" cy="1240.1" r="3.65" fill="#ff0000"/>
<circle cx="279.0" cy="1238.3" r="3.65" fill="#00ffff"/>
<circle cx="319.6" cy="1242.8" r="3.65" fill="#00ffff"/>
<circle cx="297.9" cy="1228.7" r="3.65" fill="#ff0000"/>
<circle cx="313.8" cy="1254.7" r="3.65" fill="#ff0000"/>
<circle cx="294.8" cy="1237.0" r="3.65" fill="#00ffff"/>
<circle cx="320.3" cy="1240.1" r="3.65" fill="#00ffff"/>
<circle cx="339.0" cy="1253.2" r="3.65" fill="#00ffff"/>
<circle cx="304.3" cy="1240.2" r="3.65" fill="#00ffff"/>
<circle cx="336.6" cy="1237.6" r="3.65" fill="#00ffff"/>
<circle cx="300.9" cy="1240.7" r="3.65" fill="#ff0000"/>
<circle cx="319.7" cy="1246.1" r="3.65" fill="#ff0000"/>
<circle cx="294.2" cy="1231.0" r="3.65" fill="#00ffff"/>
<circle cx="322.3" cy="1233.8" r="3.65" fill="#ff0000"/>
<circle cx="331.7" cy="1250.7" r="3.65" fill="#00ffff"/>
<circle cx="300.8" cy="1241.5" r="3.65" fill="#00ffff"/>
<circle cx="334.7" cy="1234.2" r="3.65" fill="#ff0000"/>
<circle cx="312.9" cy="1236.5" r="3.65" fill="#ff0000"/>
<circle cx="309.7" cy="1233.3" r="3.65" fill="#00ffff"/>
<circle cx="296.0" cy="1254.2" r="3.65" fill="#ff0000"/>
<circle cx="279.4" cy="1249.7" r="3.65" fill="#00ffff"/>
<circle cx="308.3" cy="1248.1" r="3.65" fill="#ff0000"/>
<circle cx="316.8" cy="1249.4" r="3.65" fill="#00ffff"/>
<circle cx="318.9" cy="1236.8" r="3.65" fill="#00ffff"/>
<circle cx="322.2" cy="1248.3" r="3.65" fill="#ff0000"/>
<circle cx="305.5" cy="1240.8" r="3.65" fill="#00ffff"/>
<circle cx="332.4" cy="1244.8" r="3.65" fill="#00ffff"/>
<circle cx="336.1" cy="1257.7" r="3.65" fill="#00ffff"/>
<circle cx="313.2" cy="1242.2" r="3.65" fill="#ff0000"/>
<circle cx="315.3" cy="1226.1" r="3.65" fill="#00ffff"/>
<circle cx="337.0" cy="1244.0" r="3.65" fill="#ff0000"/>
<circle cx="284.4" cy="1225.4" r="3.65" fill="#00ffff"/>
<circle cx="324.4" cy="1241.7" r="3.65" fill="#00ffff"/>
<circle cx="345.4" cy="1229.9" r="3.65" fill="#ff0000"/>
<circle cx="318.9" cy="1240.9" r="3.65" fill="#ff0000"/>
<circle cx="316.2" cy="1255.0" r="3.65" fill="#ff0000"/>
<circle cx="313.6" cy="1243.7" r="3.65" fill="#ff0000"/>
<circle cx="278.2" cy="1250.4" r="3.65" fill="#00ffff"/>
<circle cx="341.7" cy="1241.5" r="3.65" fill="#ff0000"/>
<circle cx="291.0" cy="1224.0" r="3.65" fill="#ff0000"/>
<circle cx="330.4" cy="1231.2" r="3.65" fill="#00ffff"/>
<circle cx="338.5" cy="1234.0" r="3.65" fill="#ff0000"/>
<circle cx="305.8" cy="1250.9" r="3.65" fill="#00ffff"/>
<circle cx="282.0" cy="1235.4" r="3.65" fill="#ff0000"/>
<circle cx="348.4" cy="1245.5" r="3.65" fill="#ff0000"/>
<circle cx="316.9" cy="1244.2" r="3.65" fill="#00ffff"/>
<circle cx="316.1" cy="1224.2" r="3.65" fill="#00ffff"/>
<circle cx="313.2" cy="908.4" r="3.65" fill="#ff0000"/>
<circle cx="207.4" cy="955.4" r="3.65" fill="#00ffff"/>
<circle cx="157.5" cy="1031.4" r="3.65" fill="#000000"/>
<circle cx="124.0" cy="1087.9" r="3.65" fill="#ff0000"/>
<circle cx="174.3" cy="1092.8" r="3.65" fill="#00ffff"/>
<circle cx="131.1" cy="1103.4" r="3.65" fill="#00ffff"/>
<circle cx="170.0" cy="1107.5" r="3.65" fill="#ff0000"/>
<circle cx="175.9" cy="1107.3" r="3.65" fill="#00ffff"/>
<circle cx="155.1" cy="1123.8" r="3.65" fill="#00ffff"/>
<circle cx="144.6" cy="1137.3" r="3.65" fill="#00ffff"/>
<circle cx="222.3" cy="1033.1" r="3.65" fill="#ff0000"/>
<circle cx="204.3" cy="1042.7" r="3.65" fill="#00ffff"/>
<circle cx="216.2" cy="1048.4" r="3.65" fill="#00ffff"/>
<circle cx="199.6" cy="1063.1" r="3.65" fill="#00ffff"/>
<circle cx="245.4" cy="1085.8" r="3.65" fill="#00ffff"/>
<circle cx="230.7" cy="1099.7" r="3.65" fill="#00ffff"/>
<circle cx="253.8" cy="1099.7" r="3.65" fill="#00ffff"/>
<circle cx="258.7" cy="1101.8" r="3.65" fill="#ff0000"/>
<circle cx="219.2" cy="1112.0" r="3.65" fill="#ff0000"/>
<circle cx="221.1" cy="1113.4" r="3.65" fill="#00ffff"/>
<circle cx="241.5" cy="1115.0" r="3.65" fill="#00ffff"/>
<circle cx="241.9" cy="1110.7" r="3.65" fill="#000000"/>
<circle cx="248.0" cy="1122.2" r="3.65" fill="#000000"/>
<circle cx="201.4" cy="1123.2" r="3.65" fill="#ff0000"/>
<circle cx="208.4" cy="1130.8" r="3.65" fill="#00ffff"/>
<circle cx="225.8" cy="1133.4" r="3.65" fill="#00ffff"/>
<circle cx="226.8" cy="1138.1" r="3.65" fill="#00ffff"/>
<circle cx="227.0" cy="1130.4" r="3.65" fill="#ff0000"/>
<circle cx="259.5" cy="1132.8" r="3.65" fill="#00ffff"/>
<circle cx="257.9" cy="1137.5" r="3.65" fill="#ff0000"/>
<circle cx="261.3" cy="1138.1" r="3.65" fill="#ff0000"/>
<circle cx="288.3" cy="1138.1" r="3.65" fill="#ff0000"/>
<circle cx="336.7" cy="1030.6" r="3.65" fill="#00ff55"/>
<circle cx="165.9" cy="1162.3" r="3.65" fill="#00ffff"/>
<circle cx="138.5" cy="1165.3" r="3.65" fill="#00ffff"/>
<circle cx="156.5" cy="1167.4" r="3.65" fill="#00ffff"/>
<circle cx="89.9" cy="1184.8" r="3.65" fill="#00ffff"/>
<circle cx="155.7" cy="1183.7" r="3.65" fill="#00ffff"/>
<circle cx="163.6" cy="1188.2" r="3.65" fill="#ffd000"/>
<circle cx="84.7" cy="1210.1" r="3.65" fill="#00ffff"/>
<circle cx="149.3" cy="1210.1" r="3.65" fill="#ff0000"/>
<circle cx="179.2" cy="1214.6" r="3.65" fill="#00ffff"/>
<circle cx="163.6" cy="1224.0" r="3.65" fill="#00ffff"/>
<circle cx="155.9" cy="1230.3" r="3.65" fill="#00ffff"/>
<circle cx="158.7" cy="1228.3" r="3.65" fill="#ff0000"/>
<circle cx="171.0" cy="1229.3" r="3.65" fill="#00ffff"/>
<circle cx="171.8" cy="1232.0" r="3.65" fill="#000000"/>
<circle cx="169.6" cy="1237.3" r="3.65" fill="#000000"/>
<circle cx="110.5" cy="1237.5" r="3.65" fill="#ff0000"/>
<circle cx="164.5" cy="1243.6" r="3.65" fill="#00ffff"/>
<circle cx="153.8" cy="1247.7" r="3.65" fill="#ff0000"/>
<circle cx="136.2" cy="1264.1" r="3.65" fill="#ff0000"/>
<circle cx="212.0" cy="1142.6" r="3.65" fill="#00ffff"/>
<circle cx="226.8" cy="1140.0" r="3.65" fill="#00ffff"/>
<circle cx="231.6" cy="1144.3" r="3.65" fill="#ff0000"/>
<circle cx="248.0" cy="1146.4" r="3.65" fill="#ff0000"/>
<circle cx="196.3" cy="1153.4" r="3.65" fill="#00ffff"/>
<circle cx="209.4" cy="1155.3" r="3.65" fill="#00ffff"/>
<circle cx="260.9" cy="1153.1" r="3.65" fill="#00ffff"/>
<circle cx="263.0" cy="1156.9" r="3.65" fill="#00ffff"/>
<circle cx="239.1" cy="1160.1" r="3.65" fill="#00ffff"/>
<circle cx="244.7" cy="1162.8" r="3.65" fill="#00ffff"/>
<circle cx="250.5" cy="1165.7" r="3.65" fill="#ff0000"/>
<circle cx="256.6" cy="1167.2" r="3.65" fill="#ff0000"/>
<circle cx="261.4" cy="1166.3" r="3.65" fill="#00ffff"/>
<circle cx="269.4" cy="1160.4" r="3.65" fill="#00ffff"/>
<circle cx="235.5" cy="1172.7" r="3.65" fill="#ff0000"/>
<circle cx="239.6" cy="1170.9" r="3.65" fill="#00ffff"/>
<circle cx="239.1" cy="1167.7" r="3.65" fill="#ff0000"/>
<circle cx="226.6" cy="1177.1" r="3.65" fill="#00ffff"/>
<circle cx="243.7" cy="1179.1" r="3.65" fill="#ff0000"/>
<circle cx="245.4" cy="1177.1" r="3.65" fill="#00ffff"/>
<circle cx="247.2" cy="1182.6" r="3.65" fill="#ff0000"/>
<circle cx="234.4" cy="1185.0" r="3.65" fill="#00ffff"/>
<circle cx="231.7" cy="1186.1" r="3.65" fill="#ff0000"/>
<circle cx="240.2" cy="1186.7" r="3.65" fill="#ff0000"/>
<circle cx="249.0" cy="1189.1" r="3.65" fill="#ff0000"/>
<circle cx="254.2" cy="1192.6" r="3.65" fill="#ff0000"/>
<circle cx="260.1" cy="1192.0" r="3.65" fill="#ff0000"/>
<circle cx="264.2" cy="1191.4" r="3.65" fill="#ff0000"/>
<circle cx="267.1" cy="1194.9" r="3.65" fill="#ff0000"/>
<circle cx="237.3" cy="1192.9" r="3.65" fill="#00ffff"/>
<circle cx="229.2" cy="1196.9" r="3.65" fill="#ff0000"/>
<circle cx="268.8" cy="1179.7" r="3.65" fill="#ff0000"/>
<circle cx="269.4" cy="1185.0" r="3.65" fill="#00ffff"/>
<circle cx="200.4" cy="1205.1" r="3.65" fill="#ff0000"/>
<circle cx="220.1" cy="1207.4" r="3.65" fill="#ff0000"/>
<circle cx="244.9" cy="1202.5" r="3.65" fill="#ff0000"/>
<circle cx="247.8" cy="1201.9" r="3.65" fill="#00ffff"/>
<circle cx="250.4" cy="1199.9" r="3.65" fill="#ff0000"/>
<circle cx="254.2" cy="1200.4" r="3.65" fill="#00ffff"/>
<circle cx="265.3" cy="1201.9" r="3.65" fill="#00ffff"/>
<circle cx="244.9" cy="1208.9" r="3.65" fill="#00ffff"/>
<circle cx="264.7" cy="1208.3" r="3.65" fill="#ff0000"/>
<circle cx="252.2" cy="1211.6" r="3.65" fill="#00ffff"/>
<circle cx="265.9" cy="1214.7" r="3.65" fill="#ff0000"/>
<circle cx="255.4" cy="1216.5" r="3.65" fill="#00ffff"/>
<circle cx="206.4" cy="1218.8" r="3.65" fill="#ff0000"/>
<circle cx="276.4" cy="1149.1" r="3.65" fill="#00ffff"/>
<circle cx="279.6" cy="1157.3" r="3.65" fill="#000000"/>
<circle cx="270.9" cy="1163.9" r="3.65" fill="#000000"/>
<circle cx="271.2" cy="1161.0" r="3.65" fill="#00ffff"/>
<circle cx="273.5" cy="1169.4" r="3.65" fill="#00ffff"/>
<circle cx="327.2" cy="1170.0" r="3.65" fill="#ff0000"/>
<circle cx="270.0" cy="1179.1" r="3.65" fill="#ff0000"/>
<circle cx="284.4" cy="1179.7" r="3.65" fill="#00ffff"/>
<circle cx="289.6" cy="1182.3" r="3.65" fill="#ff0000"/>
<circle cx="302.8" cy="1184.1" r="3.65" fill="#ff0000"/>
<circle cx="275.3" cy="1184.4" r="3.65" fill="#ff0000"/>
<circle cx="292.2" cy="1187.9" r="3.65" fill="#ff0000"/>
<circle cx="272.3" cy="1189.6" r="3.65" fill="#ff0000"/>
<circle cx="281.1" cy="1190.2" r="3.65" fill="#00ffff"/>
<circle cx="271.2" cy="1184.4" r="3.65" fill="#00ffff"/>
<circle cx="307.7" cy="1191.0" r="3.65" fill="#00ffff"/>
<circle cx="317.3" cy="1193.4" r="3.65" fill="#ff0000"/>
<circle cx="291.0" cy="1197.2" r="3.65" fill="#00ffff"/>
<circle cx="296.6" cy="1197.8" r="3.65" fill="#00ffff"/>
<circle cx="293.9" cy="1195.1" r="3.65" fill="#000000"/>
<circle cx="282.5" cy="1196.9" r="3.65" fill="#00ffff"/>
<circle cx="334.9" cy="1200.4" r="3.65" fill="#000000"/>
<circle cx="290.7" cy="1202.5" r="3.65" fill="#ff0000"/>
<circle cx="273.5" cy="1201.3" r="3.65" fill="#ff0000"/>
<circle cx="272.3" cy="1206.6" r="3.65" fill="#00ffff"/>
<circle cx="277.6" cy="1206.0" r="3.65" fill="#00ffff"/>
<circle cx="284.0" cy="1206.3" r="3.65" fill="#00ffff"/>
<circle cx="304.8" cy="1205.4" r="3.65" fill="#00ffff"/>
<circle cx="298.6" cy="1207.4" r="3.65" fill="#ff0000"/>
<circle cx="301.8" cy="1206.0" r="3.65" fill="#ff0000"/>
<circle cx="325.5" cy="1205.8" r="3.65" fill="#00ffff"/>
<circle cx="312.7" cy="1208.9" r="3.65" fill="#ff0000"/>
<circle cx="310.9" cy="1211.2" r="3.65" fill="#00ffff"/>
<circle cx="318.5" cy="1212.1" r="3.65" fill="#00ffff"/>
<circle cx="282.8" cy="1211.2" r="3.65" fill="#ff0000"/>
<circle cx="287.3" cy="1214.7" r="3.65" fill="#00ffff"/>
<circle cx="299.8" cy="1210.1" r="3.65" fill="#00ffff"/>
<circle cx="303.3" cy="1212.4" r="3.65" fill="#000000"/>
<circle cx="325.5" cy="1214.7" r="3.65" fill="#ff0000"/>
<circle cx="342.5" cy="1212.9" r="3.65" fill="#ff0000"/>
<circle cx="315.0" cy="1216.5" r="3.65" fill="#ff0000"/>
<circle cx="298.0" cy="1218.2" r="3.65" fill="#ff0000"/>
<circle cx="302.1" cy="1218.8" r="3.65" fill="#ff0000"/>
<circle cx="284.6" cy="1218.2" r="3.65" fill="#ff0000"/>
<circle cx="330.7" cy="1219.4" r="3.65" fill="#00ffff"/>
<circle cx="337.2" cy="1220.0" r="3.65" fill="#00ffff"/>
<circle cx="320.2" cy="1218.8" r="3.65" fill="#ff0000"/>
<circle cx="310.9" cy="1220.0" r="3.65" fill="#00ffff"/>
<circle cx="356.7" cy="1216.5" r="3.65" fill="#ff0000"/>
<circle cx="355.8" cy="1219.4" r="3.65" fill="#00ffff"/>
<circle cx="206.4" cy="1220.6" r="3.65" fill="#ff0000"/>
<circle cx="207.8" cy="1226.1" r="3.65" fill="#ff0000"/>
<circle cx="248.6" cy="1222.9" r="3.65" fill="#00ffff"/>
<circle cx="254.8" cy="1221.8" r="3.65" fill="#ff0000"/>
<circle cx="258.3" cy="1220.6" r="3.65" fill="#ff0000"/>
<circle cx="257.7" cy="1231.4" r="3.65" fill="#ff0000"/>
<circle cx="262.4" cy="1230.3" r="3.65" fill="#ff0000"/>
<circle cx="269.4" cy="1227.6" r="3.65" fill="#ff0000"/>
<circle cx="247.0" cy="1235.2" r="3.65" fill="#000000"/>
<circle cx="194.3" cy="1239.6" r="3.65" fill="#00ffff"/>
<circle cx="256.0" cy="1239.5" r="3.65" fill="#00ffff"/>
<circle cx="262.4" cy="1236.4" r="3.65" fill="#00ffff"/>
<circle cx="267.1" cy="1235.2" r="3.65" fill="#00ffff"/>
<circle cx="263.0" cy="1240.4" r="3.65" fill="#00ffff"/>
<circle cx="267.7" cy="1239.3" r="3.65" fill="#00ffff"/>
<circle cx="203.1" cy="1253.5" r="3.65" fill="#ff0000"/>
<circle cx="224.1" cy="1250.0" r="3.65" fill="#00ffff"/>
<circle cx="210.4" cy="1261.1" r="3.65" fill="#00ffff"/>
<circle cx="242.9" cy="1254.7" r="3.65" fill="#000000"/>
<circle cx="246.9" cy="1253.9" r="3.65" fill="#00ffff"/>
<circle cx="252.2" cy="1253.1" r="3.65" fill="#00ffff"/>
<circle cx="259.5" cy="1248.6" r="3.65" fill="#ff0000"/>
<circle cx="259.7" cy="1246.3" r="3.65" fill="#00ffff"/>
<circle cx="267.1" cy="1249.2" r="3.65" fill="#ff0000"/>
<circle cx="267.4" cy="1246.6" r="3.65" fill="#00ffff"/>
<circle cx="259.1" cy="1256.8" r="3.65" fill="#ff0000"/>
<circle cx="258.0" cy="1259.1" r="3.65" fill="#00ffff"/>
<circle cx="267.7" cy="1257.1" r="3.65" fill="#ff0000"/>
<circle cx="248.5" cy="1262.4" r="3.65" fill="#ff0000"/>
<circle cx="258.0" cy="1268.1" r="3.65" fill="#ff0000"/>
<circle cx="226.4" cy="1281.3" r="3.65" fill="#ff00ff"/>
<circle cx="231.6" cy="1283.6" r="3.65" fill="#ff0000"/>
<circle cx="268.2" cy="1280.7" r="3.65" fill="#ff0000"/>
<circle cx="267.1" cy="1282.5" r="3.65" fill="#00ffff"/>
<circle cx="256.6" cy="1291.2" r="3.65" fill="#e02000"/>
<circle cx="200.5" cy="1298.2" r="3.65" fill="#00ff00"/>
<circle cx="208.9" cy="1298.2" r="3.65" fill="#00ff00"/>
<circle cx="227.1" cy="1298.5" r="3.65" fill="#00ff55"/>
<circle cx="242.8" cy="1297.3" r="3.65" fill="#ffd000"/>
<circle cx="246.9" cy="1298.5" r="3.65" fill="#00ff00"/>
<circle cx="251.9" cy="1298.8" r="3.65" fill="#00ff55"/>
<circle cx="255.4" cy="1298.8" r="3.65" fill="#00ff55"/>
<circle cx="261.8" cy="1298.0" r="3.65" fill="#00ff00"/>
<circle cx="269.4" cy="1298.5" r="3.65" fill="#66990a"/>
<circle cx="275.3" cy="1226.4" r="3.65" fill="#00ffff"/>
<circle cx="282.8" cy="1224.7" r="3.65" fill="#00ffff"/>
<circle cx="288.7" cy="1222.3" r="3.65" fill="#ff0000"/>
<circle cx="294.5" cy="1225.8" r="3.65" fill="#00ffff"/>
<circle cx="298.0" cy="1221.2" r="3.65" fill="#ff0000"/>
<circle cx="303.9" cy="1221.8" r="3.65" fill="#ff0000"/>
<circle cx="309.7" cy="1223.5" r="3.65" fill="#00ffff"/>
<circle cx="316.7" cy="1222.3" r="3.65" fill="#00ffff"/>
<circle cx="321.4" cy="1224.7" r="3.65" fill="#ff0000"/>
<circle cx="328.4" cy="1221.8" r="3.65" fill="#00ffff"/>
<circle cx="330.7" cy="1226.4" r="3.65" fill="#ff0000"/>
<circle cx="335.4" cy="1223.5" r="3.65" fill="#00ffff"/>
<circle cx="340.1" cy="1224.7" r="3.65" fill="#00ffff"/>
<circle cx="271.2" cy="1227.0" r="3.65" fill="#ff0000"/>
<circle cx="274.7" cy="1233.4" r="3.65" fill="#ff0000"/>
<circle cx="281.7" cy="1231.7" r="3.65" fill="#00ffff"/>
<circle cx="286.4" cy="1234.0" r="3.65" fill="#00ffff"/>
<circle cx="291.0" cy="1235.8" r="3.65" fill="#ff0000"/>
<circle cx="296.9" cy="1232.8" r="3.65" fill="#00ffff"/>
<circle cx="301.5" cy="1230.5" r="3.65" fill="#00ffff"/>
<circle cx="307.4" cy="1236.4" r="3.65" fill="#ff0000"/>
<circle cx="309.7" cy="1232.8" r="3.65" fill="#ff0000"/>
<circle cx="314.4" cy="1230.5" r="3.65" fill="#00ffff"/>
<circle cx="322.6" cy="1231.7" r="3.65" fill="#ff0000"/>
<circle cx="328.4" cy="1234.0" r="3.65" fill="#00ffff"/>
<circle cx="337.7" cy="1235.2" r="3.65" fill="#00ffff"/>
<circle cx="344.7" cy="1236.4" r="3.65" fill="#ff0000"/>
<circle cx="340.1" cy="1240.4" r="3.65" fill="#00ffff"/>
<circle cx="272.3" cy="1243.4" r="3.65" fill="#00ffff"/>
<circle cx="279.3" cy="1246.9" r="3.65" fill="#00ffff"/>
<circle cx="285.2" cy="1245.1" r="3.65" fill="#ff0000"/>
<circle cx="289.3" cy="1248.0" r="3.65" fill="#00ffff"/>
<circle cx="293.4" cy="1244.5" r="3.65" fill="#ff0000"/>
<circle cx="299.2" cy="1242.8" r="3.65" fill="#00ffff"/>
<circle cx="303.9" cy="1246.9" r="3.65" fill="#ff0000"/>
<circle cx="310.9" cy="1241.0" r="3.65" fill="#00ffff"/>
<circle cx="316.7" cy="1244.5" r="3.65" fill="#ff0000"/>
<circle cx="320.2" cy="1248.0" r="3.65" fill="#ff0000"/>
<circle cx="323.1" cy="1239.9" r="3.65" fill="#ff0000"/>
<circle cx="329.6" cy="1246.9" r="3.65" fill="#00ffff"/>
<circle cx="328.4" cy="1242.8" r="3.65" fill="#ff0000"/>
<circle cx="338.9" cy="1245.1" r="3.65" fill="#ff0000"/>
<circle cx="335.4" cy="1251.5" r="3.65" fill="#00ffff"/>
<circle cx="349.4" cy="1241.0" r="3.65" fill="#00ffff"/>
<circle cx="277.9" cy="1256.2" r="3.65" fill="#ff0000"/>
<circle cx="283.4" cy="1255.0" r="3.65" fill="#00ffff"/>
<circle cx="288.7" cy="1253.9" r="3.65" fill="#ff0000"/>
<circle cx="296.9" cy="1256.2" r="3.65" fill="#00ffff"/>
<circle cx="302.1" cy="1254.5" r="3.65" fill="#ff0000"/>
<circle cx="308.5" cy="1258.5" r="3.65" fill="#00ffff"/>
<circle cx="309.5" cy="1253.6" r="3.65" fill="#000000"/>
<circle cx="319.1" cy="1255.0" r="3.65" fill="#00ffff"/>
<circle cx="326.1" cy="1253.9" r="3.65" fill="#00ffff"/>
<circle cx="332.5" cy="1259.1" r="3.65" fill="#ff0000"/>
<circle cx="341.2" cy="1255.0" r="3.65" fill="#00ffff"/>
<circle cx="341.5" cy="1262.0" r="3.65" fill="#ff0000"/>
<circle cx="293.9" cy="1261.5" r="3.65" fill="#00ffff"/>
<circle cx="302.1" cy="1262.6" r="3.65" fill="#00ffff"/>
<circle cx="289.3" cy="1265.0" r="3.65" fill="#00ffff"/>
<circle cx="307.4" cy="1264.4" r="3.65" fill="#ff0000"/>
<circle cx="314.4" cy="1259.7" r="3.65" fill="#ff0000"/>
<circle cx="317.9" cy="1263.2" r="3.65" fill="#ff0000"/>
<circle cx="323.1" cy="1263.2" r="3.65" fill="#ff0000"/>
<circle cx="326.1" cy="1266.7" r="3.65" fill="#ff0000"/>
<circle cx="321.4" cy="1269.1" r="3.65" fill="#ff0000"/>
<circle cx="295.1" cy="1267.9" r="3.65" fill="#ff0000"/>
<circle cx="300.6" cy="1269.1" r="3.65" fill="#ff0000"/>
<circle cx="288.7" cy="1270.2" r="3.65" fill="#ff0000"/>
<circle cx="306.8" cy="1273.7" r="3.65" fill="#ff0000"/>
<circle cx="312.3" cy="1272.0" r="3.65" fill="#ff0000"/>
<circle cx="331.9" cy="1272.0" r="3.65" fill="#00ffff"/>
<circle cx="336.0" cy="1269.6" r="3.65" fill="#00ffff"/>
<circle cx="348.2" cy="1267.3" r="3.65" fill="#ff0000"/>
<circle cx="338.3" cy="1279.0" r="3.65" fill="#00ffff"/>
<circle cx="275.3" cy="1274.0" r="3.65" fill="#0000ff"/>
<circle cx="285.9" cy="1277.2" r="3.65" fill="#00ff00"/>
<circle cx="270.0" cy="1281.3" r="3.65" fill="#ff0000"/>
<circle cx="320.2" cy="1283.6" r="3.65" fill="#ff0000"/>
<circle cx="324.1" cy="1286.3" r="3.65" fill="#ff0000"/>
<circle cx="322.3" cy="1282.5" r="3.65" fill="#00ffff"/>
<circle cx="334.5" cy="1291.2" r="3.65" fill="#ff5500"/>
<circle cx="271.8" cy="1298.2" r="3.65" fill="#00ff00"/>
<circle cx="278.8" cy="1298.5" r="3.65" fill="#ffd000"/>
<circle cx="285.2" cy="1297.7" r="3.65" fill="#00ff00"/>
<circle cx="289.3" cy="1298.2" r="3.65" fill="#00ff00"/>
<circle cx="296.3" cy="1298.2" r="3.65" fill="#00ff00"/>
<circle cx="305.0" cy="1298.8" r="3.65" fill="#66990a"/>
<circle cx="311.1" cy="1297.7" r="3.65" fill="#00ffff"/>
<circle cx="317.3" cy="1297.7" r="3.65" fill="#00ff00"/>
<circle cx="322.6" cy="1298.5" r="3.65" fill="#ffd000"/>
<circle cx="327.2" cy="1298.5" r="3.65" fill="#00ff00"/>
<circle cx="333.1" cy="1298.5" r="3.65" fill="#00ff00"/>
<circle cx="340.1" cy="1298.5" r="3.65" fill="#00ff00"/>
<circle cx="345.9" cy="1298.2" r="3.65" fill="#00ff00"/>
<circle cx="356.1" cy="1220.0" r="3.65" fill="#00ffff"/>
<circle cx="361.7" cy="1229.6" r="3.65" fill="#ff0000"/>
<circle cx="375.9" cy="1231.4" r="3.65" fill="#ff0000"/>
<circle cx="398.1" cy="1230.3" r="3.65" fill="#00ffff"/>
<circle cx="389.4" cy="1227.4" r="3.65" fill="#ff0000"/>
<circle cx="392.0" cy="1229.1" r="3.65" fill="#ff0000"/>
<circle cx="403.1" cy="1235.8" r="3.65" fill="#00ffff"/>
<circle cx="354.1" cy="1234.6" r="3.65" fill="#00ffff"/>
<circle cx="359.3" cy="1233.4" r="3.65" fill="#00ffff"/>
<circle cx="361.7" cy="1234.6" r="3.65" fill="#00ffff"/>
<circle cx="368.5" cy="1236.9" r="3.65" fill="#00ffff"/>
<circle cx="355.3" cy="1241.0" r="3.65" fill="#ff0000"/>
<circle cx="354.3" cy="1244.3" r="3.65" fill="#ff0000"/>
<circle cx="359.1" cy="1243.9" r="3.65" fill="#00ffff"/>
<circle cx="350.0" cy="1242.2" r="3.65" fill="#00ffff"/>
<circle cx="350.0" cy="1249.8" r="3.65" fill="#000000"/>
<circle cx="365.4" cy="1251.8" r="3.65" fill="#ff0000"/>
<circle cx="368.1" cy="1252.7" r="3.65" fill="#00ffff"/>
<circle cx="366.4" cy="1256.8" r="3.65" fill="#00ffff"/>
<circle cx="403.5" cy="1251.8" r="3.65" fill="#00ffff"/>
<circle cx="377.8" cy="1260.3" r="3.65" fill="#ff0000"/>
<circle cx="357.2" cy="1262.3" r="3.65" fill="#ff0000"/>
<circle cx="381.3" cy="1266.1" r="3.65" fill="#00ffff"/>
<circle cx="390.6" cy="1269.3" r="3.65" fill="#00ffff"/>
<circle cx="350.0" cy="1267.3" r="3.65" fill="#ff0000"/>
<circle cx="361.7" cy="1268.5" r="3.65" fill="#00ffff"/>
<circle cx="364.9" cy="1272.0" r="3.65" fill="#00ffff"/>
<circle cx="354.7" cy="1272.8" r="3.65" fill="#ff0000"/>
<circle cx="357.0" cy="1277.8" r="3.65" fill="#00ffff"/>
<circle cx="364.6" cy="1279.2" r="3.65" fill="#ff0000"/>
<circle cx="361.4" cy="1281.9" r="3.65" fill="#ff0000"/>
<circle cx="368.1" cy="1281.5" r="3.65" fill="#00ffff"/>
<circle cx="353.5" cy="1281.9" r="3.65" fill="#00ffff"/>
<circle cx="391.6" cy="1280.4" r="3.65" fill="#ff0000"/>
<circle cx="426.1" cy="1266.7" r="3.65" fill="#00ffff"/>
<circle cx="422.5" cy="1274.4" r="3.65" fill="#ff0000"/>
<circle cx="351.8" cy="1289.8" r="3.65" fill="#ffd000"/>
<circle cx="355.3" cy="1289.5" r="3.65" fill="#ffd000"/>
<circle cx="424.3" cy="1291.5" r="3.65" fill="#00ffff"/>
<circle cx="352.3" cy="1298.2" r="3.65" fill="#00ff00"/>
<circle cx="357.0" cy="1298.5" r="3.65" fill="#66990a"/>
<circle cx="362.8" cy="1298.2" r="3.65" fill="#00ff00"/>
<circle cx="368.7" cy="1298.2" r="3.65" fill="#00ff55"/>
<circle cx="374.5" cy="1298.2" r="3.65" fill="#00ff00"/>
<circle cx="381.5" cy="1298.8" r="3.65" fill="#00ffff"/>
<circle cx="387.4" cy="1298.2" r="3.65" fill="#00ff00"/>
<circle cx="396.7" cy="1298.8" r="3.65" fill="#a65a00"/>
<circle cx="402.6" cy="1298.5" r="3.65" fill="#a65a00"/>
<circle cx="407.2" cy="1296.5" r="3.65" fill="#ffd000"/>
<circle cx="414.2" cy="1296.5" r="3.65" fill="#ffd000"/>
<circle cx="406.6" cy="1298.5" r="3.65" fill="#00ff55"/>
<circle cx="415.4" cy="1298.0" r="3.65" fill="#00ff00"/>
<circle cx="420.1" cy="1298.2" r="3.65" fill="#00ff00"/>
<circle cx="424.7" cy="1298.8" r="3.65" fill="#a65a00"/>
<circle cx="429.4" cy="1298.5" r="3.65" fill="#00ff00"/>
<circle cx="401.3" cy="1300.5" r="3.65" fill="#66990a"/>
<circle cx="407.2" cy="1297.2" r="3.65" fill="#ffd000"/>
<circle cx="414.5" cy="1297.2" r="3.65" fill="#ffd000"/>
<circle cx="407.2" cy="1300.1" r="3.65" fill="#00ff55"/>
<circle cx="410.5" cy="1300.5" r="3.65" fill="#66990a"/>
<circle cx="415.8" cy="1299.2" r="3.65" fill="#00ff00"/>
<circle cx="419.7" cy="1300.5" r="3.65" fill="#00ff00"/>
<circle cx="423.0" cy="1299.2" r="3.65" fill="#00ff00"/>
<circle cx="430.9" cy="1297.9" r="3.65" fill="#00ff00"/>
<circle cx="429.6" cy="1300.5" r="3.65" fill="#00ff00"/>
<circle cx="432.8" cy="1300.5" r="3.65" fill="#ffd000"/>
<circle cx="424.7" cy="1300.1" r="3.65" fill="#a65a00"/>
<circle cx="437.3" cy="1300.5" r="3.65" fill="#a65a00"/>
<circle cx="445.3" cy="1300.1" r="3.65" fill="#00ff00"/>
<circle cx="449.9" cy="1300.1" r="3.65" fill="#00ff00"/>
<circle cx="454.9" cy="1300.4" r="3.65" fill="#00ff55"/>
<circle cx="79.1" cy="1291.3" r="3.65" fill="#00ff00"/>
<circle cx="104.1" cy="1297.2" r="3.65" fill="#00ff00"/>
<circle cx="107.2" cy="1298.8" r="3.65" fill="#00ff00"/>
<circle cx="134.5" cy="1294.4" r="3.65" fill="#00ff00"/>
<circle cx="146.4" cy="1298.5" r="3.65" fill="#00ff00"/>
<circle cx="152.5" cy="1299.0" r="3.65" fill="#00ff00"/>
<circle cx="150.3" cy="1299.9" r="3.65" fill="#66990a"/>
<circle cx="159.5" cy="1286.9" r="3.65" fill="#00ff00"/>
<circle cx="153.6" cy="1287.8" r="3.65" fill="#ff0000"/>
<circle cx="156.6" cy="1289.3" r="3.65" fill="#ff0000"/>
<circle cx="168.5" cy="1292.0" r="3.65" fill="#ff0000"/>
<circle cx="182.0" cy="1299.9" r="3.65" fill="#00ff00"/>
<circle cx="182.3" cy="1295.0" r="3.65" fill="#ff0000"/>
<circle cx="287.3" cy="1232.1" r="3.65" fill="#00ffff"/>
<circle cx="280.1" cy="1235.8" r="3.65" fill="#00ffff"/>
<circle cx="287.5" cy="1227.8" r="3.65" fill="#00ffff"/>
<circle cx="282.2" cy="1227.5" r="3.65" fill="#00ffff"/>
<circle cx="277.4" cy="1239.1" r="3.65" fill="#00ffff"/>
<circle cx="282.3" cy="1234.7" r="3.65" fill="#00ffff"/>
<circle cx="285.6" cy="1232.2" r="3.65" fill="#00ffff"/>
<circle cx="278.8" cy="1228.0" r="3.65" fill="#00ffff"/>
<circle cx="286.2" cy="1236.5" r="3.65" fill="#00ffff"/>
<circle cx="274.8" cy="1228.2" r="3.65" fill="#00ffff"/>
<circle cx="283.0" cy="1236.2" r="3.65" fill="#00ffff"/>
<circle cx="286.7" cy="1235.2" r="3.65" fill="#00ffff"/>
<circle cx="285.2" cy="1228.2" r="3.65" fill="#00ffff"/>
<circle cx="283.3" cy="1237.1" r="3.65" fill="#00ffff"/>
<circle cx="300.1" cy="1237.8" r="3.65" fill="#00ffff"/>
<circle cx="316.4" cy="1226.4" r="3.65" fill="#00ffff"/>
<circle cx="308.0" cy="1236.9" r="3.65" fill="#00ffff"/>
<circle cx="308.4" cy="1238.5" r="3.65" fill="#ff0000"/>
<circle cx="308.7" cy="1231.2" r="3.65" fill="#00ffff"/>
<circle cx="302.1" cy="1232.5" r="3.65" fill="#ff0000"/>
<circle cx="292.9" cy="1237.6" r="3.65" fill="#00ffff"/>
<circle cx="309.9" cy="1230.4" r="3.65" fill="#ff0000"/>
<circle cx="305.7" cy="1236.7" r="3.65" fill="#ff0000"/>
<circle cx="317.7" cy="1234.2" r="3.65" fill="#ff0000"/>
<circle cx="301.3" cy="1241.9" r="3.65" fill="#00ffff"/>
<circle cx="301.1" cy="1240.4" r="3.65" fill="#ff0000"/>
<circle cx="305.4" cy="1231.4" r="3.65" fill="#ff0000"/>
<circle cx="317.8" cy="1233.9" r="3.65" fill="#00ffff"/>
<circle cx="304.7" cy="1232.5" r="3.65" fill="#00ffff"/>
<circle cx="314.5" cy="1234.8" r="3.65" fill="#00ffff"/>
<circle cx="337.2" cy="1242.7" r="3.65" fill="#00ffff"/>
<circle cx="336.6" cy="1238.6" r="3.65" fill="#00ffff"/>
<circle cx="337.9" cy="1240.1" r="3.65" fill="#00ffff"/>
<circle cx="330.6" cy="1252.6" r="3.65" fill="#ff0000"/>
<circle cx="337.6" cy="1245.0" r="3.65" fill="#ff0000"/>
<circle cx="333.2" cy="1240.2" r="3.65" fill="#00ffff"/>
<circle cx="342.1" cy="1243.1" r="3.65" fill="#00ffff"/>
<circle cx="329.7" cy="1235.1" r="3.65" fill="#ff0000"/>
<circle cx="342.0" cy="1250.4" r="3.65" fill="#00ffff"/>
<circle cx="339.3" cy="1242.0" r="3.65" fill="#00ffff"/>
<circle cx="332.5" cy="1252.2" r="3.65" fill="#00ffff"/>
<circle cx="326.5" cy="1231.2" r="3.65" fill="#00ffff"/>
<circle cx="335.4" cy="1241.8" r="3.65" fill="#00ffff"/>
<circle cx="337.4" cy="1245.7" r="3.65" fill="#00ffff"/>
<path d="M556.56,1300.50 L556.74,1299.52 L556.75,1298.53 L556.61,1297.55 L556.32,1296.56 L555.88,1295.58 L555.32,1294.60 L554.63,1293.61 L553.84,1292.63 L552.95,1291.64 L551.98,1290.66 L550.94,1289.68 L549.86,1288.69 L548.75,1287.71 L547.62,1286.72 L546.49,1285.74 L545.38,1284.76 L544.30,1283.77 L543.28,1282.79 L542.31,1281.80 L541.42,1280.82 L540.63,1279.84 L539.93,1278.85 L539.34,1277.87 L538.88,1276.88 L538.54,1275.90 L538.34,1274.92 L538.28,1273.93 L538.36,1272.95 L538.58,1271.97 L538.94,1270.98 L539.44,1270.00 L540.08,1269.01 L540.85,1268.03 L541.76,1267.05 L542.78,1266.06 L543.91,1265.08 L545.15,1264.09 L546.48,1263.11 L547.90,1262.13 L549.39,1261.14 L550.93,1260.16 L552.53,1259.17 L554.16,1258.19 L555.81,1257.21 L557.47,1256.22 L559.13,1255.24 L560.77,1254.25 L562.39,1253.27 L563.96,1252.29 L565.48,1251.30 L566.93,1250.32 L568.31,1249.33 L569.61,1248.35 L570.81,1247.37 L571.90,1246.38 L572.89,1245.40 L573.76,1244.41 L574.51,1243.43 L575.13,1242.45 L575.62,1241.46 L575.97,1240.48 L576.19,1239.49 L576.27,1238.51 L576.21,1237.53 L576.02,1236.54 L575.69,1235.56 L575.23,1234.57 L574.64,1233.59 L573.93,1232.61 L573.10,1231.62 L572.16,1230.64 L571.11,1229.65 L569.96,1228.67 L568.73,1227.69 L567.40,1226.70 L566.01,1225.72 L564.54,1224.73 L563.02,1223.75 L561.44,1222.77 L559.83,1221.78 L558.18,1220.80 L556.50,1219.82 L554.81,1218.83 L553.11,1217.85 L551.40,1216.86 L549.70,1215.88 L548.02,1214.90 L546.35,1213.91 L544.70,1212.93 L543.09,1211.94 L541.50,1210.96 L539.96,1209.98 L538.46,1208.99 L537.00,1208.01 L535.59,1207.02 L534.23,1206.04 L532.92,1205.06 L531.66,1204.07 L530.46,1203.09 L529.31,1202.10 L528.21,1201.12 L527.17,1200.14 L526.17,1199.15 L525.23,1198.17 L524.33,1197.18 L523.49,1196.20 L522.69,1195.22 L521.93,1194.23 L521.21,1193.25 L520.53,1192.26 L519.89,1191.28 L519.29,1190.30 L518.71,1189.31 L518.16,1188.33 L517.64,1187.34 L517.15,1186.36 L516.68,1185.38 L516.22,1184.39 L515.79,1183.41 L515.37,1182.42 L514.97,1181.44 L514.57,1180.46 L514.19,1179.47 L513.82,1178.49 L513.45,1177.50 L513.10,1176.52 L512.74,1175.54 L512.39,1174.55 L512.05,1173.57 L511.71,1172.58 L511.37,1171.60 L511.03,1170.62 L510.69,1169.63 L510.36,1168.65 L510.02,1167.67 L509.69,1166.68 L509.36,1165.70 L509.03,1164.71 L508.70,1163.73 L508.37,1162.75 L508.04,1161.76 L507.71,1160.78 L507.38,1159.79 L507.06,1158.81 L506.74,1157.83 L506.42,1156.84 L506.10,1155.86 L505.79,1154.87 L505.48,1153.89 L505.18,1152.91 L504.87,1151.92 L504.58,1150.94 L504.28,1149.95 L504.00,1148.97 L503.71,1147.99 L503.44,1147.00 L503.17,1146.02 L502.90,1145.03 L502.64,1144.05 L502.39,1143.07 L502.14,1142.08 L501.90,1141.10 L501.66,1140.11 L501.43,1139.13 L501.21,1138.15 L501.00,1137.16 L500.79,1136.18 L500.58,1135.19 L500.39,1134.21 L500.19,1133.23 L500.01,1132.24 L499.83,1131.26 L499.66,1130.27 L499.49,1129.29 L499.33,1128.31 L499.17,1127.32 L499.02,1126.34 L498.87,1125.35 L498.73,1124.37 L498.59,1123.39 L498.45,1122.40 L498.33,1121.42 L498.20,1120.43 L498.08,1119.45 L497.96,1118.47 L497.85,1117.48 L497.73,1116.50 L497.62,1115.52 L497.52,1114.53 L497.42,1113.55 L497.32,1112.56 L497.22,1111.58 L497.12,1110.60 L497.03,1109.61 L496.93,1108.63 L496.84,1107.64 L496.75,1106.66 L496.67,1105.68 L496.58,1104.69 L496.49,1103.71 L496.41,1102.72 L496.33,1101.74 L496.25,1100.76 L496.16,1099.77 L496.08,1098.79 L496.01,1097.80 L495.93,1096.82 L495.85,1095.84 L495.77,1094.85 L495.69,1093.87 L495.62,1092.88 L495.54,1091.90 L495.47,1090.92 L495.39,1089.93 L495.32,1088.95 L495.24,1087.96 L495.17,1086.98 L495.10,1086.00 L495.02,1085.01 L494.95,1084.03 L494.88,1083.04 L494.81,1082.06 L494.74,1081.08 L494.67,1080.09 L494.60,1079.11 L494.53,1078.12 L494.46,1077.14 L494.39,1076.16 L494.33,1075.17 L494.26,1074.19 L494.19,1073.20 L494.13,1072.22 L494.07,1071.24 L494.00,1070.25 L493.94,1069.27 L493.88,1068.28 L493.82,1067.30 L493.76,1066.32 L493.70,1065.33 L493.64,1064.35 L493.58,1063.37 L493.53,1062.38 L493.47,1061.40 L493.42,1060.41 L493.36,1059.43 L493.31,1058.45 L493.26,1057.46 L493.21,1056.48 L493.16,1055.49 L493.11,1054.51 L493.06,1053.53 L493.02,1052.54 L492.97,1051.56 L492.93,1050.57 L492.88,1049.59 L492.84,1048.61 L492.80,1047.62 L492.76,1046.64 L492.72,1045.65 L492.68,1044.67 L492.64,1043.69 L492.60,1042.70 L492.57,1041.72 L492.53,1040.73 L492.50,1039.75 L492.46,1038.77 L492.43,1037.78 L492.40,1036.80 L492.37,1035.81 L492.33,1034.83 L492.30,1033.85 L492.28,1032.86 L492.25,1031.88 L492.22,1030.89 L492.19,1029.91 L492.17,1028.93 L492.14,1027.94 L492.11,1026.96 L492.09,1025.97 L492.07,1024.99 L492.04,1024.01 L492.02,1023.02 L492.00,1022.04 L491.97,1021.05 L491.95,1020.07 L491.93,1019.09 L491.91,1018.10 L491.89,1017.12 L491.87,1016.13 L491.85,1015.15 L491.83,1014.17 L491.81,1013.18 L491.79,1012.20 L491.78,1011.22 L491.76,1010.23 L491.74,1009.25 L491.72,1008.26 L491.70,1007.28 L491.69,1006.30 L491.67,1005.31 L491.65,1004.33 L491.64,1003.34 L491.62,1002.36 L491.60,1001.38 L491.59,1000.39 L491.57,999.41 L491.55,998.42 L491.54,997.44 L491.52,996.46 L491.51,995.47 L491.49,994.49 L491.48,993.50 L491.46,992.52 L491.45,991.54 L491.43,990.55 L491.42,989.57 L491.40,988.58 L491.39,987.60 L491.37,986.62 L491.36,985.63 L491.34,984.65 L491.33,983.66 L491.31,982.68 L491.30,981.70 L491.28,980.71 L491.27,979.73 L491.26,978.74 L491.24,977.76 L491.23,976.78 L491.21,975.79 L491.20,974.81 L491.18,973.82 L491.17,972.84 L491.16,971.86 L491.14,970.87 L491.13,969.89 L491.12,968.90 L491.10,967.92 L491.09,966.94 L491.08,965.95 L491.06,964.97 L491.05,963.98 L491.04,963.00 L491.02,962.02 L491.01,961.03 L491.00,960.05 L490.99,959.07 L490.97,958.08 L490.96,957.10 L490.95,956.11 L490.94,955.13 L490.92,954.15 L490.91,953.16 L490.90,952.18 L490.89,951.19 L490.88,950.21 L490.87,949.23 L490.86,948.24 L490.84,947.26 L490.83,946.27 L490.82,945.29 L490.81,944.31 L490.80,943.32 L490.79,942.34 L490.78,941.35 L490.77,940.37 L490.76,939.39 L490.75,938.40 L490.74,937.42 L490.73,936.43 L490.72,935.45 L490.72,934.47 L490.71,933.48 L490.70,932.50 L490.69,931.51 L490.68,930.53 L490.67,929.55 L490.66,928.56 L490.66,927.58 L490.65,926.59 L490.64,925.61 L490.63,924.63 L490.63,923.64 L490.62,922.66 L490.61,921.67 L490.61,920.69 L490.60,919.71 L490.59,918.72 L490.59,917.74 L490.58,916.75 L490.58,915.77 L490.57,914.79 L490.56,913.80 L490.56,912.82 L490.55,911.83 L490.55,910.85 L490.54,909.87 L490.54,908.88 L490.53,907.90 L490.40,907.90 L490.40,1300.50 Z" fill="#e8e8e8"/>
<path d="M556.56,1300.50 L556.74,1299.52 L556.75,1298.53 L556.61,1297.55 L556.32,1296.56 L555.88,1295.58 L555.32,1294.60 L554.63,1293.61 L553.84,1292.63 L552.95,1291.64 L551.98,1290.66 L550.94,1289.68 L549.86,1288.69 L548.75,1287.71 L547.62,1286.72 L546.49,1285.74 L545.38,1284.76 L544.30,1283.77 L543.28,1282.79 L542.31,1281.80 L541.42,1280.82 L540.63,1279.84 L539.93,1278.85 L539.34,1277.87 L538.88,1276.88 L538.54,1275.90 L538.34,1274.92 L538.28,1273.93 L538.36,1272.95 L538.58,1271.97 L538.94,1270.98 L539.44,1270.00 L540.08,1269.01 L540.85,1268.03 L541.76,1267.05 L542.78,1266.06 L543.91,1265.08 L545.15,1264.09 L546.48,1263.11 L547.90,1262.13 L549.39,1261.14 L550.93,1260.16 L552.53,1259.17 L554.16,1258.19 L555.81,1257.21 L557.47,1256.22 L559.13,1255.24 L560.77,1254.25 L562.39,1253.27 L563.96,1252.29 L565.48,1251.30 L566.93,1250.32 L568.31,1249.33 L569.61,1248.35 L570.81,1247.37 L571.90,1246.38 L572.89,1245.40 L573.76,1244.41 L574.51,1243.43 L575.13,1242.45 L575.62,1241.46 L575.97,1240.48 L576.19,1239.49 L576.27,1238.51 L576.21,1237.53 L576.02,1236.54 L575.69,1235.56 L575.23,1234.57 L574.64,1233.59 L573.93,1232.61 L573.10,1231.62 L572.16,1230.64 L571.11,1229.65 L569.96,1228.67 L568.73,1227.69 L567.40,1226.70 L566.01,1225.72 L564.54,1224.73 L563.02,1223.75 L561.44,1222.77 L559.83,1221.78 L558.18,1220.80 L556.50,1219.82 L554.81,1218.83 L553.11,1217.85 L551.40,1216.86 L549.70,1215.88 L548.02,1214.90 L546.35,1213.91 L544.70,1212.93 L543.09,1211.94 L541.50,1210.96 L539.96,1209.98 L538.46,1208.99 L537.00,1208.01 L535.59,1207.02 L534.23,1206.04 L532.92,1205.06 L531.66,1204.07 L530.46,1203.09 L529.31,1202.10 L528.21,1201.12 L527.17,1200.14 L526.17,1199.15 L525.23,1198.17 L524.33,1197.18 L523.49,1196.20 L522.69,1195.22 L521.93,1194.23 L521.21,1193.25 L520.53,1192.26 L519.89,1191.28 L519.29,1190.30 L518.71,1189.31 L518.16,1188.33 L517.64,1187.34 L517.15,1186.36 L516.68,1185.38 L516.22,1184.39 L515.79,1183.41 L515.37,1182.42 L514.97,1181.44 L514.57,1180.46 L514.19,1179.47 L513.82,1178.49 L513.45,1177.50 L513.10,1176.52 L512.74,1175.54 L512.39,1174.55 L512.05,1173.57 L511.71,1172.58 L511.37,1171.60 L511.03,1170.62 L510.69,1169.63 L510.36,1168.65 L510.02,1167.67 L509.69,1166.68 L509.36,1165.70 L509.03,1164.71 L508.70,1163.73 L508.37,1162.75 L508.04,1161.76 L507.71,1160.78 L507.38,1159.79 L507.06,1158.81 L506.74,1157.83 L506.42,1156.84 L506.10,1155.86 L505.79,1154.87 L505.48,1153.89 L505.18,1152.91 L504.87,1151.92 L504.58,1150.94 L504.28,1149.95 L504.00,1148.97 L503.71,1147.99 L503.44,1147.00 L503.17,1146.02 L502.90,1145.03 L502.64,1144.05 L502.39,1143.07 L502.14,1142.08 L501.90,1141.10 L501.66,1140.11 L501.43,1139.13 L501.21,1138.15 L501.00,1137.16 L500.79,1136.18 L500.58,1135.19 L500.39,1134.21 L500.19,1133.23 L500.01,1132.24 L499.83,1131.26 L499.66,1130.27 L499.49,1129.29 L499.33,1128.31 L499.17,1127.32 L499.02,1126.34 L498.87,1125.35 L498.73,1124.37 L498.59,1123.39 L498.45,1122.40 L498.33,1121.42 L498.20,1120.43 L498.08,1119.45 L497.96,1118.47 L497.85,1117.48 L497.73,1116.50 L497.62,1115.52 L497.52,1114.53 L497.42,1113.55 L497.32,1112.56 L497.22,1111.58 L497.12,1110.60 L497.03,1109.61 L496.93,1108.63 L496.84,1107.64 L496.75,1106.66 L496.67,1105.68 L496.58,1104.69 L496.49,1103.71 L496.41,1102.72 L496.33,1101.74 L496.25,1100.76 L496.16,1099.77 L496.08,1098.79 L496.01,1097.80 L495.93,1096.82 L495.85,1095.84 L495.77,1094.85 L495.69,1093.87 L495.62,1092.88 L495.54,1091.90 L495.47,1090.92 L495.39,1089.93 L495.32,1088.95 L495.24,1087.96 L495.17,1086.98 L495.10,1086.00 L495.02,1085.01 L494.95,1084.03 L494.88,1083.04 L494.81,1082.06 L494.74,1081.08 L494.67,1080.09 L494.60,1079.11 L494.53,1078.12 L494.46,1077.14 L494.39,1076.16 L494.33,1075.17 L494.26,1074.19 L494.19,1073.20 L494.13,1072.22 L494.07,1071.24 L494.00,1070.25 L493.94,1069.27 L493.88,1068.28 L493.82,1067.30 L493.76,1066.32 L493.70,1065.33 L493.64,1064.35 L493.58,1063.37 L493.53,1062.38 L493.47,1061.40 L493.42,1060.41 L493.36,1059.43 L493.31,1058.45 L493.26,1057.46 L493.21,1056.48 L493.16,1055.49 L493.11,1054.51 L493.06,1053.53 L493.02,1052.54 L492.97,1051.56 L492.93,1050.57 L492.88,1049.59 L492.84,1048.61 L492.80,1047.62 L492.76,1046.64 L492.72,1045.65 L492.68,1044.67 L492.64,1043.69 L492.60,1042.70 L492.57,1041.72 L492.53,1040.73 L492.50,1039.75 L492.46,1038.77 L492.43,1037.78 L492.40,1036.80 L492.37,1035.81 L492.33,1034.83 L492.30,1033.85 L492.28,1032.86 L492.25,1031.88 L492.22,1030.89 L492.19,1029.91 L492.17,1028.93 L492.14,1027.94 L492.11,1026.96 L492.09,1025.97 L492.07,1024.99 L492.04,1024.01 L492.02,1023.02 L492.00,1022.04 L491.97,1021.05 L491.95,1020.07 L491.93,1019.09 L491.91,1018.10 L491.89,1017.12 L491.87,1016.13 L491.85,1015.15 L491.83,1014.17 L491.81,1013.18 L491.79,1012.20 L491.78,1011.22 L491.76,1010.23 L491.74,1009.25 L491.72,1008.26 L491.70,1007.28 L491.69,1006.30 L491.67,1005.31 L491.65,1004.33 L491.64,1003.34 L491.62,1002.36 L491.60,1001.38 L491.59,1000.39 L491.57,999.41 L491.55,998.42 L491.54,997.44 L491.52,996.46 L491.51,995.47 L491.49,994.49 L491.48,993.50 L491.46,992.52 L491.45,991.54 L491.43,990.55 L491.42,989.57 L491.40,988.58 L491.39,987.60 L491.37,986.62 L491.36,985.63 L491.34,984.65 L491.33,983.66 L491.31,982.68 L491.30,981.70 L491.28,980.71 L491.27,979.73 L491.26,978.74 L491.24,977.76 L491.23,976.78 L491.21,975.79 L491.20,974.81 L491.18,973.82 L491.17,972.84 L491.16,971.86 L491.14,970.87 L491.13,969.89 L491.12,968.90 L491.10,967.92 L491.09,966.94 L491.08,965.95 L491.06,964.97 L491.05,963.98 L491.04,963.00 L491.02,962.02 L491.01,961.03 L491.00,960.05 L490.99,959.07 L490.97,958.08 L490.96,957.10 L490.95,956.11 L490.94,955.13 L490.92,954.15 L490.91,953.16 L490.90,952.18 L490.89,951.19 L490.88,950.21 L490.87,949.23 L490.86,948.24 L490.84,947.26 L490.83,946.27 L490.82,945.29 L490.81,944.31 L490.80,943.32 L490.79,942.34 L490.78,941.35 L490.77,940.37 L490.76,939.39 L490.75,938.40 L490.74,937.42 L490.73,936.43 L490.72,935.45 L490.72,934.47 L490.71,933.48 L490.70,932.50 L490.69,931.51 L490.68,930.53 L490.67,929.55 L490.66,928.56 L490.66,927.58 L490.65,926.59 L490.64,925.61 L490.63,924.63 L490.63,923.64 L490.62,922.66 L490.61,921.67 L490.61,920.69 L490.60,919.71 L490.59,918.72 L490.59,917.74 L490.58,916.75 L490.58,915.77 L490.57,914.79 L490.56,913.80 L490.56,912.82 L490.55,911.83 L490.55,910.85 L490.54,909.87 L490.54,908.88 L490.53,907.90" fill="none" stroke="#d2d2d2" stroke-width="2.4" stroke-linejoin="round"/>
<path d="M656.43,1300.50 L656.60,1299.52 L656.61,1298.53 L656.47,1297.55 L656.17,1296.56 L655.74,1295.58 L655.16,1294.60 L654.47,1293.61 L653.67,1292.63 L652.77,1291.64 L651.79,1290.66 L650.75,1289.68 L649.66,1288.69 L648.53,1287.71 L647.39,1286.72 L646.25,1285.74 L645.13,1284.76 L644.04,1283.77 L643.00,1282.79 L642.03,1281.80 L641.13,1280.82 L640.33,1279.84 L639.62,1278.85 L639.03,1277.87 L638.57,1276.88 L638.23,1275.90 L638.02,1274.92 L637.96,1273.93 L638.04,1272.95 L638.26,1271.97 L638.62,1270.98 L639.13,1270.00 L639.78,1269.01 L640.56,1268.03 L641.47,1267.05 L642.50,1266.06 L643.65,1265.08 L644.90,1264.09 L646.24,1263.11 L647.67,1262.13 L649.18,1261.14 L650.74,1260.16 L652.35,1259.17 L654.00,1258.19 L655.66,1257.21 L657.34,1256.22 L659.02,1255.24 L660.68,1254.25 L662.31,1253.27 L663.89,1252.29 L665.43,1251.30 L666.90,1250.32 L668.29,1249.33 L669.60,1248.35 L670.81,1247.37 L671.92,1246.38 L672.92,1245.40 L673.80,1244.41 L674.55,1243.43 L675.18,1242.45 L675.67,1241.46 L676.03,1240.48 L676.25,1239.49 L676.33,1238.51 L676.27,1237.53 L676.07,1236.54 L675.74,1235.56 L675.28,1234.57 L674.68,1233.59 L673.96,1232.61 L673.13,1231.62 L672.18,1230.64 L671.12,1229.65 L669.96,1228.67 L668.71,1227.69 L667.37,1226.70 L665.96,1225.72 L664.48,1224.73 L662.94,1223.75 L661.35,1222.77 L659.72,1221.78 L658.06,1220.80 L656.36,1219.82 L654.65,1218.83 L652.93,1217.85 L651.21,1216.86 L649.50,1215.88 L647.79,1214.90 L646.11,1213.91 L644.45,1212.93 L642.81,1211.94 L641.22,1210.96 L639.66,1209.98 L638.14,1208.99 L636.67,1208.01 L635.24,1207.02 L633.87,1206.04 L632.55,1205.06 L631.28,1204.07 L630.06,1203.09 L628.90,1202.10 L627.79,1201.12 L626.73,1200.14 L625.73,1199.15 L624.78,1198.17 L623.87,1197.18 L623.02,1196.20 L622.21,1195.22 L621.44,1194.23 L620.72,1193.25 L620.04,1192.26 L619.39,1191.28 L618.77,1190.30 L618.19,1189.31 L617.64,1188.33 L617.12,1187.34 L616.62,1186.36 L616.14,1185.38 L615.68,1184.39 L615.24,1183.41 L614.82,1182.42 L614.41,1181.44 L614.02,1180.46 L613.63,1179.47 L613.25,1178.49 L612.88,1177.50 L612.52,1176.52 L612.17,1175.54 L611.81,1174.55 L611.47,1173.57 L611.12,1172.58 L610.78,1171.60 L610.44,1170.62 L610.10,1169.63 L609.76,1168.65 L609.42,1167.67 L609.08,1166.68 L608.75,1165.70 L608.41,1164.71 L608.08,1163.73 L607.75,1162.75 L607.41,1161.76 L607.08,1160.78 L606.75,1159.79 L606.43,1158.81 L606.10,1157.83 L605.78,1156.84 L605.46,1155.86 L605.14,1154.87 L604.83,1153.89 L604.52,1152.91 L604.22,1151.92 L603.92,1150.94 L603.62,1149.95 L603.33,1148.97 L603.05,1147.99 L602.77,1147.00 L602.49,1146.02 L602.23,1145.03 L601.96,1144.05 L601.71,1143.07 L601.46,1142.08 L601.21,1141.10 L600.98,1140.11 L600.74,1139.13 L600.52,1138.15 L600.30,1137.16 L600.09,1136.18 L599.88,1135.19 L599.69,1134.21 L599.49,1133.23 L599.31,1132.24 L599.12,1131.26 L598.95,1130.27 L598.78,1129.29 L598.61,1128.31 L598.46,1127.32 L598.30,1126.34 L598.15,1125.35 L598.01,1124.37 L597.87,1123.39 L597.74,1122.40 L597.60,1121.42 L597.48,1120.43 L597.35,1119.45 L597.24,1118.47 L597.12,1117.48 L597.01,1116.50 L596.90,1115.52 L596.79,1114.53 L596.69,1113.55 L596.58,1112.56 L596.48,1111.58 L596.39,1110.60 L596.29,1109.61 L596.20,1108.63 L596.11,1107.64 L596.02,1106.66 L595.93,1105.68 L595.84,1104.69 L595.76,1103.71 L595.67,1102.72 L595.59,1101.74 L595.50,1100.76 L595.42,1099.77 L595.34,1098.79 L595.26,1097.80 L595.18,1096.82 L595.10,1095.84 L595.02,1094.85 L594.95,1093.87 L594.87,1092.88 L594.79,1091.90 L594.72,1090.92 L594.64,1089.93 L594.57,1088.95 L594.49,1087.96 L594.42,1086.98 L594.34,1086.00 L594.27,1085.01 L594.20,1084.03 L594.12,1083.04 L594.05,1082.06 L593.98,1081.08 L593.91,1080.09 L593.84,1079.11 L593.77,1078.12 L593.70,1077.14 L593.63,1076.16 L593.57,1075.17 L593.50,1074.19 L593.43,1073.20 L593.37,1072.22 L593.30,1071.24 L593.24,1070.25 L593.18,1069.27 L593.11,1068.28 L593.05,1067.30 L592.99,1066.32 L592.93,1065.33 L592.87,1064.35 L592.82,1063.37 L592.76,1062.38 L592.70,1061.40 L592.65,1060.41 L592.59,1059.43 L592.54,1058.45 L592.49,1057.46 L592.44,1056.48 L592.39,1055.49 L592.34,1054.51 L592.29,1053.53 L592.24,1052.54 L592.20,1051.56 L592.15,1050.57 L592.11,1049.59 L592.06,1048.61 L592.02,1047.62 L591.98,1046.64 L591.94,1045.65 L591.90,1044.67 L591.86,1043.69 L591.82,1042.70 L591.79,1041.72 L591.75,1040.73 L591.72,1039.75 L591.68,1038.77 L591.65,1037.78 L591.62,1036.80 L591.59,1035.81 L591.55,1034.83 L591.52,1033.85 L591.49,1032.86 L591.47,1031.88 L591.44,1030.89 L591.41,1029.91 L591.38,1028.93 L591.36,1027.94 L591.33,1026.96 L591.31,1025.97 L591.28,1024.99 L591.26,1024.01 L591.24,1023.02 L591.21,1022.04 L591.19,1021.05 L591.17,1020.07 L591.15,1019.09 L591.13,1018.10 L591.11,1017.12 L591.09,1016.13 L591.07,1015.15 L591.05,1014.17 L591.03,1013.18 L591.01,1012.20 L590.99,1011.22 L590.97,1010.23 L590.95,1009.25 L590.93,1008.26 L590.92,1007.28 L590.90,1006.30 L590.88,1005.31 L590.87,1004.33 L590.85,1003.34 L590.83,1002.36 L590.82,1001.38 L590.80,1000.39 L590.78,999.41 L590.77,998.42 L590.75,997.44 L590.73,996.46 L590.72,995.47 L590.70,994.49 L590.69,993.50 L590.67,992.52 L590.66,991.54 L590.64,990.55 L590.63,989.57 L590.61,988.58 L590.60,987.60 L590.58,986.62 L590.57,985.63 L590.55,984.65 L590.54,983.66 L590.52,982.68 L590.51,981.70 L590.49,980.71 L590.48,979.73 L590.46,978.74 L590.45,977.76 L590.43,976.78 L590.42,975.79 L590.41,974.81 L590.39,973.82 L590.38,972.84 L590.36,971.86 L590.35,970.87 L590.34,969.89 L590.32,968.90 L590.31,967.92 L590.30,966.94 L590.28,965.95 L590.27,964.97 L590.26,963.98 L590.24,963.00 L590.23,962.02 L590.22,961.03 L590.20,960.05 L590.19,959.07 L590.18,958.08 L590.17,957.10 L590.15,956.11 L590.14,955.13 L590.13,954.15 L590.12,953.16 L590.11,952.18 L590.09,951.19 L590.08,950.21 L590.07,949.23 L590.06,948.24 L590.05,947.26 L590.04,946.27 L590.03,945.29 L590.02,944.31 L590.01,943.32 L590.00,942.34 L589.99,941.35 L589.98,940.37 L589.97,939.39 L589.96,938.40 L589.95,937.42 L589.94,936.43 L589.93,935.45 L589.92,934.47 L589.91,933.48 L589.90,932.50 L589.89,931.51 L589.88,930.53 L589.88,929.55 L589.87,928.56 L589.86,927.58 L589.85,926.59 L589.84,925.61 L589.84,924.63 L589.83,923.64 L589.82,922.66 L589.82,921.67 L589.81,920.69 L589.80,919.71 L589.80,918.72 L589.79,917.74 L589.78,916.75 L589.78,915.77 L589.77,914.79 L589.77,913.80 L589.76,912.82 L589.75,911.83 L589.75,910.85 L589.74,909.87 L589.74,908.88 L589.73,907.90 L589.60,907.90 L589.60,1300.50 Z" fill="#e8e8e8"/>
<path d="M656.43,1300.50 L656.60,1299.52 L656.61,1298.53 L656.47,1297.55 L656.17,1296.56 L655.74,1295.58 L655.16,1294.60 L654.47,1293.61 L653.67,1292.63 L652.77,1291.64 L651.79,1290.66 L650.75,1289.68 L649.66,1288.69 L648.53,1287.71 L647.39,1286.72 L646.25,1285.74 L645.13,1284.76 L644.04,1283.77 L643.00,1282.79 L642.03,1281.80 L641.13,1280.82 L640.33,1279.84 L639.62,1278.85 L639.03,1277.87 L638.57,1276.88 L638.23,1275.90 L638.02,1274.92 L637.96,1273.93 L638.04,1272.95 L638.26,1271.97 L638.62,1270.98 L639.13,1270.00 L639.78,1269.01 L640.56,1268.03 L641.47,1267.05 L642.50,1266.06 L643.65,1265.08 L644.90,1264.09 L646.24,1263.11 L647.67,1262.13 L649.18,1261.14 L650.74,1260.16 L652.35,1259.17 L654.00,1258.19 L655.66,1257.21 L657.34,1256.22 L659.02,1255.24 L660.68,1254.25 L662.31,1253.27 L663.89,1252.29 L665.43,1251.30 L666.90,1250.32 L668.29,1249.33 L669.60,1248.35 L670.81,1247.37 L671.92,1246.38 L672.92,1245.40 L673.80,1244.41 L674.55,1243.43 L675.18,1242.45 L675.67,1241.46 L676.03,1240.48 L676.25,1239.49 L676.33,1238.51 L676.27,1237.53 L676.07,1236.54 L675.74,1235.56 L675.28,1234.57 L674.68,1233.59 L673.96,1232.61 L673.13,1231.62 L672.18,1230.64 L671.12,1229.65 L669.96,1228.67 L668.71,1227.69 L667.37,1226.70 L665.96,1225.72 L664.48,1224.73 L662.94,1223.75 L661.35,1222.77 L659.72,1221.78 L658.06,1220.80 L656.36,1219.82 L654.65,1218.83 L652.93,1217.85 L651.21,1216.86 L649.50,1215.88 L647.79,1214.90 L646.11,1213.91 L644.45,1212.93 L642.81,1211.94 L641.22,1210.96 L639.66,1209.98 L638.14,1208.99 L636.67,1208.01 L635.24,1207.02 L633.87,1206.04 L632.55,1205.06 L631.28,1204.07 L630.06,1203.09 L628.90,1202.10 L627.79,1201.12 L626.73,1200.14 L625.73,1199.15 L624.78,1198.17 L623.87,1197.18 L623.02,1196.20 L622.21,1195.22 L621.44,1194.23 L620.72,1193.25 L620.04,1192.26 L619.39,1191.28 L618.77,1190.30 L618.19,1189.31 L617.64,1188.33 L617.12,1187.34 L616.62,1186.36 L616.14,1185.38 L615.68,1184.39 L615.24,1183.41 L614.82,1182.42 L614.41,1181.44 L614.02,1180.46 L613.63,1179.47 L613.25,1178.49 L612.88,1177.50 L612.52,1176.52 L612.17,1175.54 L611.81,1174.55 L611.47,1173.57 L611.12,1172.58 L610.78,1171.60 L610.44,1170.62 L610.10,1169.63 L609.76,1168.65 L609.42,1167.67 L609.08,1166.68 L608.75,1165.70 L608.41,1164.71 L608.08,1163.73 L607.75,1162.75 L607.41,1161.76 L607.08,1160.78 L606.75,1159.79 L606.43,1158.81 L606.10,1157.83 L605.78,1156.84 L605.46,1155.86 L605.14,1154.87 L604.83,1153.89 L604.52,1152.91 L604.22,1151.92 L603.92,1150.94 L603.62,1149.95 L603.33,1148.97 L603.05,1147.99 L602.77,1147.00 L602.49,1146.02 L602.23,1145.03 L601.96,1144.05 L601.71,1143.07 L601.46,1142.08 L601.21,1141.10 L600.98,1140.11 L600.74,1139.13 L600.52,1138.15 L600.30,1137.16 L600.09,1136.18 L599.88,1135.19 L599.69,1134.21 L599.49,1133.23 L599.31,1132.24 L599.12,1131.26 L598.95,1130.27 L598.78,1129.29 L598.61,1128.31 L598.46,1127.32 L598.30,1126.34 L598.15,1125.35 L598.01,1124.37 L597.87,1123.39 L597.74,1122.40 L597.60,1121.42 L597.48,1120.43 L597.35,1119.45 L597.24,1118.47 L597.12,1117.48 L597.01,1116.50 L596.90,1115.52 L596.79,1114.53 L596.69,1113.55 L596.58,1112.56 L596.48,1111.58 L596.39,1110.60 L596.29,1109.61 L596.20,1108.63 L596.11,1107.64 L596.02,1106.66 L595.93,1105.68 L595.84,1104.69 L595.76,1103.71 L595.67,1102.72 L595.59,1101.74 L595.50,1100.76 L595.42,1099.77 L595.34,1098.79 L595.26,1097.80 L595.18,1096.82 L595.10,1095.84 L595.02,1094.85 L594.95,1093.87 L594.87,1092.88 L594.79,1091.90 L594.72,1090.92 L594.64,1089.93 L594.57,1088.95 L594.49,1087.96 L594.42,1086.98 L594.34,1086.00 L594.27,1085.01 L594.20,1084.03 L594.12,1083.04 L594.05,1082.06 L593.98,1081.08 L593.91,1080.09 L593.84,1079.11 L593.77,1078.12 L593.70,1077.14 L593.63,1076.16 L593.57,1075.17 L593.50,1074.19 L593.43,1073.20 L593.37,1072.22 L593.30,1071.24 L593.24,1070.25 L593.18,1069.27 L593.11,1068.28 L593.05,1067.30 L592.99,1066.32 L592.93,1065.33 L592.87,1064.35 L592.82,1063.37 L592.76,1062.38 L592.70,1061.40 L592.65,1060.41 L592.59,1059.43 L592.54,1058.45 L592.49,1057.46 L592.44,1056.48 L592.39,1055.49 L592.34,1054.51 L592.29,1053.53 L592.24,1052.54 L592.20,1051.56 L592.15,1050.57 L592.11,1049.59 L592.06,1048.61 L592.02,1047.62 L591.98,1046.64 L591.94,1045.65 L591.90,1044.67 L591.86,1043.69 L591.82,1042.70 L591.79,1041.72 L591.75,1040.73 L591.72,1039.75 L591.68,1038.77 L591.65,1037.78 L591.62,1036.80 L591.59,1035.81 L591.55,1034.83 L591.52,1033.85 L591.49,1032.86 L591.47,1031.88 L591.44,1030.89 L591.41,1029.91 L591.38,1028.93 L591.36,1027.94 L591.33,1026.96 L591.31,1025.97 L591.28,1024.99 L591.26,1024.01 L591.24,1023.02 L591.21,1022.04 L591.19,1021.05 L591.17,1020.07 L591.15,1019.09 L591.13,1018.10 L591.11,1017.12 L591.09,1016.13 L591.07,1015.15 L591.05,1014.17 L591.03,1013.18 L591.01,1012.20 L590.99,1011.22 L590.97,1010.23 L590.95,1009.25 L590.93,1008.26 L590.92,1007.28 L590.90,1006.30 L590.88,1005.31 L590.87,1004.33 L590.85,1003.34 L590.83,1002.36 L590.82,1001.38 L590.80,1000.39 L590.78,999.41 L590.77,998.42 L590.75,997.44 L590.73,996.46 L590.72,995.47 L590.70,994.49 L590.69,993.50 L590.67,992.52 L590.66,991.54 L590.64,990.55 L590.63,989.57 L590.61,988.58 L590.60,987.60 L590.58,986.62 L590.57,985.63 L590.55,984.65 L590.54,983.66 L590.52,982.68 L590.51,981.70 L590.49,980.71 L590.48,979.73 L590.46,978.74 L590.45,977.76 L590.43,976.78 L590.42,975.79 L590.41,974.81 L590.39,973.82 L590.38,972.84 L590.36,971.86 L590.35,970.87 L590.34,969.89 L590.32,968.90 L590.31,967.92 L590.30,966.94 L590.28,965.95 L590.27,964.97 L590.26,963.98 L590.24,963.00 L590.23,962.02 L590.22,961.03 L590.20,960.05 L590.19,959.07 L590.18,958.08 L590.17,957.10 L590.15,956.11 L590.14,955.13 L590.13,954.15 L590.12,953.16 L590.11,952.18 L590.09,951.19 L590.08,950.21 L590.07,949.23 L590.06,948.24 L590.05,947.26 L590.04,946.27 L590.03,945.29 L590.02,944.31 L590.01,943.32 L590.00,942.34 L589.99,941.35 L589.98,940.37 L589.97,939.39 L589.96,938.40 L589.95,937.42 L589.94,936.43 L589.93,935.45 L589.92,934.47 L589.91,933.48 L589.90,932.50 L589.89,931.51 L589.88,930.53 L589.88,929.55 L589.87,928.56 L589.86,927.58 L589.85,926.59 L589.84,925.61 L589.84,924.63 L589.83,923.64 L589.82,922.66 L589.82,921.67 L589.81,920.69 L589.80,919.71 L589.80,918.72 L589.79,917.74 L589.78,916.75 L589.78,915.77 L589.77,914.79 L589.77,913.80 L589.76,912.82 L589.75,911.83 L589.75,910.85 L589.74,909.87 L589.74,908.88 L589.73,907.90" fill="none" stroke="#d2d2d2" stroke-width="2.4" stroke-linejoin="round"/>
<path d="M503.51,1300.50 L503.60,1299.52 L503.69,1298.53 L503.77,1297.55 L503.85,1296.56 L503.92,1295.58 L503.99,1294.60 L504.07,1293.61 L504.14,1292.63 L504.22,1291.64 L504.30,1290.66 L504.39,1289.68 L504.49,1288.69 L504.59,1287.71 L504.71,1286.72 L504.85,1285.74 L505.00,1284.76 L505.17,1283.77 L505.36,1282.79 L505.58,1281.80 L505.82,1280.82 L506.08,1279.84 L506.37,1278.85 L506.69,1277.87 L507.04,1276.88 L507.42,1275.90 L507.83,1274.92 L508.28,1273.93 L508.76,1272.95 L509.27,1271.97 L509.81,1270.98 L510.39,1270.00 L511.00,1269.01 L511.64,1268.03 L512.31,1267.05 L513.00,1266.06 L513.73,1265.08 L514.48,1264.09 L515.25,1263.11 L516.04,1262.13 L516.84,1261.14 L517.66,1260.16 L518.49,1259.17 L519.33,1258.19 L520.17,1257.21 L521.01,1256.22 L521.84,1255.24 L522.66,1254.25 L523.48,1253.27 L524.27,1252.29 L525.04,1251.30 L525.79,1250.32 L526.51,1249.33 L527.20,1248.35 L527.85,1247.37 L528.46,1246.38 L529.03,1245.40 L529.55,1244.41 L530.03,1243.43 L530.45,1242.45 L530.82,1241.46 L531.14,1240.48 L531.40,1239.49 L531.60,1238.51 L531.74,1237.53 L531.83,1236.54 L531.86,1235.56 L531.84,1234.57 L531.75,1233.59 L531.61,1232.61 L531.42,1231.62 L531.18,1230.64 L530.88,1229.65 L530.54,1228.67 L530.16,1227.69 L529.73,1226.70 L529.26,1225.72 L528.76,1224.73 L528.23,1223.75 L527.67,1222.77 L527.08,1221.78 L526.47,1220.80 L525.84,1219.82 L525.19,1218.83 L524.53,1217.85 L523.87,1216.86 L523.20,1215.88 L522.52,1214.90 L521.85,1213.91 L521.18,1212.93 L520.51,1211.94 L519.85,1210.96 L519.21,1209.98 L518.57,1208.99 L517.94,1208.01 L517.33,1207.02 L516.74,1206.04 L516.16,1205.06 L515.60,1204.07 L515.06,1203.09 L514.54,1202.10 L514.03,1201.12 L513.55,1200.14 L513.08,1199.15 L512.63,1198.17 L512.19,1197.18 L511.78,1196.20 L511.38,1195.22 L511.00,1194.23 L510.63,1193.25 L510.28,1192.26 L509.94,1191.28 L509.61,1190.30 L509.29,1189.31 L508.99,1188.33 L508.69,1187.34 L508.40,1186.36 L508.12,1185.38 L507.85,1184.39 L507.59,1183.41 L507.33,1182.42 L507.07,1181.44 L506.82,1180.46 L506.58,1179.47 L506.33,1178.49 L506.09,1177.50 L505.85,1176.52 L505.61,1175.54 L505.38,1174.55 L505.14,1173.57 L504.91,1172.58 L504.68,1171.60 L504.44,1170.62 L504.21,1169.63 L503.98,1168.65 L503.75,1167.67 L503.52,1166.68 L503.29,1165.70 L503.07,1164.71 L502.84,1163.73 L502.61,1162.75 L502.39,1161.76 L502.17,1160.78 L501.95,1159.79 L501.73,1158.81 L501.51,1157.83 L501.30,1156.84 L501.08,1155.86 L500.87,1154.87 L500.67,1153.89 L500.46,1152.91 L500.26,1151.92 L500.07,1150.94 L499.87,1149.95 L499.68,1148.97 L499.50,1147.99 L499.31,1147.00 L499.14,1146.02 L498.96,1145.03 L498.79,1144.05 L498.62,1143.07 L498.46,1142.08 L498.30,1141.10 L498.15,1140.11 L498.00,1139.13 L497.85,1138.15 L497.70,1137.16 L497.57,1136.18 L497.43,1135.19 L497.30,1134.21 L497.17,1133.23 L497.04,1132.24 L496.92,1131.26 L496.81,1130.27 L496.69,1129.29 L496.58,1128.31 L496.47,1127.32 L496.36,1126.34 L496.26,1125.35 L496.16,1124.37 L496.06,1123.39 L495.96,1122.40 L495.87,1121.42 L495.78,1120.43 L495.69,1119.45 L495.60,1118.47 L495.52,1117.48 L495.43,1116.50 L495.35,1115.52 L495.27,1114.53 L495.19,1113.55 L495.11,1112.56 L495.03,1111.58 L494.96,1110.60 L494.88,1109.61 L494.81,1108.63 L494.74,1107.64 L494.66,1106.66 L494.59,1105.68 L494.52,1104.69 L494.45,1103.71 L494.38,1102.72 L494.31,1101.74 L494.25,1100.76 L494.18,1099.77 L494.11,1098.79 L494.05,1097.80 L493.98,1096.82 L493.92,1095.84 L493.86,1094.85 L493.79,1093.87 L493.73,1092.88 L493.67,1091.90 L493.61,1090.92 L493.55,1089.93 L493.49,1088.95 L493.43,1087.96 L493.37,1086.98 L493.31,1086.00 L493.26,1085.01 L493.20,1084.03 L493.14,1083.04 L493.09,1082.06 L493.04,1081.08 L492.98,1080.09 L492.93,1079.11 L492.88,1078.12 L492.83,1077.14 L492.78,1076.16 L492.73,1075.17 L492.68,1074.19 L492.64,1073.20 L492.59,1072.22 L492.55,1071.24 L492.50,1070.25 L492.46,1069.27 L492.42,1068.28 L492.37,1067.30 L492.33,1066.32 L492.29,1065.33 L492.26,1064.35 L492.22,1063.37 L492.18,1062.38 L492.15,1061.40 L492.11,1060.41 L492.08,1059.43 L492.05,1058.45 L492.01,1057.46 L491.98,1056.48 L491.95,1055.49 L491.93,1054.51 L491.90,1053.53 L491.87,1052.54 L491.84,1051.56 L491.82,1050.57 L491.79,1049.59 L491.77,1048.61 L491.75,1047.62 L491.72,1046.64 L491.70,1045.65 L491.68,1044.67 L491.66,1043.69 L491.64,1042.70 L491.62,1041.72 L491.60,1040.73 L491.58,1039.75 L491.57,1038.77 L491.55,1037.78 L491.53,1036.80 L491.52,1035.81 L491.50,1034.83 L491.49,1033.85 L491.48,1032.86 L491.46,1031.88 L491.45,1030.89 L491.44,1029.91 L491.42,1028.93 L491.41,1027.94 L491.40,1026.96 L491.39,1025.97 L491.38,1024.99 L491.37,1024.01 L491.35,1023.02 L491.34,1022.04 L491.33,1021.05 L491.32,1020.07 L491.31,1019.09 L491.30,1018.10 L491.29,1017.12 L491.29,1016.13 L491.28,1015.15 L491.27,1014.17 L491.26,1013.18 L491.25,1012.20 L491.24,1011.22 L491.23,1010.23 L491.22,1009.25 L491.21,1008.26 L491.21,1007.28 L491.20,1006.30 L491.19,1005.31 L491.18,1004.33 L491.17,1003.34 L491.16,1002.36 L491.15,1001.38 L491.15,1000.39 L491.14,999.41 L491.13,998.42 L491.12,997.44 L491.11,996.46 L491.10,995.47 L491.10,994.49 L491.09,993.50 L491.08,992.52 L491.07,991.54 L491.06,990.55 L491.05,989.57 L491.04,988.58 L491.04,987.60 L491.03,986.62 L491.02,985.63 L491.01,984.65 L491.00,983.66 L490.99,982.68 L490.98,981.70 L490.97,980.71 L490.97,979.73 L490.96,978.74 L490.95,977.76 L490.94,976.78 L490.93,975.79 L490.92,974.81 L490.91,973.82 L490.91,972.84 L490.90,971.86 L490.89,970.87 L490.88,969.89 L490.87,968.90 L490.86,967.92 L490.85,966.94 L490.85,965.95 L490.84,964.97 L490.83,963.98 L490.82,963.00 L490.81,962.02 L490.80,961.03 L490.80,960.05 L490.79,959.07 L490.78,958.08 L490.77,957.10 L490.76,956.11 L490.76,955.13 L490.75,954.15 L490.74,953.16 L490.73,952.18 L490.72,951.19 L490.72,950.21 L490.71,949.23 L490.70,948.24 L490.70,947.26 L490.69,946.27 L490.68,945.29 L490.67,944.31 L490.67,943.32 L490.66,942.34 L490.65,941.35 L490.65,940.37 L490.64,939.39 L490.63,938.40 L490.63,937.42 L490.62,936.43 L490.62,935.45 L490.61,934.47 L490.60,933.48 L490.60,932.50 L490.59,931.51 L490.59,930.53 L490.58,929.55 L490.58,928.56 L490.57,927.58 L490.57,926.59 L490.56,925.61 L490.56,924.63 L490.55,923.64 L490.55,922.66 L490.54,921.67 L490.54,920.69 L490.53,919.71 L490.53,918.72 L490.52,917.74 L490.52,916.75 L490.52,915.77 L490.51,914.79 L490.51,913.80 L490.51,912.82 L490.50,911.83 L490.50,910.85 L490.49,909.87 L490.49,908.88 L490.49,907.90" fill="none" stroke="#0000ff" stroke-width="2.6" stroke-linejoin="round"/>
<path d="M533.83,1300.50 L533.88,1299.52 L533.84,1298.53 L533.70,1297.55 L533.47,1296.56 L533.15,1295.58 L532.75,1294.60 L532.27,1293.61 L531.72,1292.63 L531.10,1291.64 L530.42,1290.66 L529.69,1289.68 L528.91,1288.69 L528.10,1287.71 L527.26,1286.72 L526.40,1285.74 L525.53,1284.76 L524.65,1283.77 L523.78,1282.79 L522.93,1281.80 L522.09,1280.82 L521.29,1279.84 L520.52,1278.85 L519.78,1277.87 L519.10,1276.88 L518.47,1275.90 L517.89,1274.92 L517.38,1273.93 L516.93,1272.95 L516.54,1271.97 L516.22,1270.98 L515.97,1270.00 L515.79,1269.01 L515.69,1268.03 L515.64,1267.05 L515.67,1266.06 L515.76,1265.08 L515.92,1264.09 L516.14,1263.11 L516.41,1262.13 L516.73,1261.14 L517.11,1260.16 L517.53,1259.17 L517.99,1258.19 L518.49,1257.21 L519.01,1256.22 L519.57,1255.24 L520.14,1254.25 L520.72,1253.27 L521.32,1252.29 L521.92,1251.30 L522.52,1250.32 L523.12,1249.33 L523.70,1248.35 L524.28,1247.37 L524.83,1246.38 L525.36,1245.40 L525.86,1244.41 L526.34,1243.43 L526.78,1242.45 L527.18,1241.46 L527.55,1240.48 L527.87,1239.49 L528.15,1238.51 L528.39,1237.53 L528.58,1236.54 L528.73,1235.56 L528.83,1234.57 L528.88,1233.59 L528.89,1232.61 L528.85,1231.62 L528.77,1230.64 L528.64,1229.65 L528.47,1228.67 L528.25,1227.69 L528.00,1226.70 L527.71,1225.72 L527.39,1224.73 L527.03,1223.75 L526.64,1222.77 L526.22,1221.78 L525.78,1220.80 L525.31,1219.82 L524.82,1218.83 L524.32,1217.85 L523.79,1216.86 L523.26,1215.88 L522.72,1214.90 L522.16,1213.91 L521.60,1212.93 L521.04,1211.94 L520.48,1210.96 L519.92,1209.98 L519.36,1208.99 L518.80,1208.01 L518.25,1207.02 L517.71,1206.04 L517.17,1205.06 L516.64,1204.07 L516.13,1203.09 L515.62,1202.10 L515.13,1201.12 L514.64,1200.14 L514.17,1199.15 L513.72,1198.17 L513.27,1197.18 L512.84,1196.20 L512.42,1195.22 L512.01,1194.23 L511.61,1193.25 L511.23,1192.26 L510.85,1191.28 L510.49,1190.30 L510.14,1189.31 L509.79,1188.33 L509.46,1187.34 L509.13,1186.36 L508.81,1185.38 L508.50,1184.39 L508.20,1183.41 L507.90,1182.42 L507.61,1181.44 L507.32,1180.46 L507.04,1179.47 L506.76,1178.49 L506.49,1177.50 L506.22,1176.52 L505.95,1175.54 L505.69,1174.55 L505.43,1173.57 L505.17,1172.58 L504.91,1171.60 L504.66,1170.62 L504.41,1169.63 L504.16,1168.65 L503.91,1167.67 L503.67,1166.68 L503.42,1165.70 L503.18,1164.71 L502.94,1163.73 L502.71,1162.75 L502.47,1161.76 L502.24,1160.78 L502.01,1159.79 L501.79,1158.81 L501.56,1157.83 L501.34,1156.84 L501.12,1155.86 L500.91,1154.87 L500.70,1153.89 L500.49,1152.91 L500.29,1151.92 L500.09,1150.94 L499.89,1149.95 L499.70,1148.97 L499.51,1147.99 L499.33,1147.00 L499.15,1146.02 L498.97,1145.03 L498.80,1144.05 L498.63,1143.07 L498.47,1142.08 L498.31,1141.10 L498.15,1140.11 L498.00,1139.13 L497.85,1138.15 L497.71,1137.16 L497.57,1136.18 L497.43,1135.19 L497.30,1134.21 L497.17,1133.23 L497.05,1132.24 L496.92,1131.26 L496.81,1130.27 L496.69,1129.29 L496.58,1128.31 L496.47,1127.32 L496.36,1126.34 L496.26,1125.35 L496.16,1124.37 L496.06,1123.39 L495.97,1122.40 L495.87,1121.42 L495.78,1120.43 L495.69,1119.45 L495.60,1118.47 L495.52,1117.48 L495.43,1116.50 L495.35,1115.52 L495.27,1114.53 L495.19,1113.55 L495.11,1112.56 L495.03,1111.58 L494.96,1110.60 L494.88,1109.61 L494.81,1108.63 L494.74,1107.64 L494.66,1106.66 L494.59,1105.68 L494.52,1104.69 L494.45,1103.71 L494.38,1102.72 L494.31,1101.74 L494.25,1100.76 L494.18,1099.77 L494.11,1098.79 L494.05,1097.80 L493.98,1096.82 L493.92,1095.84 L493.86,1094.85 L493.79,1093.87 L493.73,1092.88 L493.67,1091.90 L493.61,1090.92 L493.55,1089.93 L493.49,1088.95 L493.43,1087.96 L493.37,1086.98 L493.31,1086.00 L493.26,1085.01 L493.20,1084.03 L493.14,1083.04 L493.09,1082.06 L493.04,1081.08 L492.98,1080.09 L492.93,1079.11 L492.88,1078.12 L492.83,1077.14 L492.78,1076.16 L492.73,1075.17 L492.68,1074.19 L492.64,1073.20 L492.59,1072.22 L492.55,1071.24 L492.50,1070.25 L492.46,1069.27 L492.42,1068.28 L492.37,1067.30 L492.33,1066.32 L492.29,1065.33 L492.26,1064.35 L492.22,1063.37 L492.18,1062.38 L492.15,1061.40 L492.11,1060.41 L492.08,1059.43 L492.05,1058.45 L492.01,1057.46 L491.98,1056.48 L491.95,1055.49 L491.93,1054.51 L491.90,1053.53 L491.87,1052.54 L491.84,1051.56 L491.82,1050.57 L491.79,1049.59 L491.77,1048.61 L491.75,1047.62 L491.72,1046.64 L491.70,1045.65 L491.68,1044.67 L491.66,1043.69 L491.64,1042.70 L491.62,1041.72 L491.60,1040.73 L491.58,1039.75 L491.57,1038.77 L491.55,1037.78 L491.53,1036.80 L491.52,1035.81 L491.50,1034.83 L491.49,1033.85 L491.48,1032.86 L491.46,1031.88 L491.45,1030.89 L491.44,1029.91 L491.42,1028.93 L491.41,1027.94 L491.40,1026.96 L491.39,1025.97 L491.38,1024.99 L491.37,1024.01 L491.35,1023.02 L491.34,1022.04 L491.33,1021.05 L491.32,1020.07 L491.31,1019.09 L491.30,1018.10 L491.29,1017.12 L491.29,1016.13 L491.28,1015.15 L491.27,1014.17 L491.26,1013.18 L491.25,1012.20 L491.24,1011.22 L491.23,1010.23 L491.22,1009.25 L491.21,1008.26 L491.21,1007.28 L491.20,1006.30 L491.19,1005.31 L491.18,1004.33 L491.17,1003.34 L491.16,1002.36 L491.15,1001.38 L491.15,1000.39 L491.14,999.41 L491.13,998.42 L491.12,997.44 L491.11,996.46 L491.10,995.47 L491.10,994.49 L491.09,993.50 L491.08,992.52 L491.07,991.54 L491.06,990.55 L491.05,989.57 L491.04,988.58 L491.04,987.60 L491.03,986.62 L491.02,985.63 L491.01,984.65 L491.00,983.66 L490.99,982.68 L490.98,981.70 L490.97,980.71 L490.97,979.73 L490.96,978.74 L490.95,977.76 L490.94,976.78 L490.93,975.79 L490.92,974.81 L490.91,973.82 L490.91,972.84 L490.90,971.86 L490.89,970.87 L490.88,969.89 L490.87,968.90 L490.86,967.92 L490.85,966.94 L490.85,965.95 L490.84,964.97 L490.83,963.98 L490.82,963.00 L490.81,962.02 L490.80,961.03 L490.80,960.05 L490.79,959.07 L490.78,958.08 L490.77,957.10 L490.76,956.11 L490.76,955.13 L490.75,954.15 L490.74,953.16 L490.73,952.18 L490.72,951.19 L490.72,950.21 L490.71,949.23 L490.70,948.24 L490.70,947.26 L490.69,946.27 L490.68,945.29 L490.67,944.31 L490.67,943.32 L490.66,942.34 L490.65,941.35 L490.65,940.37 L490.64,939.39 L490.63,938.40 L490.63,937.42 L490.62,936.43 L490.62,935.45 L490.61,934.47 L490.60,933.48 L490.60,932.50 L490.59,931.51 L490.59,930.53 L490.58,929.55 L490.58,928.56 L490.57,927.58 L490.57,926.59 L490.56,925.61 L490.56,924.63 L490.55,923.64 L490.55,922.66 L490.54,921.67 L490.54,920.69 L490.53,919.71 L490.53,918.72 L490.52,917.74 L490.52,916.75 L490.52,915.77 L490.51,914.79 L490.51,913.80 L490.51,912.82 L490.50,911.83 L490.50,910.85 L490.49,909.87 L490.49,908.88 L490.49,907.90" fill="none" stroke="#ff0000" stroke-width="2.6" stroke-linejoin="round"/>
<path d="M501.15,1300.50 L501.24,1299.52 L501.32,1298.53 L501.40,1297.55 L501.48,1296.56 L501.56,1295.58 L501.64,1294.60 L501.72,1293.61 L501.80,1292.63 L501.89,1291.64 L501.99,1290.66 L502.09,1289.68 L502.20,1288.69 L502.32,1287.71 L502.46,1286.72 L502.61,1285.74 L502.78,1284.76 L502.97,1283.77 L503.17,1282.79 L503.40,1281.80 L503.65,1280.82 L503.93,1279.84 L504.23,1278.85 L504.56,1277.87 L504.92,1276.88 L505.30,1275.90 L505.72,1274.92 L506.17,1273.93 L506.64,1272.95 L507.15,1271.97 L507.69,1270.98 L508.26,1270.00 L508.85,1269.01 L509.48,1268.03 L510.13,1267.05 L510.81,1266.06 L511.51,1265.08 L512.23,1264.09 L512.98,1263.11 L513.74,1262.13 L514.51,1261.14 L515.30,1260.16 L516.10,1259.17 L516.90,1258.19 L517.70,1257.21 L518.50,1256.22 L519.29,1255.24 L520.08,1254.25 L520.85,1253.27 L521.61,1252.29 L522.35,1251.30 L523.06,1250.32 L523.74,1249.33 L524.40,1248.35 L525.02,1247.37 L525.60,1246.38 L526.14,1245.40 L526.63,1244.41 L527.09,1243.43 L527.49,1242.45 L527.84,1241.46 L528.15,1240.48 L528.40,1239.49 L528.59,1238.51 L528.74,1237.53 L528.83,1236.54 L528.86,1235.56 L528.84,1234.57 L528.77,1233.59 L528.65,1232.61 L528.48,1231.62 L528.25,1230.64 L527.99,1229.65 L527.68,1228.67 L527.32,1227.69 L526.93,1226.70 L526.50,1225.72 L526.04,1224.73 L525.55,1223.75 L525.03,1222.77 L524.48,1221.78 L523.92,1220.80 L523.34,1219.82 L522.74,1218.83 L522.14,1217.85 L521.52,1216.86 L520.90,1215.88 L520.28,1214.90 L519.66,1213.91 L519.04,1212.93 L518.42,1211.94 L517.81,1210.96 L517.21,1209.98 L516.63,1208.99 L516.05,1208.01 L515.49,1207.02 L514.94,1206.04 L514.40,1205.06 L513.89,1204.07 L513.39,1203.09 L512.91,1202.10 L512.44,1201.12 L511.99,1200.14 L511.56,1199.15 L511.15,1198.17 L510.75,1197.18 L510.37,1196.20 L510.00,1195.22 L509.65,1194.23 L509.31,1193.25 L508.99,1192.26 L508.67,1191.28 L508.37,1190.30 L508.08,1189.31 L507.81,1188.33 L507.54,1187.34 L507.27,1186.36 L507.02,1185.38 L506.77,1184.39 L506.53,1183.41 L506.29,1182.42 L506.06,1181.44 L505.83,1180.46 L505.61,1179.47 L505.38,1178.49 L505.16,1177.50 L504.95,1176.52 L504.73,1175.54 L504.52,1174.55 L504.30,1173.57 L504.09,1172.58 L503.88,1171.60 L503.67,1170.62 L503.46,1169.63 L503.25,1168.65 L503.04,1167.67 L502.83,1166.68 L502.62,1165.70 L502.41,1164.71 L502.21,1163.73 L502.00,1162.75 L501.80,1161.76 L501.60,1160.78 L501.39,1159.79 L501.20,1158.81 L501.00,1157.83 L500.80,1156.84 L500.61,1155.86 L500.42,1154.87 L500.23,1153.89 L500.04,1152.91 L499.86,1151.92 L499.68,1150.94 L499.50,1149.95 L499.33,1148.97 L499.16,1147.99 L498.99,1147.00 L498.83,1146.02 L498.67,1145.03 L498.51,1144.05 L498.36,1143.07 L498.21,1142.08 L498.06,1141.10 L497.92,1140.11 L497.78,1139.13 L497.65,1138.15 L497.51,1137.16 L497.38,1136.18 L497.26,1135.19 L497.14,1134.21 L497.02,1133.23 L496.90,1132.24 L496.79,1131.26 L496.68,1130.27 L496.57,1129.29 L496.47,1128.31 L496.37,1127.32 L496.27,1126.34 L496.17,1125.35 L496.07,1124.37 L495.98,1123.39 L495.89,1122.40 L495.80,1121.42 L495.72,1120.43 L495.63,1119.45 L495.55,1118.47 L495.47,1117.48 L495.39,1116.50 L495.31,1115.52 L495.23,1114.53 L495.15,1113.55 L495.08,1112.56 L495.00,1111.58 L494.93,1110.60 L494.86,1109.61 L494.78,1108.63 L494.71,1107.64 L494.64,1106.66 L494.57,1105.68 L494.50,1104.69 L494.44,1103.71 L494.37,1102.72 L494.30,1101.74 L494.24,1100.76 L494.17,1099.77 L494.10,1098.79 L494.04,1097.80 L493.98,1096.82 L493.91,1095.84 L493.85,1094.85 L493.79,1093.87 L493.73,1092.88 L493.66,1091.90 L493.60,1090.92 L493.54,1089.93 L493.48,1088.95 L493.43,1087.96 L493.37,1086.98 L493.31,1086.00 L493.25,1085.01 L493.20,1084.03 L493.14,1083.04 L493.09,1082.06 L493.03,1081.08 L492.98,1080.09 L492.93,1079.11 L492.88,1078.12 L492.83,1077.14 L492.78,1076.16 L492.73,1075.17 L492.68,1074.19 L492.64,1073.20 L492.59,1072.22 L492.54,1071.24 L492.50,1070.25 L492.46,1069.27 L492.42,1068.28 L492.37,1067.30 L492.33,1066.32 L492.29,1065.33 L492.26,1064.35 L492.22,1063.37 L492.18,1062.38 L492.15,1061.40 L492.11,1060.41 L492.08,1059.43 L492.05,1058.45 L492.01,1057.46 L491.98,1056.48 L491.95,1055.49 L491.92,1054.51 L491.90,1053.53 L491.87,1052.54 L491.84,1051.56 L491.82,1050.57 L491.79,1049.59 L491.77,1048.61 L491.75,1047.62 L491.72,1046.64 L491.70,1045.65 L491.68,1044.67 L491.66,1043.69 L491.64,1042.70 L491.62,1041.72 L491.60,1040.73 L491.58,1039.75 L491.57,1038.77 L491.55,1037.78 L491.53,1036.80 L491.52,1035.81 L491.50,1034.83 L491.49,1033.85 L491.48,1032.86 L491.46,1031.88 L491.45,1030.89 L491.44,1029.91 L491.42,1028.93 L491.41,1027.94 L491.40,1026.96 L491.39,1025.97 L491.38,1024.99 L491.37,1024.01 L491.35,1023.02 L491.34,1022.04 L491.33,1021.05 L491.32,1020.07 L491.31,1019.09 L491.30,1018.10 L491.29,1017.12 L491.29,1016.13 L491.28,1015.15 L491.27,1014.17 L491.26,1013.18 L491.25,1012.20 L491.24,1011.22 L491.23,1010.23 L491.22,1009.25 L491.21,1008.26 L491.21,1007.28 L491.20,1006.30 L491.19,1005.31 L491.18,1004.33 L491.17,1003.34 L491.16,1002.36 L491.15,1001.38 L491.15,1000.39 L491.14,999.41 L491.13,998.42 L491.12,997.44 L491.11,996.46 L491.10,995.47 L491.10,994.49 L491.09,993.50 L491.08,992.52 L491.07,991.54 L491.06,990.55 L491.05,989.57 L491.04,988.58 L491.04,987.60 L491.03,986.62 L491.02,985.63 L491.01,984.65 L491.00,983.66 L490.99,982.68 L490.98,981.70 L490.97,980.71 L490.97,979.73 L490.96,978.74 L490.95,977.76 L490.94,976.78 L490.93,975.79 L490.92,974.81 L490.91,973.82 L490.91,972.84 L490.90,971.86 L490.89,970.87 L490.88,969.89 L490.87,968.90 L490.86,967.92 L490.85,966.94 L490.85,965.95 L490.84,964.97 L490.83,963.98 L490.82,963.00 L490.81,962.02 L490.80,961.03 L490.80,960.05 L490.79,959.07 L490.78,958.08 L490.77,957.10 L490.76,956.11 L490.76,955.13 L490.75,954.15 L490.74,953.16 L490.73,952.18 L490.72,951.19 L490.72,950.21 L490.71,949.23 L490.70,948.24 L490.70,947.26 L490.69,946.27 L490.68,945.29 L490.67,944.31 L490.67,943.32 L490.66,942.34 L490.65,941.35 L490.65,940.37 L490.64,939.39 L490.63,938.40 L490.63,937.42 L490.62,936.43 L490.62,935.45 L490.61,934.47 L490.60,933.48 L490.60,932.50 L490.59,931.51 L490.59,930.53 L490.58,929.55 L490.58,928.56 L490.57,927.58 L490.57,926.59 L490.56,925.61 L490.56,924.63 L490.55,923.64 L490.55,922.66 L490.54,921.67 L490.54,920.69 L490.53,919.71 L490.53,918.72 L490.52,917.74 L490.52,916.75 L490.52,915.77 L490.51,914.79 L490.51,913.80 L490.51,912.82 L490.50,911.83 L490.50,910.85 L490.49,909.87 L490.49,908.88 L490.49,907.90" fill="none" stroke="#008000" stroke-width="2.6" stroke-linejoin="round"/>
<path d="M593.17,1300.50 L593.43,1299.52 L593.70,1298.53 L594.00,1297.55 L594.32,1296.56 L594.67,1295.58 L595.05,1294.60 L595.46,1293.61 L595.91,1292.63 L596.40,1291.64 L596.93,1290.66 L597.51,1289.68 L598.14,1288.69 L598.81,1287.71 L599.55,1286.72 L600.33,1285.74 L601.18,1284.76 L602.10,1283.77 L603.08,1282.79 L604.12,1281.80 L605.23,1280.82 L606.42,1279.84 L607.67,1278.85 L608.99,1277.87 L610.39,1276.88 L611.85,1275.90 L613.39,1274.92 L614.99,1273.93 L616.66,1272.95 L618.40,1271.97 L620.19,1270.98 L622.05,1270.00 L623.95,1269.01 L625.91,1268.03 L627.90,1267.05 L629.94,1266.06 L632.00,1265.08 L634.10,1264.09 L636.20,1263.11 L638.32,1262.13 L640.44,1261.14 L642.56,1260.16 L644.66,1259.17 L646.74,1258.19 L648.79,1257.21 L650.80,1256.22 L652.75,1255.24 L654.65,1254.25 L656.49,1253.27 L658.24,1252.29 L659.92,1251.30 L661.50,1250.32 L662.99,1249.33 L664.37,1248.35 L665.63,1247.37 L666.78,1246.38 L667.80,1245.40 L668.70,1244.41 L669.46,1243.43 L670.09,1242.45 L670.59,1241.46 L670.94,1240.48 L671.15,1239.49 L671.23,1238.51 L671.16,1237.53 L670.96,1236.54 L670.62,1235.56 L670.16,1234.57 L669.56,1233.59 L668.85,1232.61 L668.01,1231.62 L667.07,1230.64 L666.02,1229.65 L664.88,1228.67 L663.65,1227.69 L662.33,1226.70 L660.94,1225.72 L659.49,1224.73 L657.97,1223.75 L656.41,1222.77 L654.81,1221.78 L653.17,1220.80 L651.51,1219.82 L649.83,1218.83 L648.15,1217.85 L646.46,1216.86 L644.78,1215.88 L643.11,1214.90 L641.45,1213.91 L639.82,1212.93 L638.22,1211.94 L636.65,1210.96 L635.12,1209.98 L633.63,1208.99 L632.19,1208.01 L630.79,1207.02 L629.44,1206.04 L628.14,1205.06 L626.89,1204.07 L625.70,1203.09 L624.56,1202.10 L623.47,1201.12 L622.43,1200.14 L621.45,1199.15 L620.51,1198.17 L619.62,1197.18 L618.78,1196.20 L617.99,1195.22 L617.24,1194.23 L616.53,1193.25 L615.86,1192.26 L615.23,1191.28 L614.63,1190.30 L614.07,1189.31 L613.53,1188.33 L613.03,1187.34 L612.55,1186.36 L612.09,1185.38 L611.65,1184.39 L611.23,1183.41 L610.83,1182.42 L610.45,1181.44 L610.08,1180.46 L609.72,1179.47 L609.37,1178.49 L609.03,1177.50 L608.69,1176.52 L608.37,1175.54 L608.05,1174.55 L607.73,1173.57 L607.42,1172.58 L607.11,1171.60 L606.81,1170.62 L606.51,1169.63 L606.21,1168.65 L605.91,1167.67 L605.61,1166.68 L605.31,1165.70 L605.02,1164.71 L604.73,1163.73 L604.44,1162.75 L604.15,1161.76 L603.86,1160.78 L603.57,1159.79 L603.29,1158.81 L603.01,1157.83 L602.73,1156.84 L602.45,1155.86 L602.18,1154.87 L601.91,1153.89 L601.64,1152.91 L601.38,1151.92 L601.12,1150.94 L600.86,1149.95 L600.61,1148.97 L600.37,1147.99 L600.13,1147.00 L599.89,1146.02 L599.66,1145.03 L599.44,1144.05 L599.22,1143.07 L599.00,1142.08 L598.79,1141.10 L598.59,1140.11 L598.39,1139.13 L598.20,1138.15 L598.01,1137.16 L597.83,1136.18 L597.66,1135.19 L597.49,1134.21 L597.32,1133.23 L597.17,1132.24 L597.01,1131.26 L596.86,1130.27 L596.72,1129.29 L596.58,1128.31 L596.45,1127.32 L596.32,1126.34 L596.20,1125.35 L596.07,1124.37 L595.96,1123.39 L595.85,1122.40 L595.74,1121.42 L595.63,1120.43 L595.53,1119.45 L595.43,1118.47 L595.34,1117.48 L595.25,1116.50 L595.16,1115.52 L595.07,1114.53 L594.99,1113.55 L594.91,1112.56 L594.83,1111.58 L594.75,1110.60 L594.67,1109.61 L594.60,1108.63 L594.53,1107.64 L594.46,1106.66 L594.39,1105.68 L594.32,1104.69 L594.25,1103.71 L594.19,1102.72 L594.12,1101.74 L594.06,1100.76 L594.00,1099.77 L593.94,1098.79 L593.88,1097.80 L593.82,1096.82 L593.76,1095.84 L593.70,1094.85 L593.64,1093.87 L593.58,1092.88 L593.52,1091.90 L593.47,1090.92 L593.41,1089.93 L593.35,1088.95 L593.30,1087.96 L593.24,1086.98 L593.19,1086.00 L593.13,1085.01 L593.08,1084.03 L593.03,1083.04 L592.98,1082.06 L592.92,1081.08 L592.87,1080.09 L592.82,1079.11 L592.77,1078.12 L592.72,1077.14 L592.67,1076.16 L592.62,1075.17 L592.57,1074.19 L592.52,1073.20 L592.47,1072.22 L592.43,1071.24 L592.38,1070.25 L592.33,1069.27 L592.29,1068.28 L592.24,1067.30 L592.20,1066.32 L592.16,1065.33 L592.11,1064.35 L592.07,1063.37 L592.03,1062.38 L591.99,1061.40 L591.95,1060.41 L591.91,1059.43 L591.87,1058.45 L591.83,1057.46 L591.80,1056.48 L591.76,1055.49 L591.72,1054.51 L591.69,1053.53 L591.65,1052.54 L591.62,1051.56 L591.59,1050.57 L591.55,1049.59 L591.52,1048.61 L591.49,1047.62 L591.46,1046.64 L591.43,1045.65 L591.40,1044.67 L591.38,1043.69 L591.35,1042.70 L591.32,1041.72 L591.30,1040.73 L591.27,1039.75 L591.24,1038.77 L591.22,1037.78 L591.20,1036.80 L591.17,1035.81 L591.15,1034.83 L591.13,1033.85 L591.11,1032.86 L591.09,1031.88 L591.06,1030.89 L591.04,1029.91 L591.02,1028.93 L591.01,1027.94 L590.99,1026.96 L590.97,1025.97 L590.95,1024.99 L590.93,1024.01 L590.91,1023.02 L590.90,1022.04 L590.88,1021.05 L590.86,1020.07 L590.85,1019.09 L590.83,1018.10 L590.82,1017.12 L590.80,1016.13 L590.79,1015.15 L590.77,1014.17 L590.76,1013.18 L590.74,1012.20 L590.73,1011.22 L590.71,1010.23 L590.70,1009.25 L590.69,1008.26 L590.67,1007.28 L590.66,1006.30 L590.64,1005.31 L590.63,1004.33 L590.62,1003.34 L590.60,1002.36 L590.59,1001.38 L590.58,1000.39 L590.57,999.41 L590.55,998.42 L590.54,997.44 L590.53,996.46 L590.52,995.47 L590.50,994.49 L590.49,993.50 L590.48,992.52 L590.47,991.54 L590.45,990.55 L590.44,989.57 L590.43,988.58 L590.42,987.60 L590.41,986.62 L590.39,985.63 L590.38,984.65 L590.37,983.66 L590.36,982.68 L590.35,981.70 L590.33,980.71 L590.32,979.73 L590.31,978.74 L590.30,977.76 L590.29,976.78 L590.28,975.79 L590.26,974.81 L590.25,973.82 L590.24,972.84 L590.23,971.86 L590.22,970.87 L590.21,969.89 L590.20,968.90 L590.18,967.92 L590.17,966.94 L590.16,965.95 L590.15,964.97 L590.14,963.98 L590.13,963.00 L590.12,962.02 L590.11,961.03 L590.10,960.05 L590.09,959.07 L590.08,958.08 L590.07,957.10 L590.06,956.11 L590.05,955.13 L590.04,954.15 L590.03,953.16 L590.02,952.18 L590.01,951.19 L590.00,950.21 L589.99,949.23 L589.98,948.24 L589.97,947.26 L589.96,946.27 L589.95,945.29 L589.94,944.31 L589.93,943.32 L589.93,942.34 L589.92,941.35 L589.91,940.37 L589.90,939.39 L589.89,938.40 L589.89,937.42 L589.88,936.43 L589.87,935.45 L589.86,934.47 L589.86,933.48 L589.85,932.50 L589.84,931.51 L589.83,930.53 L589.83,929.55 L589.82,928.56 L589.81,927.58 L589.81,926.59 L589.80,925.61 L589.80,924.63 L589.79,923.64 L589.78,922.66 L589.78,921.67 L589.77,920.69 L589.77,919.71 L589.76,918.72 L589.76,917.74 L589.75,916.75 L589.75,915.77 L589.74,914.79 L589.74,913.80 L589.73,912.82 L589.73,911.83 L589.72,910.85 L589.72,909.87 L589.71,908.88 L589.71,907.90" fill="none" stroke="#00ffff" stroke-width="2.6" stroke-linejoin="round"/>
<path d="M640.52,1300.50 L640.49,1299.52 L640.34,1298.53 L640.05,1297.55 L639.64,1296.56 L639.10,1295.58 L638.44,1294.60 L637.66,1293.61 L636.78,1292.63 L635.79,1291.64 L634.71,1290.66 L633.55,1289.68 L632.31,1288.69 L631.01,1287.71 L629.65,1286.72 L628.24,1285.74 L626.79,1284.76 L625.32,1283.77 L623.83,1282.79 L622.32,1281.80 L620.82,1280.82 L619.33,1279.84 L617.85,1278.85 L616.39,1277.87 L614.96,1276.88 L613.57,1275.90 L612.22,1274.92 L610.91,1273.93 L609.66,1272.95 L608.45,1271.97 L607.31,1270.98 L606.22,1270.00 L605.19,1269.01 L604.22,1268.03 L603.31,1267.05 L602.46,1266.06 L601.67,1265.08 L600.94,1264.09 L600.26,1263.11 L599.64,1262.13 L599.08,1261.14 L598.56,1260.16 L598.10,1259.17 L597.68,1258.19 L597.30,1257.21 L596.96,1256.22 L596.66,1255.24 L596.40,1254.25 L596.17,1253.27 L595.96,1252.29 L595.79,1251.30 L595.64,1250.32 L595.51,1249.33 L595.40,1248.35 L595.31,1247.37 L595.24,1246.38 L595.17,1245.40 L595.13,1244.41 L595.09,1243.43 L595.06,1242.45 L595.03,1241.46 L595.02,1240.48 L595.01,1239.49 L595.00,1238.51 L595.00,1237.53 L595.00,1236.54 L595.00,1235.56 L595.00,1234.57 L595.00,1233.59 L595.00,1232.61 L595.00,1231.62 L595.00,1230.64 L595.00,1229.65 L595.00,1228.67 L594.99,1227.69 L594.99,1226.70 L594.98,1225.72 L594.97,1224.73 L594.95,1223.75 L594.94,1222.77 L594.92,1221.78 L594.90,1220.80 L594.88,1219.82 L594.85,1218.83 L594.82,1217.85 L594.79,1216.86 L594.76,1215.88 L594.73,1214.90 L594.69,1213.91 L594.65,1212.93 L594.61,1211.94 L594.57,1210.96 L594.52,1209.98 L594.48,1208.99 L594.43,1208.01 L594.38,1207.02 L594.33,1206.04 L594.28,1205.06 L594.22,1204.07 L594.17,1203.09 L594.11,1202.10 L594.06,1201.12 L594.00,1200.14 L593.94,1199.15 L593.89,1198.17 L593.83,1197.18 L593.77,1196.20 L593.71,1195.22 L593.65,1194.23 L593.59,1193.25 L593.53,1192.26 L593.47,1191.28 L593.41,1190.30 L593.35,1189.31 L593.29,1188.33 L593.23,1187.34 L593.17,1186.36 L593.12,1185.38 L593.06,1184.39 L593.00,1183.41 L592.95,1182.42 L592.89,1181.44 L592.84,1180.46 L592.78,1179.47 L592.73,1178.49 L592.68,1177.50 L592.62,1176.52 L592.57,1175.54 L592.52,1174.55 L592.47,1173.57 L592.43,1172.58 L592.38,1171.60 L592.33,1170.62 L592.29,1169.63 L592.24,1168.65 L592.20,1167.67 L592.15,1166.68 L592.11,1165.70 L592.07,1164.71 L592.03,1163.73 L591.99,1162.75 L591.95,1161.76 L591.91,1160.78 L591.87,1159.79 L591.84,1158.81 L591.80,1157.83 L591.76,1156.84 L591.73,1155.86 L591.69,1154.87 L591.66,1153.89 L591.63,1152.91 L591.59,1151.92 L591.56,1150.94 L591.53,1149.95 L591.50,1148.97 L591.47,1147.99 L591.43,1147.00 L591.40,1146.02 L591.37,1145.03 L591.34,1144.05 L591.32,1143.07 L591.29,1142.08 L591.26,1141.10 L591.23,1140.11 L591.20,1139.13 L591.17,1138.15 L591.14,1137.16 L591.12,1136.18 L591.09,1135.19 L591.06,1134.21 L591.04,1133.23 L591.01,1132.24 L590.98,1131.26 L590.96,1130.27 L590.93,1129.29 L590.90,1128.31 L590.88,1127.32 L590.85,1126.34 L590.82,1125.35 L590.80,1124.37 L590.77,1123.39 L590.75,1122.40 L590.72,1121.42 L590.70,1120.43 L590.67,1119.45 L590.65,1118.47 L590.62,1117.48 L590.60,1116.50 L590.58,1115.52 L590.55,1114.53 L590.53,1113.55 L590.50,1112.56 L590.48,1111.58 L590.46,1110.60 L590.44,1109.61 L590.41,1108.63 L590.39,1107.64 L590.37,1106.66 L590.35,1105.68 L590.33,1104.69 L590.30,1103.71 L590.28,1102.72 L590.26,1101.74 L590.24,1100.76 L590.22,1099.77 L590.20,1098.79 L590.18,1097.80 L590.17,1096.82 L590.15,1095.84 L590.13,1094.85 L590.11,1093.87 L590.09,1092.88 L590.08,1091.90 L590.06,1090.92 L590.04,1089.93 L590.03,1088.95 L590.01,1087.96 L590.00,1086.98 L589.98,1086.00 L589.97,1085.01 L589.95,1084.03 L589.94,1083.04 L589.93,1082.06 L589.91,1081.08 L589.90,1080.09 L589.89,1079.11 L589.88,1078.12 L589.87,1077.14 L589.85,1076.16 L589.84,1075.17 L589.83,1074.19 L589.82,1073.20 L589.81,1072.22 L589.80,1071.24 L589.79,1070.25 L589.79,1069.27 L589.78,1068.28 L589.77,1067.30 L589.76,1066.32 L589.75,1065.33 L589.75,1064.35 L589.74,1063.37 L589.73,1062.38 L589.73,1061.40 L589.72,1060.41 L589.71,1059.43 L589.71,1058.45 L589.70,1057.46 L589.70,1056.48 L589.69,1055.49 L589.69,1054.51 L589.68,1053.53 L589.68,1052.54 L589.67,1051.56 L589.67,1050.57 L589.67,1049.59 L589.66,1048.61 L589.66,1047.62 L589.65,1046.64 L589.65,1045.65 L589.65,1044.67 L589.65,1043.69 L589.64,1042.70 L589.64,1041.72 L589.64,1040.73 L589.64,1039.75 L589.63,1038.77 L589.63,1037.78 L589.63,1036.80 L589.63,1035.81 L589.63,1034.83 L589.62,1033.85 L589.62,1032.86 L589.62,1031.88 L589.62,1030.89 L589.62,1029.91 L589.62,1028.93 L589.62,1027.94 L589.62,1026.96 L589.61,1025.97 L589.61,1024.99 L589.61,1024.01 L589.61,1023.02 L589.61,1022.04 L589.61,1021.05 L589.61,1020.07 L589.61,1019.09 L589.61,1018.10 L589.61,1017.12 L589.61,1016.13 L589.61,1015.15 L589.61,1014.17 L589.61,1013.18 L589.61,1012.20 L589.60,1011.22 L589.60,1010.23 L589.60,1009.25 L589.60,1008.26 L589.60,1007.28 L589.60,1006.30 L589.60,1005.31 L589.60,1004.33 L589.60,1003.34 L589.60,1002.36 L589.60,1001.38 L589.60,1000.39 L589.60,999.41 L589.60,998.42 L589.60,997.44 L589.60,996.46 L589.60,995.47 L589.60,994.49 L589.60,993.50 L589.60,992.52 L589.60,991.54 L589.60,990.55 L589.60,989.57 L589.60,988.58 L589.60,987.60 L589.60,986.62 L589.60,985.63 L589.60,984.65 L589.60,983.66 L589.60,982.68 L589.60,981.70 L589.60,980.71 L589.60,979.73 L589.60,978.74 L589.60,977.76 L589.60,976.78 L589.60,975.79 L589.60,974.81 L589.60,973.82 L589.60,972.84 L589.60,971.86 L589.60,970.87 L589.60,969.89 L589.60,968.90 L589.60,967.92 L589.60,966.94 L589.60,965.95 L589.60,964.97 L589.60,963.98 L589.60,963.00 L589.60,962.02 L589.60,961.03 L589.60,960.05 L589.60,959.07 L589.60,958.08 L589.60,957.10 L589.60,956.11 L589.60,955.13 L589.60,954.15 L589.60,953.16 L589.60,952.18 L589.60,951.19 L589.60,950.21 L589.60,949.23 L589.60,948.24 L589.60,947.26 L589.60,946.27 L589.60,945.29 L589.60,944.31 L589.60,943.32 L589.60,942.34 L589.60,941.35 L589.60,940.37 L589.60,939.39 L589.60,938.40 L589.60,937.42 L589.60,936.43 L589.60,935.45 L589.60,934.47 L589.60,933.48 L589.60,932.50 L589.60,931.51 L589.60,930.53 L589.60,929.55 L589.60,928.56 L589.60,927.58 L589.60,926.59 L589.60,925.61 L589.60,924.63 L589.60,923.64 L589.60,922.66 L589.60,921.67 L589.60,920.69 L589.60,919.71 L589.60,918.72 L589.60,917.74 L589.60,916.75 L589.60,915.77 L589.60,914.79 L589.60,913.80 L589.60,912.82 L589.60,911.83 L589.60,910.85 L589.60,909.87 L589.60,908.88 L589.60,907.90" fill="none" stroke="#ff00ff" stroke-width="2.6" stroke-linejoin="round"/>
<rect x="52.7" y="881.3" width="631.5999999999999" height="446.0" fill="none" stroke="#1a1a1a" stroke-width="1.4"/>
<line x1="481.8" y1="881.3" x2="481.8" y2="1327.3" stroke="#111" stroke-width="1.5"/>
<rect x="539.7" y="889" width="137.79999999999995" height="143" fill="#fff" fill-opacity="0.8" stroke="#444" stroke-width="1.2"/>
<line x1="547.9000000000001" y1="901" x2="582.2" y2="901" stroke="#d2d2d2" stroke-width="2.6"/>
<text x="588.7" y="906.3" font-size="16" fill="#2a3f5f">Total</text>
<line x1="547.9000000000001" y1="925.2" x2="582.2" y2="925.2" stroke="#0000ff" stroke-width="2.6"/>
<text x="588.7" y="930.5" font-size="16" fill="#2a3f5f">[0º, 30º)</text>
<line x1="547.9000000000001" y1="949.4" x2="582.2" y2="949.4" stroke="#ff0000" stroke-width="2.6"/>
<text x="588.7" y="954.6999999999999" font-size="16" fill="#2a3f5f">[30º, 60º)</text>
<line x1="547.9000000000001" y1="973.6" x2="582.2" y2="973.6" stroke="#008000" stroke-width="2.6"/>
<text x="588.7" y="978.9" font-size="16" fill="#2a3f5f">[60º, 180º]</text>
<line x1="547.9000000000001" y1="997.8" x2="582.2" y2="997.8" stroke="#00ffff" stroke-width="2.6"/>
<text x="588.7" y="1003.0999999999999" font-size="16" fill="#2a3f5f">4-10 atoms</text>
<line x1="547.9000000000001" y1="1022" x2="582.2" y2="1022" stroke="#ff00ff" stroke-width="2.6"/>
<text x="588.7" y="1027.3" font-size="16" fill="#2a3f5f">11-30 atoms</text>
</svg></body></html>
